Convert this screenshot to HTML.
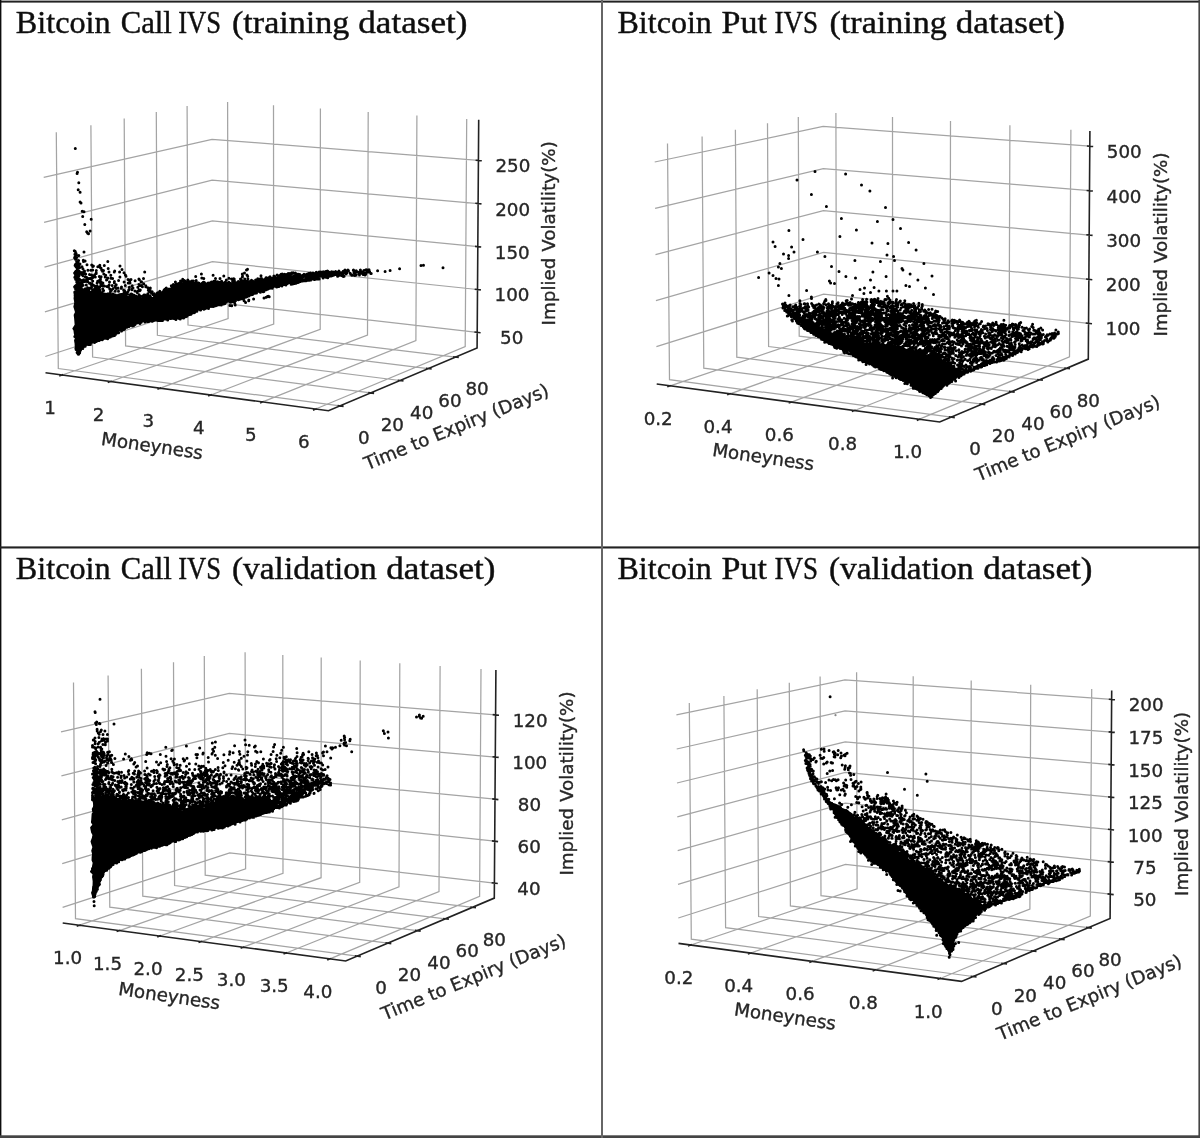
<!DOCTYPE html>
<html><head><meta charset="utf-8"><title>Bitcoin IVS</title>
<style>
html,body{margin:0;padding:0;background:#fff}
body{width:1200px;height:1138px;overflow:hidden}
svg{display:block}
.g{fill:none;stroke:#a4a4a4;stroke-width:1.25}
.a{fill:none;stroke:#222;stroke-width:1.6}
.t text{font-family:"DejaVu Sans","Liberation Sans",sans-serif;font-size:18.3px;fill:#262626;text-anchor:middle;stroke:#262626;stroke-width:.35px}
.d{fill:none;stroke:#000;stroke-width:3;stroke-linecap:round}
.e{fill:none;stroke:#000;stroke-width:2.2;stroke-linecap:round}
.k{fill:#000;stroke:#000;stroke-width:1.5;stroke-linejoin:round}
.h text{font-family:"Liberation Serif","DejaVu Serif",serif;font-size:32.6px;fill:#111;stroke:#111;stroke-width:.45px}
</style></head><body>
<svg width="1200" height="1138" viewBox="0 0 1200 1138">
<defs><filter id="soft" filterUnits="userSpaceOnUse" x="-20" y="-20" width="1240" height="1178"><feGaussianBlur stdDeviation="0.55"/></filter></defs>
<rect x="-20" y="-20" width="1240" height="1178" fill="#fff"/>
<g filter="url(#soft)">
<rect x="-20" y="-20" width="1240" height="1178" fill="#fff"/>
<path class="g" d="M62.1 375L228.1 318.6L227.6 102M110.6 381.5L273.7 324L273.5 105.3M160.2 388.2L320.2 329.4L320.4 108.6M210.9 395L367.5 335L368.2 112M262.7 401.9L415.9 340.7L416.9 115.4M315.7 409L465.2 346.5L466.7 119M340 405.9L58.3 368.5L56.3 132.3M370.6 392.9L92.6 357L90.9 125.3M400 380.5L125.6 345.9L124.2 118.6M428.2 368.6L157.4 335.3L156.3 112.1M455.4 357.1L188 325L187.1 105.9M45.3 356.5L212.5 302.1L477.2 332.3M44.9 311.9L212.4 261.6L477.5 289.5M44.5 267.2L212.3 220.9L477.8 246.6M44.1 222.3L212.1 180.2L478.1 203.6M43.7 177.3L212 139.3L478.4 160.4"/>
<path class="a" d="M45.5 372.8L328.5 410.8L477.1 347.9L478.7 119.8M63.2 374.6L59.2 376M111.7 381.1L107.7 382.5M161.3 387.8L157.4 389.2M211.9 394.6L208.1 396M263.7 401.5L260 403M316.7 408.6L313 410.2M337.6 405.6L343.6 406.4M368.2 392.6L374.1 393.4M397.7 380.2L403.5 380.9M425.9 368.3L431.7 369M453.1 356.8L458.8 357.5M474.4 332L480.6 332.7M474.7 289.2L480.9 289.9M475 246.4L481.2 247M475.3 203.3L481.5 203.9M475.6 160.2L481.8 160.7"/>
<g class="t"><text x="50.1" y="414">1</text><text x="98.6" y="420.5">2</text><text x="148.2" y="427.2">3</text><text x="198.9" y="434">4</text><text x="250.7" y="440.9">5</text><text x="303.7" y="448">6</text><text x="363.9" y="444.1">0</text><text x="392.3" y="431.1">20</text><text x="421.7" y="418.7">40</text><text x="450" y="406.8">60</text><text x="477.1" y="395.3">80</text><text x="511.7" y="344.2" text-anchor="start">50</text><text x="512" y="301.4" text-anchor="start">100</text><text x="512.3" y="258.5" text-anchor="start">150</text><text x="512.6" y="215.5" text-anchor="start">200</text><text x="512.9" y="172.3" text-anchor="start">250</text><text dy="5" transform="translate(152 447) rotate(8.2)">Moneyness</text><text dy="4.5" transform="translate(457 428.5) rotate(-22.3)">Time to Expiry (Days)</text><text transform="translate(555.4 233.3) rotate(-90)">Implied Volatility(%)</text></g>
<path class="g" d="M670.2 385.8L836.4 329.5L835.9 113M730 393.8L892.6 336.1L892.5 117M791.4 402.1L950.1 342.8L950.5 121.1M854.6 410.5L1009.1 349.8L1009.9 125.3M919.5 419.2L1069.5 356.9L1070.9 129.7M951.2 417.1L669.5 379.7L667.5 143.5M981.8 404.1L703.8 368.2L702.1 136.5M1011.2 391.7L736.8 357.1L735.4 129.8M1039.4 379.8L768.6 346.5L767.5 123.3M1066.6 368.3L799.2 336.2L798.3 117.1M656.4 346.7L823.6 294.1L1088.5 323.3M655.9 300.7L823.5 252.4L1088.8 279.3M655.5 254.6L823.4 210.6L1089.1 235.1M655.1 208.4L823.3 168.6L1089.5 190.7M654.7 162L823.1 126.5L1089.8 146.2"/>
<path class="a" d="M656.7 384L939.7 422L1088.3 359.1L1089.9 131M671.3 385.4L667.2 386.8M731.1 393.4L727.1 394.8M792.5 401.7L788.6 403.1M855.6 410.1L851.8 411.6M920.5 418.8L916.8 420.4M948.8 416.8L954.8 417.6M979.4 403.8L985.3 404.6M1008.9 391.4L1014.7 392.1M1037.1 379.5L1042.9 380.2M1064.3 368L1070 368.7M1085.7 323L1092 323.8M1086 279L1092.3 279.7M1086.3 234.8L1092.6 235.4M1086.6 190.5L1092.9 191M1086.9 146L1093.2 146.5"/>
<g class="t"><text x="658.2" y="424.8">0.2</text><text x="718" y="432.8">0.4</text><text x="779.4" y="441.1">0.6</text><text x="842.6" y="449.5">0.8</text><text x="907.5" y="458.2">1.0</text><text x="975.1" y="455.3">0</text><text x="1003.5" y="442.3">20</text><text x="1032.9" y="429.9">40</text><text x="1061.2" y="418">60</text><text x="1088.3" y="406.5">80</text><text x="1123" y="335.2" text-anchor="start">100</text><text x="1123.3" y="291.2" text-anchor="start">200</text><text x="1123.6" y="247" text-anchor="start">300</text><text x="1124" y="202.6" text-anchor="start">400</text><text x="1124.3" y="158.1" text-anchor="start">500</text><text dy="5" transform="translate(763.2 458.2) rotate(8.2)">Moneyness</text><text dy="4.5" transform="translate(1068.2 439.7) rotate(-22.3)">Time to Expiry (Days)</text><text transform="translate(1166.6 244.5) rotate(-90)">Implied Volatility(%)</text></g>
<path class="g" d="M79.6 925.2L245.6 868.9L245.1 652.2M119.5 930.6L283 873.3L282.8 654.9M160 936L321.1 877.7L321.2 657.6M201.3 941.6L359.7 882.3L360.2 660.4M243.4 947.2L399 886.9L399.8 663.2M286.2 953L439 891.6L440.1 666M329.9 958.8L479.6 896.3L481 669M357.2 956.1L75.5 918.7L73.5 682.5M387.8 943.1L109.8 907.2L108.1 675.5M417.2 930.7L142.8 896.1L141.4 668.8M445.4 918.8L174.6 885.5L173.5 662.3M472.6 907.3L205.2 875.2L204.3 656.1M62.6 907.3L229.7 852.8L494.4 883.1M62.2 863.7L229.6 813.1L494.7 841.2M61.8 819.9L229.5 773.4L495 799.2M61.4 775.9L229.3 733.5L495.3 757.1M61 731.9L229.2 693.5L495.6 714.8"/>
<path class="a" d="M62.7 923L345.7 961L494.3 898.1L495.9 670M80.7 924.8L76.7 926.2M120.5 930.2L116.6 931.6M161.1 935.6L157.2 937.1M202.4 941.2L198.5 942.6M244.4 946.8L240.6 948.3M287.3 952.6L283.5 954.1M330.9 958.4L327.2 960M354.8 955.8L360.8 956.6M385.4 942.8L391.3 943.6M414.9 930.4L420.7 931.1M443.1 918.5L448.9 919.2M470.3 907L476 907.7M491.6 882.7L497.8 883.5M491.9 840.9L498.1 841.6M492.2 798.9L498.4 799.6M492.5 756.8L498.7 757.4M492.7 714.6L499 715.2"/>
<g class="t"><text x="67.6" y="964.2">1.0</text><text x="107.5" y="969.6">1.5</text><text x="148" y="975">2.0</text><text x="189.3" y="980.6">2.5</text><text x="231.4" y="986.2">3.0</text><text x="274.2" y="992">3.5</text><text x="317.9" y="997.8">4.0</text><text x="381.1" y="994.3">0</text><text x="409.5" y="981.3">20</text><text x="438.9" y="968.9">40</text><text x="467.2" y="957">60</text><text x="494.3" y="945.5">80</text><text x="528.9" y="895" text-anchor="start">40</text><text x="529.2" y="853.1" text-anchor="start">60</text><text x="529.5" y="811.1" text-anchor="start">80</text><text x="529.8" y="769" text-anchor="start">100</text><text x="530.1" y="726.7" text-anchor="start">120</text><text dy="5" transform="translate(169.2 997.2) rotate(8.2)">Moneyness</text><text dy="4.5" transform="translate(474.2 978.7) rotate(-22.3)">Time to Expiry (Days)</text><text transform="translate(572.6 783.5) rotate(-90)">Implied Volatility(%)</text></g>
<path class="g" d="M690.8 945L857.1 888.8L856.6 672.3M750.7 953L913.3 895.4L913.2 676.3M812.1 961.3L970.9 902.1L971.2 680.4M875.3 969.8L1029.9 909L1030.7 684.7M940.2 978.5L1090.3 916.1L1091.7 689M973 976.5L691.3 939.1L689.3 702.9M1003.6 963.5L725.6 927.6L723.9 695.9M1033 951.1L758.6 916.5L757.2 689.2M1061.2 939.2L790.4 905.9L789.3 682.7M1088.4 927.7L821 895.6L820.1 676.5M678.3 918L845.5 864.4L1110.3 894.2M678 884.4L845.4 833.9L1110.5 861.9M677.7 850.7L845.3 803.2L1110.7 829.6M677.3 816.9L845.2 772.5L1110.9 797.2M677 783L845.1 741.8L1111.2 764.7M676.7 749L845 710.9L1111.4 732.1M676.4 714.9L844.9 680L1111.6 699.4"/>
<path class="a" d="M678.5 943.4L961.5 981.4L1110.1 918.5L1111.7 690.4M691.9 944.6L687.9 946M751.8 952.7L747.8 954.1M813.2 960.9L809.3 962.4M876.3 969.4L872.6 970.9M941.2 978.1L937.5 979.6M970.6 976.2L976.6 977M1001.2 963.2L1007.1 964M1030.7 950.8L1036.5 951.5M1058.9 938.9L1064.7 939.6M1086.1 927.4L1091.8 928.1M1107.5 893.9L1113.7 894.6M1107.7 861.6L1113.9 862.3M1107.9 829.3L1114.1 830M1108.1 796.9L1114.4 797.5M1108.3 764.4L1114.6 765M1108.6 731.9L1114.8 732.4M1108.8 699.2L1115 699.7"/>
<g class="t"><text x="678.8" y="984">0.2</text><text x="738.7" y="992">0.4</text><text x="800.1" y="1000.3">0.6</text><text x="863.3" y="1008.8">0.8</text><text x="928.2" y="1017.5">1.0</text><text x="996.9" y="1014.7">0</text><text x="1025.3" y="1001.7">20</text><text x="1054.7" y="989.3">40</text><text x="1083" y="977.4">60</text><text x="1110.1" y="965.9">80</text><text x="1144.8" y="906.1" text-anchor="start">50</text><text x="1145" y="873.8" text-anchor="start">75</text><text x="1145.2" y="841.5" text-anchor="start">100</text><text x="1145.4" y="809.1" text-anchor="start">125</text><text x="1145.7" y="776.6" text-anchor="start">150</text><text x="1145.9" y="744" text-anchor="start">175</text><text x="1146.1" y="711.3" text-anchor="start">200</text><text dy="5" transform="translate(785 1017.6) rotate(8.2)">Moneyness</text><text dy="4.5" transform="translate(1090 999.1) rotate(-22.3)">Time to Expiry (Days)</text><text transform="translate(1188.4 803.9) rotate(-90)">Implied Volatility(%)</text></g>
<path class="k" d="M74.6 293L77.5 292.6L80.5 292.7L84 294.9L86.7 293.6L90.6 294.6L93.3 294.6L96.6 295.5L98.9 294.9L101.8 294.6L105.2 295.8L110 296.3L113.5 296.5L114.7 296.5L120 297.4L122.1 297.3L126.7 298L130.9 297.4L133.3 298.7L136.2 297.9L140.1 298.1L143.3 298L147.6 296.7L150.5 298L153 297.8L157.1 295.2L160 294.6L163.8 293.2L168 290.8L172.1 288.8L174 287.4L176.7 286.3L179.5 284.5L183.3 283L187 281.8L192 283.3L195.6 283.9L200 284.6L203.1 284.1L206.5 285.5L209.7 283.9L213.6 283.9L216.7 283.8L220 283.5L224.3 284.5L226.6 284.6L229.7 285L233.3 284.3L235.6 284.3L238.6 282.1L243.1 282.7L246.8 284.9L250 282.8L253.5 282.6L256.5 281.4L260.6 281.3L262.5 280.2L266.7 279.6L270.2 278.3L274.1 278.4L276.7 277.1L279.9 275.4L283.3 276.3L284.9 276.6L288.6 276.2L292.6 275.9L296.8 273.7L300 274.6L299.9 278.1L300 282L297.5 282.1L293.3 282.4L289.5 282.5L287.6 283.9L283.3 284.5L279.4 285.2L276.2 286.5L273 287.3L268.9 287.9L266.7 289.5L262.5 290.9L260 291.7L256.5 292L251.9 294L250 294.2L246 296.3L243.3 297.7L239.1 297.6L237.7 299.1L233.3 300.4L229.6 300.8L226.7 302L223.2 303.1L221 304.7L216.7 305.2L212.2 306.9L210 307L207.1 308.4L204 309.2L200 309.2L195.7 311.3L193.3 312L191.5 314.9L185.7 314.1L183.3 317.2L180 318.6L176.7 318.7L173.6 318.9L169.8 319.1L166 318L163.2 318.6L160 319.5L156.6 320.2L152.5 319.7L149.2 319.8L146.8 320.2L143.3 321.2L141.6 321.2L137.4 323.4L133.3 323.5L129.7 326.4L126.7 327L123.7 329.6L121.1 328.6L117.8 330.4L113 333.2L113.9 335.4L110 337L107.6 338.1L103.4 339L100 340.6L97.1 341.2L93.3 342L88.6 344.6L85 345.4L83 347L81 350.7L77.5 354.5L76.8 349L75.5 347.7L75.3 343.3L74.8 340.6L75.8 337.5L74.6 333.7L74.2 330.3L73.1 328.7L75.4 325L75.1 321.3L74.8 317.8L74.4 315L75.8 312.2L74.6 308.2L74.1 306.8L75 302.4L74.3 298.4L74.5 296.8Z"/>
<path class="d" d="M281.8 274.6h0M161.6 294.9h0M105.2 295.2h0M245.9 281.2h0M298.4 274.3h0M107.5 294.5h0M235.1 283.3h0M260.5 280.8h0M282.1 277.7h0M101.9 296.2h0M94.8 292.9h0M297.3 274.3h0M100.4 294.8h0M114 298.2h0M204 282.3h0M174.9 286.8h0M243.6 284.5h0M117.1 296.1h0M280.7 275.4h0M123.1 297.4h0M247.8 281.8h0M89.3 295.5h0M181 282h0M81.4 291.9h0M144.9 295.8h0M144.6 298.3h0M236.7 282.7h0M176.9 287.3h0M86.9 295.1h0M299 276h0M274.8 276.5h0M281.1 274.2h0M129.8 297.1h0M163.1 294.5h0M125.4 298.4h0M102.3 293.3h0M81.5 293.9h0M187.8 283.2h0M101.9 296.8h0M113.9 297.1h0M268.5 280.2h0M183.5 283.8h0M115.5 295.8h0M225.4 282h0M134.1 298.4h0M193.1 281.5h0M138 297h0M190.7 284.4h0M216.1 283.6h0M195.2 283.4h0M163.4 294.3h0M252.7 280.9h0M271.4 280.2h0M114.6 297.9h0M104.8 294.7h0M99.6 294.1h0M295.4 273.1h0M286.8 277.1h0M126.2 296.2h0M293.2 272.8h0M121 298.5h0M188.5 282.1h0M186.4 282.2h0M280.8 277.2h0M83.2 291.4h0M145.3 295.8h0M209.6 283.6h0M89 291.9h0M127.5 297.5h0M179.1 285.5h0M273.1 278.5h0M246 283.1h0M261.4 278.3h0M246 281.6h0M234 285.3h0M266 277.7h0M228 283.8h0M240.3 281.4h0M142.2 299.3h0M111.9 294.7h0M245 282.4h0M111.5 296.1h0M281.8 277h0M208.9 285.4h0M148.5 298.3h0M285.7 274.9h0M109.1 294h0M190.3 283.1h0M94.7 296.1h0M292.2 273h0M204 285h0M255.6 279.9h0M137.7 297.3h0M255.2 281.4h0M232.9 284.2h0M219.5 285.3h0M288.8 276h0M172 287.8h0M167.8 291.2h0M230.4 283.6h0M262.7 279.5h0M149.8 296.8h0M225.4 283.5h0M121.3 296.1h0M198.7 282.9h0M247.8 281.1h0M88.8 293.5h0M238.5 282.5h0M77.5 294.1h0M290.6 276.4h0M179.9 283.6h0M166.5 291.5h0M236.8 285.1h0M192.3 282.3h0M239.2 283.5h0M93.2 293.9h0M201.2 284.6h0M200.1 285.9h0M284.7 274.2h0M83 295.1h0M176.4 286.6h0M216.6 284.5h0M198.5 284.4h0M90.8 295.4h0M208.1 283h0M124.2 298.1h0M118.2 295.7h0M272.6 278h0M118.7 297.4h0M176.7 284.6h0M243.6 281.1h0M233.9 284.9h0M199.1 285.2h0M256.4 281.7h0M179.3 283.8h0M214.2 284.1h0M259.1 278.9h0M227.3 284.3h0M219.1 283.7h0M165.8 291.8h0M200.2 283.9h0M163.5 291.3h0M242.2 283.9h0M160 294h0M179.5 285.4h0M244.7 282.2h0M187.8 279.9h0M150.4 297.5h0M260.9 280.7h0M160.1 295.7h0M264.9 281h0M251.5 280.2h0M175.1 287.7h0M235.1 282.7h0M81.8 293.9h0M162.1 292.6h0M268.4 278h0M205 283.8h0M200.1 284.2h0M224.2 284.3h0M227.2 284.2h0M205.9 284.5h0M169.1 289.3h0M115.5 297.1h0M140.2 296.9h0M140.2 297.9h0M171.4 288.4h0M299.8 274.4h0M153.7 295.1h0M175.1 286.6h0M158 293.9h0M205.4 283.4h0M288.2 273.6h0M274.9 278.1h0M159.3 296h0M134.3 296.9h0M273.9 276.1h0M185.6 282.2h0M228.9 282.2h0M90.6 295.4h0M269.8 277h0M144.8 296.9h0M185.8 281.7h0M118.8 295.2h0M169 289.1h0M261.1 279.3h0M261 281h0M181.1 285.6h0M247.6 282h0M177.5 286.5h0M158.4 293.4h0M197.4 284h0M119.5 296.5h0M145.6 296.6h0M233.7 285.1h0M248.1 283.5h0M86.8 292.1h0M239.6 282.4h0M258.7 281.9h0M174.6 288.8h0M88.1 294.1h0M228.3 285.1h0M129.7 299.4h0M219.4 284.3h0M159.1 295.1h0M218 282.2h0M132.4 297h0M181.7 283.8h0M192.6 284.6h0M216.6 282.5h0M119.9 296.4h0M291.4 273.1h0M139.4 298.3h0M143.2 297.3h0M132 298.7h0M89.3 292.7h0M169.6 290.1h0M248.4 283.1h0M234.4 283.6h0M118.2 295.4h0M105 294.9h0M146.7 298.4h0M247.6 281.3h0M184.3 280.5h0M282.6 275.8h0M222.4 282.4h0M214.3 284.6h0M247.5 283.8h0M243.6 284.7h0M151.7 298.7h0M132.1 298.1h0M172.9 286.5h0M184.6 283.4h0M106.1 296.3h0M173.8 288.3h0M218.6 284.1h0M104.7 296.6h0M105.2 294.5h0M113.3 296.8h0M138.1 297.6h0M291.3 274.3h0M79.9 292.3h0M115.6 295h0M111.3 295.9h0M181.2 283h0M77.4 292.4h0M177.6 286.8h0M110.8 296.6h0M135 298.2h0M253.1 283.6h0M115.6 295.2h0M213.5 283.5h0M165.8 289.7h0M168.4 289.7h0M258.6 282.5h0M110.4 294.2h0M282.8 276.9h0M275.9 278.7h0M225.1 283.6h0M85.2 294.6h0M223.9 283.3h0M209.7 283h0M248.5 282.5h0M122.4 295.8h0M289.5 274.4h0M274.3 276.8h0M99.9 296.7h0M145.3 296.8h0M81.4 292h0M261.8 281.8h0M280.8 274.8h0M297.7 276.2h0M212.3 284.9h0M224.5 284.1h0M227.3 283.3h0M202.9 282.8h0M289.2 273.6h0M211.4 282h0M149.9 296.8h0M189.9 281.8h0M78.3 294.5h0M237.7 283.6h0M230.8 285.7h0M169.2 290.6h0M266.4 277.7h0M244.8 283h0M150.1 296h0M91.5 292.1h0M103.9 297h0M115.7 295.7h0M142.7 296.3h0M175.2 285h0M283.7 276.4h0M136.9 297.3h0M277.1 275.1h0M227.8 284.5h0M266.9 278.1h0M165.2 292.8h0M74.8 292.5h0M251.9 282.1h0M129.5 297.3h0M106.2 296.1h0M254.7 283.4h0M229.1 284.9h0M122 295.3h0M134.5 297.5h0M286.3 274.4h0M134.7 295.9h0M232.8 282.6h0M103.3 294.1h0M258.2 282.6h0M100.6 295.8h0M190.6 283.8h0M82 293.9h0M198.3 283.1h0M265.3 278.9h0M93.1 293.8h0M136 296.7h0M246.8 282.3h0M211.4 284.6h0M144.7 295.8h0M216.1 282.4h0M176.8 285.7h0M268.9 279.4h0M140.2 298.1h0M245.3 283.6h0M217.7 281.8h0M241.3 281.8h0M159.5 293.6h0M237.8 282.5h0M231.9 284.8h0M161.6 295.3h0M80 293.7h0M291.6 273.1h0M235.3 282.8h0M120.3 298.1h0M239.2 285h0M137 297.9h0M180.1 283.5h0M268.3 278.2h0M175.3 287.1h0M139.1 299h0M143.1 296.9h0M91.4 292.7h0M123.6 295.2h0M135.3 296h0M113.1 297.5h0M88.3 294.2h0M179.3 286.5h0M122.5 295.3h0M241 282.6h0M282.5 277.1h0M135.7 298.1h0M203.3 282.2h0M188.5 281.4h0M91 294.5h0M102.3 295.8h0M274 277.5h0M181.2 282.3h0M255.8 283h0M89.1 293.6h0M208.4 284.6h0M269.6 278.7h0M270 276.8h0M75.3 291.5h0M191.9 281h0M157.4 294h0M245.8 281.5h0M90.6 293.5h0M133.9 296.8h0M257.7 280.3h0M180.1 285.3h0M176.4 284h0M292.9 273.2h0M146.3 298.7h0M83.5 293.4h0M162.7 292.6h0M108.7 294.7h0M92.5 294.2h0M202.4 282.9h0M289.5 276.6h0M205 285.2h0M220.3 282.7h0M147.2 295.5h0M203.1 285.5h0M244 282h0M207.2 284.4h0M255.4 282.7h0M198.4 285h0M118.8 298.1h0M205.7 283.8h0M185 283.3h0M111.5 295.8h0M213.9 282.5h0M258.6 280.6h0M104.6 294.6h0M197.2 284.7h0M239.8 284.5h0M165.1 290.2h0M135.1 296.2h0M158.2 294.5h0M196.4 283.4h0M229.2 285.5h0M200.4 285.8h0M98.2 296.5h0M258.8 281.5h0M282.8 276.6h0M96.9 293.6h0M130.4 297h0M113.3 294.1h0M265.9 280.6h0M279.7 275.6h0M84 291.6h0M149.2 296.6h0M117.5 295.9h0M180.1 285h0M282.3 274h0M89.9 292.7h0M112.7 297.7h0M184.1 283.7h0M121.5 330.8h0M121.2 330.6h0M164.9 319h0M252.5 294.4h0M82.8 348.6h0M263.2 291.8h0M297.8 282.6h0M200.4 310h0M155.4 320h0M126.9 327.3h0M115.4 334.6h0M147.1 319.6h0M266.5 289.4h0M74.8 336.5h0M251.6 292.4h0M224.9 303.2h0M78.3 354h0M89.8 344.5h0M240.1 298.1h0M226.1 301.9h0M144.9 322h0M268.7 288.5h0M121.5 330.9h0M170.5 318.6h0M100 339.4h0M219.9 303.4h0M93.7 341h0M114.6 333.9h0M247.2 294.6h0M187.1 316h0M223.6 304.1h0M239.9 297.4h0M211.1 305.4h0M118.7 330.3h0M231.9 301.8h0M100.2 338.6h0M135 324.4h0M175.3 318.1h0M99.9 339.1h0M98 339.8h0M221.4 304.1h0M241.7 296.7h0M157.8 320.6h0M162.1 319.4h0M120.9 329.6h0M191.9 311.8h0M205.2 308.3h0M285 284.4h0M83.2 347.1h0M279.4 285.1h0M297.9 282.1h0M152.3 321.2h0M238 299.1h0M260.4 292.3h0M221.2 304h0M139.3 322.6h0M214.8 305.5h0M272.2 288.2h0M98.2 340.4h0M182.5 317.8h0M79.2 351.7h0M265 289.4h0M249.9 295.1h0M84.4 345.7h0M242.6 298.7h0M230.3 302.2h0M102.6 339.3h0M192.7 311.1h0M229.8 301.8h0M149.8 320.8h0M187.9 314.1h0M294.6 283.6h0M217.7 304.7h0M187.5 313.7h0M88.9 342.5h0M101.4 338.7h0M266.3 289.8h0M241.8 298.8h0M262.7 289.6h0M204.7 306.7h0M204.2 308.5h0M193.9 311.3h0M240.1 298.2h0M148.7 321.4h0M186.3 316.6h0M180.2 319h0M223.5 303.6h0M122.9 327.8h0M79.7 351h0M94 341.9h0M114.5 335.4h0M267.7 287.9h0M236 299.6h0M243.5 297.2h0M174.4 318.4h0M97.3 340h0M179.2 317.4h0M269 287.9h0M189.1 313h0M216.8 305.2h0M158.6 319.3h0M107.9 338h0M215.6 305.7h0M183.6 318.1h0M152.1 319.7h0M132.5 325.9h0M231.3 300.4h0M145.9 321.2h0M204.2 309h0M132.7 324.5h0M244.3 296.9h0M158.8 319.8h0M182.2 316.3h0M283.6 284.4h0M236.4 298.3h0M240.4 297.6h0M150.7 320.6h0M263.9 291.5h0M161.2 320.6h0M297.4 281.6h0M276.5 285.5h0M223 303.1h0M261.9 290.8h0M197 310h0M239.7 299.3h0M102.2 339.7h0M297.4 282.4h0M254.9 293.2h0M106.2 338.2h0M128.9 326.6h0M204 309.3h0M246.4 297.1h0M107.7 338.8h0M291.1 284.2h0M152.2 319.1h0M298.9 281.9h0M244.1 297.9h0M183.7 316.3h0M156 320h0M95.8 339.9h0M93.9 340.9h0M216.3 304.9h0M248.8 293.5h0M279.1 285.4h0M156.5 319h0M285.9 284.9h0M141.1 321.3h0M286.4 283.6h0M281.7 285.7h0M109.1 337.3h0M268.5 287.6h0M233 299.5h0M232.8 300.7h0M263.9 289.4h0M195.3 310.3h0M188.5 314.7h0M157 319.6h0M269.6 287.9h0M277.7 286.2h0M110.3 337h0M248.5 293.6h0M136.3 322.9h0M115.6 333h0M118.6 332.7h0M203.6 307.1h0M137.3 322.7h0M128.8 325.3h0M96.3 341.5h0M147.4 321.5h0M249 293.4h0M78.9 353.8h0M183.1 317.6h0M210.2 306h0M85.2 346.3h0M140.5 321.5h0M278.9 286.5h0M298.7 280.9h0M266.2 289.4h0M112.4 335.4h0M246.7 296.8h0M175.9 319.5h0M112.6 335.4h0M182.7 316h0M282.6 284.4h0M272.3 287.3h0M162.5 320.6h0M88.4 344.4h0M277.5 285.8h0M296.9 281.9h0M189.6 314.5h0M124.9 326.8h0M196.9 311.2h0M231.4 301.2h0M183 316.9h0M153.7 320.6h0M130 325.4h0M141.1 320.8h0M85.3 344.9h0M131.7 323.9h0M289.4 282.3h0M75.9 348.6h0M238.4 299.7h0M252.3 292.7h0M165.5 319.1h0M208.5 308.5h0M123.9 329.4h0M225 303.5h0M234 300.5h0M240 298.7h0M185.1 316.3h0M293.3 283.1h0M269.8 288.3h0M203.4 307.9h0M228.2 300.8h0M136.1 322.4h0M287.3 283.4h0M219.8 304.8h0M276.3 286.6h0M139.3 321.6h0M296 283.3h0M97.9 339.2h0M193.9 312.8h0M99 340.6h0M116.9 332.9h0M246.7 295.5h0M89 344.5h0M160.5 318h0M117.3 331.1h0M266.2 289.6h0M92.6 341.6h0M150.1 320.1h0M267.5 289.2h0M229.3 300h0M233 301.6h0M298 282.6h0M79.3 351.3h0M224.3 303.3h0M242.4 297.9h0M243.1 298.1h0M235.4 300.3h0M90.4 344.4h0M93 340.9h0M248.7 296.1h0M212.3 306.2h0M133.4 323.7h0M76.1 349.4h0M194.6 310.9h0M94.5 342.6h0M243.1 297.7h0M151 319.1h0M256.5 293h0M95.6 341.1h0M185.7 316.7h0M96.6 339.6h0M250.4 294.9h0M200.6 310h0M127.1 325.4h0M291.6 283h0M228.1 300.5h0M150 320.4h0M267.3 288.1h0M159.9 320.4h0M287 282.9h0M141.2 322.2h0M296.5 282.8h0M88.2 343.5h0M240 297.7h0M139.9 323.4h0M169.8 317.6h0M217.8 304h0M84.4 345.6h0M124.5 328.4h0M97.5 340.2h0M241.2 297.1h0M124 328.6h0M186.6 315.9h0M148.3 321.1h0M127.4 326.6h0M285.4 283.5h0M188.7 312.9h0M221 303.8h0M233.2 300.6h0M259.6 291.5h0M133.5 325.7h0M91.8 341.7h0M179.6 318.7h0M112.5 336h0M78.7 354.2h0M281.9 285.9h0M215.6 304.6h0M167.7 320.1h0M104.9 338.1h0M246.1 296.6h0M194.5 312.6h0M113.4 335.1h0M296 282.7h0M288.9 282.4h0M283.5 284.6h0M260.8 290.6h0M194.2 311.2h0M141.9 321.2h0M221.3 304.9h0M108.2 337.8h0M213.4 306.5h0M89 342.7h0M77.1 352.5h0M235.7 300.6h0M151.5 319.2h0M231.6 301.9h0M250.3 293.8h0M262.8 290.3h0M213.2 306h0M265.4 289.6h0M222.9 303h0M283.6 284.1h0M276.7 286.9h0M83.8 346.2h0M134.5 323.2h0M161.9 319.1h0M131 324.2h0M114 334.3h0M271.4 287.9h0M79.7 352.7h0M115.1 332.7h0M245.8 296h0M124.5 328.9h0M132.4 324.4h0M292.6 283.9h0M246.4 296.5h0M175.4 317.4h0M74.6 272.9h0M98.4 291.4h0M129.3 279.9h0M81.4 288.8h0M171.7 286.4h0M179.2 284.3h0M178.5 283.4h0M97.5 293.5h0M77.7 284.2h0M196.2 280.5h0M109.3 296.2h0M131.8 289.3h0M139.8 285.5h0M106.9 279.8h0M131.8 296.2h0M96.2 273.5h0M182.8 280.5h0M85.3 288.7h0M137.8 287.2h0M86.4 279.7h0M82.7 282.1h0M128.1 291.5h0M98.5 291.7h0M91.2 288.3h0M141.1 282.1h0M233.5 278.7h0M82.2 274h0M147.7 295.5h0M242.3 274h0M232.8 282.8h0M104.4 286.1h0M92.4 275.7h0M256.7 280.1h0M125.3 285.4h0M87.5 280.1h0M152.2 292.9h0M137.2 292.4h0M76.1 290.9h0M112.2 295h0M99.2 290.8h0M122.9 296h0M114.3 272h0M97.1 289.6h0M114.3 282.7h0M120 295h0M140.4 295.9h0M221.3 283.5h0M252.7 282h0M155.5 295.1h0M239.3 282.2h0M139 289.8h0M87 290.1h0M90.9 278.3h0M79.1 282.9h0M101.4 295.3h0M215.5 278.6h0M110.9 278.2h0M101.7 285.6h0M219.8 282.3h0M249.9 281.6h0M141.4 285.5h0M257.7 278.8h0M132.2 285.8h0M150.9 292.5h0M110.5 291.6h0M133.7 294.9h0M134.9 291h0M188.3 281.2h0M221.6 281.3h0M203.8 278.4h0M248.5 281.7h0M83.3 290.5h0M261.6 279.4h0M107.8 277.9h0M80.6 286.3h0M85 281.5h0M101.3 295.2h0M228.9 278.2h0M142.4 286.7h0M118.6 280.6h0M138.3 297.7h0M113.3 296.3h0M158.9 292.9h0M105.7 275.2h0M195.6 283.1h0M111.6 289.8h0M147.2 295.3h0M83.5 261.5h0M80.7 287h0M83.5 289.8h0M204.4 282.6h0M79.7 284.3h0M116.8 296.3h0M84.5 271.5h0M90.9 288.2h0M118.5 291.2h0M115.5 285.8h0M78.6 267.4h0M104.6 294h0M108.2 268.5h0M159.8 291.3h0M121.2 294.6h0M90.2 288h0M213.8 281.2h0M134.6 297h0M182 280.7h0M261 275.8h0M123.3 295.9h0M138.9 284.6h0M160.3 293.8h0M244.8 278.9h0M139.7 290.7h0M200.1 284.2h0M149.3 288.4h0M78.8 255.5h0M90.9 292.9h0M114.7 271.1h0M135.1 280.7h0M112.2 285.4h0M175.4 282h0M123.3 293.9h0M92.7 270h0M89.2 293.2h0M83.1 285.3h0M130.9 296.8h0M104.3 265.4h0M89.6 293.6h0M86.7 281.2h0M115.3 286.6h0M150.3 288.1h0M120.2 294.4h0M124.6 290.9h0M93.3 292.2h0M133 288.1h0M202.2 284.2h0M86 289.6h0M108.5 286.9h0M130.1 294.8h0M248.5 281.7h0M145 294.9h0M131 279.4h0M107.7 294h0M97.1 282.9h0M80 290.7h0M89.5 274.6h0M87.9 270.2h0M116.3 288.6h0M201.8 278.1h0M123.7 293.7h0M129.4 287.3h0M76.6 272.6h0M139 294.8h0M148 297.4h0M157.3 293h0M97.2 286h0M97.3 291.4h0M150.5 297h0M196.5 282.4h0M125.8 295.9h0M102.7 288.8h0M126.3 294.6h0M78.4 288.3h0M76 289.1h0M74.9 287.4h0M132.5 287.7h0M217 283.5h0M96.6 291.1h0M107 286.4h0M105.9 294.3h0M74.6 286.8h0M115.2 291.3h0M87.7 291.5h0M105 295.2h0M82.2 284h0M75.3 287.2h0M124.1 292.3h0M103.3 290.6h0M91.8 283.8h0M143.8 295h0M242.3 281.3h0M128.2 282.9h0M243.3 281.8h0M164.7 291.1h0M232.6 281.2h0M99.7 287.1h0M86.9 289.2h0M96.2 272.7h0M125.4 274.9h0M226.3 280.1h0M108.1 294.5h0M94.7 274.8h0M238.3 281.6h0M154.5 296.9h0M122.4 294.5h0M94.6 288.7h0M214.5 283.8h0M82.9 268.7h0M179.6 284.2h0M97.9 289.7h0M173.3 284.4h0M101.3 294.1h0M131 294h0M85.4 277h0M180.5 280.9h0M131.9 289.7h0M137.6 297.4h0M234.4 280.8h0M135.8 297.7h0M75.1 265.4h0M203.9 284.3h0M74.6 257.8h0M229 282.7h0M118.4 295.7h0M103.6 290.5h0M75.7 275.4h0M239.8 283h0M134 296h0M94.8 286h0M175.5 285.1h0M151.5 293.2h0M90.4 292.9h0M127.2 294.1h0M217.9 283.1h0M247 274.9h0M112.3 295.4h0M215.8 283.1h0M137.3 291.5h0M242.4 277h0M241.8 280.5h0M131.6 293.9h0M124.1 281.9h0M103.2 285.6h0M91.5 287.4h0M75.1 288.1h0M121.3 288.2h0M183.2 280.2h0M136 296.1h0M219.4 283.4h0M214.8 283.8h0M158.1 292.8h0M122.3 297h0M164.1 290h0M80.8 287.8h0M103.9 295.4h0M81.9 286.1h0M91.7 265h0M86.3 285.1h0M171.9 287.1h0M148.3 290.2h0M138.9 279.1h0M119.9 276.9h0M77.9 291.4h0M89.9 283.1h0M140.3 290.1h0M88.5 289.4h0M250.2 282.4h0M99.5 289.6h0M166.3 288h0M102.9 282.9h0M255.5 281h0M183.1 280.8h0M118.4 294.9h0M103.5 270.4h0M87.2 292.4h0M247.7 276.2h0M83.6 279.8h0M94.2 293h0M112.8 294h0M113.2 288.6h0M129.7 281.5h0M93 285.3h0M80.8 289.7h0M109.2 296h0M145.8 286.8h0M171.3 285.7h0M96.1 293.7h0M102.2 292.4h0M109.1 285.1h0M124.4 292.5h0M211.3 282.8h0M128.8 289.7h0M109.8 289h0M121.5 286.9h0M100.2 282.6h0M234.2 279h0M241.4 283h0M75.4 288.7h0M83 275.7h0M78.7 290h0M147.8 293.8h0M109.5 282h0M247.1 282.8h0M112.3 294.7h0M95.3 291.5h0M212.1 284h0M195.7 276.6h0M123.7 290.3h0M149.4 291.6h0M79.7 287h0M247.9 278.9h0M203.4 283.6h0M117.7 295.8h0M193.3 280.9h0M221.2 281.7h0M100.5 279h0M213.1 275.2h0M251.7 281.6h0M202.6 283h0M89.5 283.2h0M153.2 294.8h0M215.4 281.2h0M99.4 289.7h0M235 284h0M231.7 283.7h0M126.8 292.5h0M239.4 283.5h0M76.3 275.6h0M231.6 279h0M128.6 296.9h0M77 285.3h0M164.8 289.2h0M91.6 292.9h0M182.7 279.2h0M100.6 281.8h0M172.9 288.2h0M225.2 283.5h0M127.4 294h0M94.8 294.3h0M148 294.3h0M102.3 284.7h0M78.9 289.2h0M75.2 295h0M79.2 278.9h0M79.4 279.2h0M76.5 278.5h0M76.7 264h0M76.8 265.5h0M76.1 289.7h0M79.7 279.6h0M77.4 293.4h0M78.4 263.2h0M77.8 278h0M75.5 278.5h0M77.3 269.3h0M80 264h0M79.4 279.3h0M78.6 282h0M76.5 288.2h0M78.3 294.2h0M76.5 294h0M75.4 274.7h0M79.6 290.2h0M76.1 253.4h0M78.9 274.8h0M76.6 261.8h0M75.3 271.9h0M79.1 265.5h0M76.2 292.3h0M78.7 279.4h0M76.3 254.7h0M78.1 289.1h0M76.7 257.2h0M80 286.5h0M75.9 271.3h0M76.5 284.9h0M75.1 256.5h0M78.7 283.6h0M75.5 259.3h0M76.1 264.1h0M78.3 293.9h0M75.3 285.9h0M79.7 291h0M79.2 286.9h0M77.4 293.3h0M75.9 255.1h0M76.9 289.1h0M77.8 286h0M77.4 269.9h0M77.7 265.8h0M78.4 280.9h0M76.9 282.2h0M78.6 285h0M77.3 279.9h0M76.6 290.5h0M76 275.7h0M78.9 267.9h0M75.9 275.9h0M77.3 274.7h0M79.6 292.9h0M74.8 277.3h0M77.1 286.9h0M79.2 271.3h0M78.3 293.4h0M76 285.6h0M75.4 252.1h0M77.6 265.4h0M77.2 267.6h0M74.9 254.2h0M78.2 285.3h0M77.5 275.4h0M78.6 260.4h0M76.8 286.8h0M76 289.4h0M78.9 273.5h0M75.1 251.2h0M79.7 293.8h0M75.9 279.5h0M75.4 264.6h0M78.1 278.2h0M76.2 291.4h0M77 286h0M78.9 293.1h0M93.2 285.1h0M81.7 274.4h0M96 292.5h0M83.4 292.8h0M76.4 272.4h0M101.3 293.2h0M78 287.5h0M99.3 276.6h0M91.9 294.3h0M79.9 282.7h0M85.1 261.1h0M78.9 275.9h0M97.8 266.8h0M101 284.6h0M85.3 289.7h0M93.7 292h0M87.3 278.3h0M86.9 294.5h0M85.3 291.8h0M87.6 281.8h0M79.2 291.2h0M93.5 276.6h0M83.3 274.2h0M75.6 279.2h0M81.5 280.5h0M91.4 279h0M93.3 292.1h0M97.7 291.3h0M75.2 273.7h0M89.1 278.5h0M92.7 281.1h0M83.4 293.8h0M83.1 293.2h0M91.6 275.1h0M83.1 294.1h0M97.4 288.4h0M83.8 272.6h0M85.7 274h0M100.9 281.5h0M74.8 292.1h0M100.6 294.6h0M79.5 290.2h0M97.6 281.2h0M91.1 284.5h0M92.6 290.1h0M84.5 271.1h0M78.6 285.3h0M78.2 272h0M90.9 287.7h0M83.3 260.3h0M78.9 283.9h0M79.5 267.7h0M99.2 280.4h0M89.7 291.9h0M94.2 294.1h0M77.3 280.2h0M92.8 266.5h0M97.8 294.3h0M101.8 293.9h0M93.4 265.9h0M100.8 285.2h0M77.9 282.5h0M95.7 286.5h0M83.6 271.8h0M76.7 281.9h0M77.7 275.5h0M96.3 270.4h0M86.8 277.4h0M82 266.7h0M81 287.5h0M80.3 282.6h0M101.1 276.8h0M82 284.3h0M75.8 289.1h0M81.2 272.4h0M76.2 258.8h0M75.3 294.9h0M100.4 292.7h0M88.8 291.1h0M100.3 267.6h0M79 273.1h0M95.3 276.9h0M87.6 287.7h0M80.3 287.3h0M99 292.9h0M77.1 282.9h0M96.1 291.2h0M92.8 277.4h0M94.8 291.3h0M76 271.9h0M87 264.8h0M77.8 266.5h0M78.7 290h0M100 290.8h0M89.1 293.1h0M81 286.9h0M87.1 292.4h0M76.1 267h0M90.9 270.2h0M90.6 292.7h0M101.4 284.2h0M80.9 285h0M101.7 269.9h0M334 272.4h0M367.7 270.2h0M311.3 275.7h0M314.7 279.4h0M315.6 278.4h0M314.9 273.9h0M310.7 277.5h0M345 269.9h0M311.4 279.6h0M317.8 278.9h0M320.7 273.3h0M399.6 268.8h0M313.5 274.8h0M335.6 271.6h0M313.4 277.7h0M345.8 272.3h0M316.3 272.2h0M300.5 276.1h0M323.7 276.1h0M313.9 277.7h0M310.5 273.1h0M311.8 276.9h0M300 279.3h0M339 274.4h0M325.2 275.8h0M331.2 275.9h0M326.6 273.4h0M316 278.5h0M320 275h0M321 272.1h0M361.7 273.3h0M314.4 275h0M305.7 278.4h0M302.9 276.9h0M313.9 276.2h0M326.8 274.9h0M327.4 275.9h0M338.8 272.1h0M333 274.9h0M302.9 275.9h0M316.4 278h0M315.5 274h0M304.1 274.5h0M327.8 271.3h0M343.2 273.9h0M301.3 276.8h0M324.1 275.4h0M304.3 276.2h0M343.3 272.8h0M325.9 277.2h0M302.2 281.1h0M323.2 271.8h0M309.5 280.2h0M308 277.1h0M333.6 275.3h0M317.1 278.9h0M363.9 270.5h0M361.5 271.7h0M351.9 275.3h0M317.4 275.9h0M359.4 274.9h0M302.5 280.4h0M343.3 276.5h0M314.9 277.3h0M353.5 270h0M300.8 281.2h0M327 272.4h0M302.4 275.4h0M311.9 275.6h0M326.3 272.6h0M305.1 274.9h0M335.9 274.5h0M323.1 277.9h0M308.7 275.2h0M324.6 273.9h0M319.3 276.5h0M301 276.7h0M337.2 273.5h0M337.6 276.2h0M360.4 270.1h0M366.8 272.3h0M315.5 273.9h0M331.8 275.7h0M329.2 272.3h0M301.7 280.3h0M338.4 272.9h0M310.9 279.9h0M318.2 274.6h0M330.1 274.1h0M322.6 272.3h0M311.2 275h0M354.5 272.2h0M303.3 280.7h0M328.8 274.9h0M307 279.5h0M363.2 274.4h0M365.6 269.9h0M337.5 272.3h0M356.1 274.7h0M342.4 275h0M332.6 274.3h0M340.6 272.8h0M360.5 272.4h0M308.4 273.5h0M338.9 271h0M306.8 276.2h0M320.1 272.8h0M314 274.2h0M331.1 276.1h0M331.4 275.7h0M359 273.9h0M350.2 273.3h0M302.2 281.1h0M306.6 275.3h0M301.4 279h0M337.2 273h0M314.3 279.4h0M377.6 270.7h0M308.3 275.1h0M370.8 273.4h0M341.4 275.4h0M342 274.7h0M329.2 276.2h0M356.2 270.7h0M309.2 277.7h0M353.9 273h0M355.6 275.2h0M329.1 273.6h0M333.2 272.1h0M308.9 275.5h0M321.8 275.3h0M327.7 277.7h0M312.9 277.8h0M301.3 279.7h0M368.9 271.9h0M346.4 272.4h0M315.2 279.2h0M324.2 274.5h0M328 271.9h0M371.2 273.4h0M325.9 272.6h0M338.4 272.8h0M346.1 273.8h0M303.6 280.2h0M327.4 271.1h0M364.2 273.1h0M348.4 270.6h0M362.6 273.1h0M306.1 278.2h0M343.5 273.3h0M311.2 276.1h0M354.9 272.9h0M344.1 276.2h0M315.7 274.9h0M327.2 274.3h0M320.6 272.8h0M366.8 271.5h0M325.6 271.6h0M302.7 280.9h0M324.4 273.8h0M300.4 281.5h0M305 274.8h0M321.8 276.3h0M320.1 276.1h0M302.3 279.1h0M314 278.4h0M311.5 273.4h0M311.5 278.3h0M319.1 272.1h0M301 276.7h0M300.9 280.7h0M309.2 277.4h0M337.7 276.3h0M365.7 274.2h0M341.3 272.8h0M302.6 276.3h0M348.5 271h0M347.9 270h0M350.7 274.3h0M338.7 275.5h0M310.3 273.4h0M322 275.1h0M319 277.9h0M301 279.2h0M324.7 274.2h0M310.5 280.1h0M369.6 271.6h0M333.6 272.5h0M346.8 273h0M300.9 277h0M337.4 272.8h0M346.1 273.1h0M320.1 272.3h0M310 277.6h0M321.6 275.8h0M325.3 276.2h0M318.7 273.7h0M313 273h0M333.8 275.1h0M357.3 271.8h0M310.7 277.4h0M355.9 271.2h0M301.8 276.9h0M335.3 272.1h0M314.2 276.1h0M323.8 276h0M314.7 274.1h0M302.8 276.5h0M306.3 277.1h0M385.1 271.5h0M317.7 274.7h0M369 269.7h0M323.5 275.1h0M358.4 272.2h0M319.2 279.1h0M390.1 270.6h0M321 272h0M310.2 277.8h0M306.7 274.2h0M302.5 277h0M304 274.3h0M334.8 274.3h0M315.1 273.6h0M354.6 275.5h0M307.6 274.9h0M365.1 274.9h0M307.3 280.3h0M310.8 276.8h0M314 275.9h0M310.4 275.9h0M317.7 277.5h0M346.1 271h0M302.4 276.9h0M309.6 273.6h0M301.7 277.5h0M343.2 271.2h0M304.4 280.8h0M322.9 274.7h0M353.9 271h0M312.9 274.7h0M304.2 275.3h0M310.6 273.7h0M366.4 269.7h0M303.4 279.4h0M353.3 270.2h0M304.4 280.2h0M306.1 280.8h0M342.9 276h0M331.5 271.8h0M313.1 278.5h0M269.2 296.8h0M264 298h0M244.1 300.8h0M248.8 300h0M245.6 302.4h0M231.7 305.7h0M268.5 296.2h0M235.2 304.9h0M234.8 303.3h0M229.9 305.4h0M267.4 296.5h0M266.2 297.2h0M253.6 299.1h0M248.7 300.7h0M99.8 265.3h0M101.1 268.2h0M102.5 271.2h0M103.8 274.1h0M105.2 277.1h0M106.5 280h0M139.4 279.8h0M141.5 281.8h0M143.7 283.8h0M145.8 285.8h0M147.9 287.8h0M150.1 289.7h0M152.2 291.7h0M154.4 293.7h0M156.5 295.7h0M109 272h0M110.8 275.2h0M112.6 278.4h0M114.4 281.6h0M116.2 284.8h0M118 288h0M120 266h0M122 269.4h0M124 272.8h0M126 276.2h0M128 279.6h0M130 283h0M240.5 279h0M242.5 276h0M244.5 273h0M246.5 270h0M75.3 148.5h0M77.5 172.3h0M77.1 173.5h0M78.8 182.8h0M78.2 189.7h0M80.1 192.3h0M80.1 202h0M81 203h0M82.2 211.3h0M84 211.8h0M82.7 216.5h0M91.2 219.2h0M84.8 224.5h0M86.7 231.8h0M88.5 233.7h0M90.1 231h0M87.5 233h0M74.3 250.8h0M84 252h0M107.8 261.4h0M119.6 272h0M144.7 272h0M143.5 278.5h0M201.4 274h0M223.8 275.9h0M220 278.5h0M247.5 269.3h0M443 267.8h0M421 265.6h0M423.5 265.2h0"/>
<path class="k" d="M787 311.5L791.8 313.9L794.3 314.1L798.2 315.8L801.6 318.4L803.3 319L807.7 321.2L808.8 321.9L811.9 322.5L814.3 323.9L816.9 326.1L819.3 327.7L822.9 329L826.4 330.7L828.9 331.6L831.1 332.9L833.3 333.5L836.7 335L840.2 335L843.9 336.2L846.2 337.4L849.6 337.9L851.1 337.4L854.7 338.8L858.4 341.6L859.2 340.2L864.3 343L867.3 343.1L870 343.5L874.4 344.4L875.1 343.9L879.2 344L881.9 344.6L884.5 345.9L887.8 344.8L890.5 346.1L895.8 346.6L898.3 347.1L900 347L902.7 346.8L905.9 350.1L908.8 349L914.4 350.8L916.7 351L919.7 351.9L924 352.6L926.5 355.2L928.6 354.8L933.3 356L935.6 356.3L939.1 358.2L942.4 360.9L944.5 361.1L947.5 362.8L950 364L953.1 366.3L954.6 368L960.2 369.4L960.1 370.5L964 372L960.9 374.7L957.7 376.7L955 378.7L953.2 380L950.3 381.4L946.8 383.6L945.4 384.8L941.7 387L939.1 390.3L936.7 392L932.7 395L930.5 396.5L927.5 395L927.2 394.8L923.4 390.9L920 390.4L917.2 389.9L913.1 387.4L911.8 384.9L910.3 382.8L906.2 382.2L903.3 380.4L899.8 379.7L898.6 378.1L895.3 374.5L892.5 374.4L890.5 374.6L886.7 372L884.6 369.8L881.3 368.3L879.1 366.9L875.5 365.9L872.5 365.5L870 363.7L866.5 363.5L864 361.8L863.4 357.6L858.1 358.1L857.1 356.5L853.3 355.4L851.1 353.1L848.5 350.2L843.5 352.7L842.4 349.1L841.3 349.3L836.7 347L834.5 345.8L829.8 344.2L828.3 343.1L826.7 339.9L822.3 338.9L820 337L817.2 335.9L814.8 334.7L811.9 331.3L807.5 331.1L805.9 328.4L803.3 327L800.7 322.8L798.3 322L797.7 321L793.7 318.6L792.1 315.7L788.9 313.9L786.7 312Z"/>
<path class="d" d="M917.9 345.3h0M876.9 312.8h0M902.7 339.1h0M1009.5 350.2h0M867.1 320.7h0M919.9 338.2h0M988.2 349.2h0M901.2 317.8h0M965.5 369.7h0M832.7 306.7h0M805 315.5h0M897.5 335.9h0M818.1 307.9h0M881.6 302.7h0M849.9 310.5h0M820.9 305.4h0M972 365.1h0M1030.2 346.3h0M985.4 325.9h0M835.4 324.9h0M951.1 332.9h0M955.7 355.5h0M1045.4 337h0M998 329.6h0M975.9 342.3h0M839.5 320.7h0M893.5 320.1h0M1008.6 356.2h0M820 304.7h0M873.3 342.6h0M1032.1 346h0M944.2 352.9h0M911.2 341.2h0M909.5 312.5h0M818.5 308.9h0M891.8 315.3h0M850 331.5h0M856.8 333.9h0M948.7 362.5h0M938.9 356.9h0M815.6 313.6h0M923 345.5h0M788.3 309h0M962 328.1h0M1017.7 334.5h0M816.1 314.8h0M881 303.6h0M854.9 316.5h0M907.1 344.5h0M888.8 319.4h0M949.5 332.5h0M1039.5 333.8h0M814.5 313.9h0M963.8 372.7h0M1036.3 332.2h0M917.8 326.8h0M886.1 338.7h0M1002.3 335.6h0M840.8 320.7h0M861.6 312.4h0M839.8 329.6h0M889.9 318.7h0M815.2 314.6h0M940.3 330.3h0M1009.8 348.7h0M974.3 358.7h0M877.1 316.2h0M985.1 345.4h0M929.8 348.9h0M835.2 308.9h0M810.7 316.9h0M863.9 340.7h0M865.5 325.1h0M869.4 329.6h0M971.1 326.4h0M905 322h0M1004.9 332.8h0M999.4 350.5h0M886 318.7h0M908.5 345h0M1040.4 339h0M905.8 308.6h0M952.4 334.6h0M890.5 332.5h0M853.3 309.3h0M838 325.1h0M1015.6 335.5h0M993.8 325.4h0M914.4 308.3h0M959.3 354.9h0M917.2 323.9h0M818.8 310.6h0M910.8 314.9h0M839.5 320.8h0M915.2 336.7h0M1022 335.7h0M909.1 305.6h0M925.7 330.2h0M801.1 308.4h0M1034.1 337.8h0M948.5 356.3h0M922.4 319.6h0M1002 341.1h0M981.9 340.7h0M960.1 327.6h0M980.7 341.2h0M970.3 335.6h0M903.7 332.8h0M872.5 318.2h0M803.7 315.9h0M972.1 334.1h0M805.2 307h0M969.5 366.5h0M889.4 324.1h0M838.3 324.7h0M897.6 340.5h0M933.8 342.7h0M822.2 326.9h0M1022.2 344.9h0M930.9 326.5h0M900.2 317.4h0M909.3 344.5h0M929.3 315.5h0M860.4 323h0M925 351.7h0M931 322.9h0M982.3 330.6h0M866.3 324.6h0M891.6 321.5h0M915.7 311.7h0M881.4 325.9h0M853 323h0M867.1 339.4h0M975 330.5h0M880.4 301.4h0M949.2 359.6h0M984.3 360.7h0M992.7 335.7h0M827.5 322.9h0M934.2 350.9h0M893.1 321.4h0M999.1 354.7h0M833.4 323.5h0M938.7 358.5h0M838.2 319.3h0M909.6 318.2h0M980.5 357.7h0M915.1 334.2h0M939.6 349h0M973.4 333.3h0M940.5 351.4h0M1022.1 340.5h0M850.6 315.4h0M867.9 319.5h0M806.8 306.6h0M909.8 330.4h0M892.2 318.1h0M902.9 346.3h0M985 353.7h0M904 311.9h0M941.7 332h0M949 354.7h0M935 332.1h0M983.8 350.5h0M961.3 334.6h0M926.2 339.3h0M960.6 340.2h0M970.6 356.3h0M892.9 306h0M997.9 336.3h0M854.3 307.5h0M933.5 334.1h0M882.7 343h0M1046.5 336.2h0M891.1 306.2h0M854 316.4h0M914.9 342.5h0M837.7 332h0M940.5 325.4h0M920.1 338h0M850.7 328.3h0M873.7 343.6h0M1004.9 336.2h0M879 323.9h0M835.2 316.3h0M820.8 323h0M975.3 335.8h0M841.7 330.3h0M860.3 320.7h0M820.1 320.1h0M876.6 342.1h0M864.9 312.1h0M1005.4 331.5h0M994.4 342.7h0M811.2 317h0M996.6 324.6h0M877.7 323.3h0M966.6 343.5h0M928.3 345.3h0M835.3 323.4h0M984.1 363h0M926.3 328.8h0M1029.9 335.1h0M980.2 331.4h0M912.2 316h0M880.6 313h0M982 332.7h0M845.1 304.6h0M929.4 346.5h0M918.2 351.4h0M996.8 350.9h0M853 318.6h0M1041.3 338h0M896.8 310.3h0M866 309.3h0M998.2 350.3h0M863.5 322.7h0M983.9 355.5h0M844.5 321.9h0M871.2 305.2h0M912.7 342.9h0M830.1 305.8h0M891.6 329.8h0M884.2 339.3h0M904.6 317.8h0M961.9 351.6h0M978.8 360h0M970.9 350.6h0M826 315.9h0M822 323.9h0M932.7 316.9h0M917.3 313.6h0M847.1 318.3h0M936.3 354.9h0M971 357.3h0M1007 346.2h0M824.6 320.3h0M1016.8 339.6h0M945.6 353.7h0M904.5 344h0M838.2 334.5h0M898.5 317.7h0M927.9 348.5h0M918.2 313.9h0M814.1 311h0M913.4 314.3h0M1021.3 349.3h0M962 331.4h0M943.7 334.3h0M804.8 303.7h0M968.8 334h0M863.8 323.1h0M933.8 340h0M844.7 331h0M915.4 332.2h0M877.9 334.1h0M981.1 339.2h0M989.4 332.9h0M1036 341.7h0M949.4 327.4h0M907.1 336.8h0M870 340.2h0M887.9 302.9h0M952.5 324.5h0M958 336.5h0M883.5 306.4h0M833.4 320.9h0M821.3 327.4h0M1035.6 338h0M863.4 336h0M822.1 308.6h0M884.7 336.5h0M896.4 335.7h0M890.2 322.1h0M861.8 307.8h0M1000.3 355.2h0M855.1 337.5h0M859.3 323.7h0M906 339.3h0M986.4 341.9h0M911.1 319.7h0M966.7 324.2h0M907.2 321.2h0M1033.1 338.8h0M970.8 347.2h0M840.5 328.9h0M854.4 311.9h0M975.1 350.8h0M863.8 326.7h0M896.3 323.4h0M1020 336.1h0M789.7 310.6h0M969.1 326h0M926.9 338.4h0M910.8 347.5h0M910 331.3h0M791.1 308.9h0M982.9 332.8h0M936.9 333.5h0M888.1 336.5h0M966.6 331.3h0M928 329.8h0M963.5 356.7h0M977.7 342.8h0M869 313h0M925.4 337.9h0M935.9 349.5h0M959.4 365.6h0M901.7 319h0M888.3 337.3h0M850.6 336.8h0M928.3 327.6h0M936.5 317.5h0M898 332.2h0M876.4 336.8h0M834.5 332.5h0M1031 342.9h0M910.8 311.4h0M985.2 338.1h0M929.3 334.9h0M896.4 329.5h0M969.4 355.3h0M898.8 318h0M953.8 332.7h0M873.5 315h0M905.6 321.4h0M864.6 325.8h0M926.4 312.1h0M821.7 318h0M1011.3 349.3h0M865.7 317.8h0M916.3 339.9h0M815.6 314.6h0M898.5 313h0M898.2 346.1h0M797.4 311.8h0M996.4 335.7h0M977.9 360.4h0M852 324h0M965.9 333.7h0M896.1 327.6h0M869.6 314.4h0M852 332.8h0M839.6 306.7h0M883.8 320.2h0M988 342.9h0M814.7 324.2h0M1031.1 344h0M843.2 330.8h0M910 327.4h0M950.9 349.3h0M944.3 335.8h0M863 336.2h0M938.8 335.5h0M820.9 306.2h0M899.1 339h0M832.5 315.9h0M907.2 345.8h0M1028.1 347.6h0M1037.2 330.8h0M796.1 313.1h0M887.7 345.2h0M999 325.9h0M945 319.7h0M875.5 321.9h0M794.2 306.5h0M822.9 327.5h0M841.8 330.1h0M989.5 324.5h0M905.2 334.4h0M929.4 351.1h0M903 327.9h0M867.6 320.5h0M854.9 304.6h0M843.3 306.5h0M900.1 325.5h0M896.3 306.1h0M865.7 315.5h0M1012.8 346.6h0M877.8 332.7h0M860.8 304.5h0M969.2 330.6h0M825.5 329.2h0M902.1 336.3h0M1021.6 350.2h0M868.1 317.4h0M864.8 319.2h0M989 356.1h0M966.8 332.8h0M923.6 325.4h0M806.8 320.1h0M962.9 342.1h0M1004.2 337.3h0M986.3 356.9h0M993.8 360.9h0M862.8 334.3h0M1019.1 337.7h0M864.2 337.1h0M1008.2 346.7h0M1008.7 340h0M854.3 305.8h0M913.8 332.1h0M880.5 329.1h0M934.4 355.6h0M857.7 305h0M794 312.7h0M927.8 342.1h0M957.7 332.5h0M942 335.1h0M908 312.1h0M875.8 319.1h0M858.4 312.6h0M937.9 316.6h0M800.9 304.4h0M823.5 316h0M819.1 304.3h0M921.6 333.8h0M879.8 327.5h0M825.9 328.1h0M851.2 334.3h0M887.3 322.8h0M841.6 329h0M1033.2 346.5h0M887.2 306.8h0M807.2 315.4h0M845.6 313.4h0M1025.1 338.6h0M982 352.5h0M887.9 318.4h0M929 343.7h0M938.3 349.8h0M970.1 349.6h0M881.9 330.3h0M1029.3 329.7h0M880.5 311h0M934.6 354.9h0M812.5 304.7h0M941.4 332.3h0M893.2 312h0M857.5 319.8h0M841.1 308.5h0M885 304.5h0M909 342.8h0M1000 333.8h0M898.5 325.9h0M892.7 329h0M827.1 313.5h0M966.1 346h0M1001.4 338h0M938.6 322h0M801.8 318.1h0M1006.4 341.9h0M990.7 342.1h0M877.7 340.5h0M1029.5 346.8h0M897.4 341.7h0M1042 334.9h0M930.4 339.7h0M939.3 345h0M970.6 344.5h0M831 312.3h0M874.5 304.7h0M833.9 318.7h0M932.3 342h0M884.1 320.5h0M838.3 333.7h0M834.6 310.2h0M985.6 334h0M827.8 324.4h0M929.4 341.5h0M1007.5 339.2h0M831.1 321.7h0M963.7 326.7h0M944.9 349.7h0M921 315.5h0M974 352.3h0M981.9 342.2h0M1046.8 338.7h0M888.1 333.3h0M933.5 333.5h0M958.4 321.8h0M903.4 332.3h0M895.1 325.2h0M971.5 340h0M934.6 339.4h0M951.7 320.7h0M972.5 356.1h0M914.9 339.9h0M1025.3 337.2h0M887.8 336h0M874.7 326.9h0M855.2 328h0M910.8 343.6h0M817.4 320.9h0M910.5 347.8h0M1033.8 330.2h0M822.1 322.6h0M1015.1 342h0M949.7 349.3h0M822.4 320.8h0M941.1 357.3h0M953.9 366.2h0M909.6 342.4h0M923.3 351.9h0M931.6 346.7h0M862.2 338.5h0M933.3 325.5h0M963.6 336.4h0M836.8 313.7h0M994 325.2h0M828.7 312.2h0M833.2 316.9h0M892.7 320h0M1030.6 333h0M989.3 352.4h0M857 332.5h0M877.6 302.7h0M952.7 321.5h0M964.4 342.1h0M895.2 326.5h0M955.1 328.4h0M823.9 312.6h0M916.9 343.1h0M940.4 348.3h0M829.3 317.5h0M895.7 343.3h0M833.3 313h0M908.5 316h0M986.8 361.1h0M911.7 310.3h0M973.9 361.2h0M988.7 336.2h0M923.7 341h0M889.9 342.6h0M796.7 314.9h0M972.1 352.8h0M1009.2 331.7h0M953.6 347.5h0M981.3 357.3h0M947.3 359.3h0M868.9 320.8h0M876.8 310.8h0M891.1 333.2h0M865.2 337.6h0M817.9 310.5h0M1053.3 336.3h0M830 318.4h0M944.9 360.1h0M910.6 331.3h0M930.2 345h0M976.5 349.9h0M922.7 331.8h0M883.2 303.4h0M968.1 326.3h0M877.4 334.5h0M983.2 365h0M822.7 306.4h0M965.2 359.3h0M865.9 306.4h0M969.5 330.9h0M826 318.4h0M926.1 317.1h0M921.6 326.7h0M912.4 349h0M895.3 322.3h0M829.2 316.8h0M935.9 317.8h0M984 342.6h0M908.7 345.5h0M1014 333.5h0M952.5 333.7h0M960.3 326.3h0M811.5 315.6h0M962.7 336.3h0M880.7 304.1h0M868.2 307.8h0M814.2 312.4h0M834.2 328.8h0M1011.7 349.7h0M866.9 338.2h0M1017.7 340h0M915.3 331.3h0M1040.4 339.6h0M920.4 324.7h0M887.7 309.6h0M855.9 321.2h0M791.1 310.4h0M1046.2 336.3h0M986.8 345.1h0M1021.2 348.1h0M785.9 307.1h0M819.2 323.3h0M987.7 346.4h0M948.1 320.7h0M1007.2 329.3h0M972.1 344.6h0M877.3 342.1h0M1038.8 336.2h0M885.2 313h0M962.6 331.9h0M995.2 344.1h0M839.3 317h0M876.2 312.7h0M925.5 330.8h0M916.9 321.4h0M998.3 357.3h0M981.2 359h0M860.3 312.4h0M818.6 317.2h0M893.9 334.3h0M856.7 318.3h0M890.4 319.6h0M888 320.8h0M982.8 352.4h0M852.2 336.9h0M922.1 340.6h0M803.4 307.9h0M976.2 360.3h0M957.5 365h0M886.7 317.7h0M924.8 316h0M1027.2 336.1h0M978.5 341.2h0M949.7 336.3h0M1034.8 343h0M888.8 318.3h0M940.7 351.7h0M828.8 307.5h0M885.1 304.9h0M840.6 330.3h0M895.6 333h0M932.8 342.3h0M990.9 338.6h0M1037.4 340.6h0M870.3 311.8h0M1001.5 347.5h0M861.6 310.8h0M999.1 340.1h0M896.4 310.1h0M893.6 341.5h0M939.7 326.3h0M892.9 346.1h0M888 310.8h0M994.6 334.8h0M990.4 329.5h0M1048.1 335.2h0M957.6 324h0M974.8 326.4h0M902.1 321.1h0M1010.3 353.4h0M824 313.2h0M961.1 374.6h0M819.4 322.9h0M829 312.3h0M1041 334.4h0M821 310.7h0M1022.9 337.9h0M1027.3 341.9h0M808.7 307h0M981.5 350.3h0M988.5 335.8h0M962.5 343h0M939.4 316.5h0M940.1 316.5h0M862.7 308.2h0M923.8 310.7h0M838.5 313.7h0M787.7 311.5h0M808.3 317.3h0M937.7 324.3h0M939.1 328.8h0M954.1 358.8h0M828.8 317.3h0M924.9 317.7h0M914.7 348h0M1006.2 355.8h0M857.2 305.9h0M1038.2 337.3h0M988.4 352.2h0M859.3 318h0M940.2 357.7h0M1009.2 356.9h0M856.1 331.1h0M979.6 346.3h0M1005.7 354.2h0M862.3 306.4h0M961.5 328.1h0M987.4 330.6h0M825.7 328.3h0M930.3 322.2h0M843 330.5h0M962.8 361.2h0M901 321.8h0M998.5 335.2h0M849.6 311.3h0M874.5 334.9h0M925.6 339.1h0M970.6 336.6h0M886.8 334.5h0M969.1 367.1h0M994.2 324.6h0M877 324.3h0M842.2 333.8h0M905.1 332.1h0M886.5 320.5h0M883.7 318.3h0M976.7 358.8h0M865.5 329.4h0M1015.6 326.6h0M916.8 341h0M981.2 342.5h0M917 330.9h0M925.6 344.6h0M1003.6 351.3h0M958.9 337.5h0M861.3 338.7h0M896.7 317h0M881.7 306.8h0M878 320.9h0M891.2 345h0M945.7 335.3h0M895 316.6h0M901.2 304.7h0M840.7 305.4h0M946.2 331.8h0M924.8 310.9h0M936.3 330.6h0M907.2 332.2h0M891.4 302.3h0M955.4 330.4h0M821.6 327.7h0M824.8 324.6h0M866.5 313.6h0M787.9 306.6h0M904.6 316.6h0M962.7 351.9h0M896.9 333h0M944.8 358.3h0M949.1 328.8h0M895 339.1h0M899 341.7h0M852.3 338.3h0M889.9 329.6h0M896.7 328.7h0M967.7 360.8h0M953.9 342h0M892.4 305.3h0M826.4 326.5h0M828.7 318.1h0M858.6 302.5h0M931.4 347.8h0M916.1 340.4h0M931.3 314.5h0M971 362.1h0M948.1 328.8h0M876.5 316.1h0M843 307.9h0M868.3 315.4h0M1017.9 337.3h0M915.6 328.4h0M911.4 314.5h0M908.2 310.1h0M911.4 320.5h0M898.7 314.9h0M937.6 325.3h0M924.1 317.3h0M822.1 323h0M891.7 345.4h0M1004.5 326.9h0M822.3 325.3h0M915.3 329.4h0M900.2 310.1h0M832.9 319.4h0M919.8 335.7h0M910.2 318.8h0M915.7 309.8h0M976.5 366.4h0M807.3 310.5h0M1031.1 341.8h0M1009.4 335.3h0M876.7 330.2h0M859.4 338.5h0M871.1 325.8h0M858.4 334.8h0M905.2 328.9h0M878.5 343.1h0M789.6 306.6h0M952.4 326.1h0M837.8 306.9h0M862.5 341.5h0M859.9 305.4h0M955.9 328.5h0M1007.3 351.6h0M878.5 338h0M838.4 314.4h0M972.6 351.4h0M903.2 306.8h0M850.2 329.8h0M822.3 306.8h0M807.8 305.5h0M987.6 357.2h0M856.6 338.9h0M873.6 306.7h0M948.5 326.5h0M874.7 337.2h0M988.7 337.3h0M879.1 303.8h0M936.9 340h0M976.1 342.9h0M880.3 317.5h0M917.9 321.6h0M1020.1 336.8h0M831.1 324.8h0M1038.1 342.8h0M894.6 328.9h0M852.2 321h0M931.5 342.2h0M878 325.2h0M934.3 329h0M907.3 334.3h0M893.3 325.1h0M819 307.2h0M853.2 313.7h0M854 332.3h0M965.1 349.2h0M841.8 312.2h0M798.3 311.5h0M994.9 339.5h0M956.3 350.7h0M979.5 348.3h0M819.7 316.6h0M960.6 354.7h0M963.2 340.7h0M1022.7 346.1h0M916.1 329.3h0M835.6 312.8h0M927.9 350.4h0M863.1 303.4h0M945.1 343.9h0M972 348.2h0M1021.2 339.9h0M973 361.7h0M923.5 329.4h0M921.8 324.1h0M896.1 332.8h0M905.7 332h0M877.4 325.9h0M804.4 314.6h0M849.3 336h0M964.9 351.9h0M927.4 347h0M901.2 338.1h0M954.1 349h0M850.2 327.8h0M839.5 312.4h0M973.8 339.7h0M928.9 332h0M907.5 345h0M960 325.2h0M854.1 334h0M845.6 322.7h0M805.8 310.4h0M870.5 328.4h0M1007.9 340.1h0M904 329.2h0M873 313.2h0M993.3 340.1h0M879.3 328.5h0M873.5 335h0M899.6 319.5h0M854.9 332.1h0M863.5 309.3h0M854.9 318.3h0M878.5 319.1h0M962.7 369.3h0M928.8 349.1h0M889.6 324.1h0M970.5 330.4h0M901.5 342.4h0M970.2 336.9h0M897.4 328.8h0M895.1 314.4h0M887.8 320.5h0M859.8 327.1h0M896.5 335.2h0M798.4 309.3h0M850.8 303.7h0M1011.6 344.9h0M783.7 306.4h0M924.9 335.2h0M858.7 308.2h0M1027.3 333.9h0M975 346.7h0M805.6 311.2h0M1015 346.9h0M981.4 329.4h0M803.3 315.8h0M861.4 321.2h0M1011.4 343h0M959.6 360h0M922.3 322.8h0M945.2 353.2h0M913.6 341.1h0M1027.9 346.8h0M881.9 336.1h0M804.2 303.8h0M928.2 348.7h0M995.6 352.1h0M857.6 316.5h0M980.2 343.6h0M789.8 312.8h0M867.4 308.4h0M1019.2 333.3h0M881.6 315.9h0M884.1 303.2h0M959.6 362.8h0M857.6 310.7h0M937 354.7h0M876.1 309.8h0M1013.7 329.9h0M836.2 311.1h0M1018.7 327.6h0M891.8 343.2h0M1026 333.1h0M883 331.3h0M834.2 320.4h0M840.4 332.3h0M812.1 319.1h0M902.2 314.7h0M928.7 341.3h0M848.1 316h0M930.5 314.9h0M807.4 307.7h0M894.9 337.1h0M930.5 354.1h0M870.8 314.9h0M855.1 325.7h0M879.6 305.9h0M831.6 307.7h0M1013.3 328.8h0M973.5 339.3h0M1027.3 335.5h0M935 316.7h0M897.8 316.8h0M934.9 356.3h0M943.8 322.2h0M877.9 328.6h0M987 328.6h0M892.4 323.1h0M1035.7 338.5h0M913.6 347.2h0M794.7 307.5h0M855.8 308.4h0M931.5 339.9h0M882.4 344.1h0M943.2 334.4h0M800.7 311.2h0M970.6 349.8h0M898.5 332.6h0M1013.6 332.7h0M983.1 342.9h0M878.6 336h0M949.1 360.3h0M944 326.6h0M1000.4 330h0M923.8 334.7h0M892.1 309.5h0M997.6 351.9h0M892.4 310.1h0M1003.4 349.8h0M973.4 342.1h0M907.4 339.5h0M827.3 322.8h0M822.6 318.3h0M965.9 365.1h0M848.3 323.6h0M1017.6 349.8h0M877.2 322.4h0M847.2 330.3h0M987.2 348.1h0M940.2 336h0M877.6 310.3h0M839.5 319.5h0M907.1 309h0M849.2 328.3h0M880.9 338.1h0M910.6 339.9h0M948.1 338.6h0M1012.7 331.8h0M999.5 331.3h0M1012.4 326.5h0M924.8 318.4h0M804.6 314.5h0M883.8 304.8h0M899.8 341.6h0M851.3 333.5h0M884.2 302.5h0M953.8 321.3h0M949.2 326.3h0M828.8 306.3h0M915 313h0M835.7 327.2h0M974.1 359h0M795.1 309.3h0M1038.9 338.5h0M903.9 332.2h0M842.2 330.2h0M913.3 328.7h0M863.4 305h0M853.8 314.4h0M986 355.6h0M862 316h0M891 311h0M867.6 341.1h0M833.5 311.8h0M1009.4 356.5h0M915.2 323.6h0M857 320.7h0M950.7 345.5h0M950.2 343h0M860.9 328.1h0M1034.4 342.9h0M853.4 320.5h0M860 337.8h0M892.8 339.9h0M965.9 330.9h0M950.6 363.9h0M963.9 327h0M968.8 323.7h0M890.4 321.3h0M885.5 340h0M975.9 332.9h0M828.3 326.4h0M897.1 321h0M919.6 343h0M812.6 312.4h0M933 328.7h0M936.7 345.5h0M846.3 321.8h0M895.8 317.9h0M951.6 353h0M881.1 315.6h0M925.6 322.2h0M988.1 356.8h0M893.4 306.9h0M983.4 352.2h0M868.2 334.7h0M1006.6 339.9h0M862.9 308.3h0M892.1 330.7h0M888.4 314.5h0M914.3 311.5h0M914.9 323.9h0M872.2 319.5h0M877.3 339.1h0M967.1 342.4h0M937.6 346.2h0M947 332.1h0M961.5 358.8h0M905.8 329.1h0M986 344.2h0M959.5 343.8h0M818.7 311.8h0M965 324.1h0M948.7 351.3h0M957.2 360.2h0M882.7 344.2h0M945.1 318.8h0M974.4 349h0M896.2 337.1h0M925.6 318.8h0M964.2 366.5h0M864.6 314.8h0M846.2 329.7h0M894 326.2h0M891.6 343.9h0M861.2 309.6h0M910.4 321.6h0M964.6 359.4h0M922.7 340.4h0M964.8 340.4h0M935.7 315.4h0M888.8 321.9h0M788.9 308.4h0M952.9 361.8h0M979.1 353.4h0M867 308.3h0M937.7 342.2h0M920.8 340.8h0M873.3 303.3h0M970.3 344.2h0M994 329.9h0M968.6 344.5h0M1001.8 333.5h0M841.6 307.7h0M897.6 314h0M903.3 332.8h0M1001.5 354.1h0M952.3 362.8h0M854.6 307.6h0M897.4 342.2h0M830.3 315.2h0M871.1 337.9h0M830.6 311.8h0M850.3 326.4h0M849 317.9h0M962.9 366.1h0M856.2 320h0M862 331.2h0M829.9 326.1h0M919.6 321.1h0M894.6 311.9h0M941.5 349h0M870.3 321.4h0M990.3 354.2h0M835 318.3h0M949.1 334.6h0M825.5 327h0M935.5 326.3h0M897.3 338.1h0M886.1 324.1h0M890.4 307.9h0M861.6 330.7h0M925.9 312.9h0M902.6 314.2h0M877.4 340.3h0M867.6 306.3h0M893.3 340.1h0M854.2 322.8h0M831.3 326.2h0M919.8 349.5h0M936.5 328.4h0M937.6 346.6h0M853.2 327.8h0M860 329.1h0M923.4 350.4h0M998.9 334.6h0M890.8 311.6h0M955.4 321.7h0M961.4 335h0M852.8 304h0M924.7 315.8h0M910.7 306.9h0M892.4 346.1h0M897.4 338h0M858.3 302.4h0M849.2 314h0M856.4 306.7h0M946.7 329h0M843 305.4h0M905.6 312.2h0M868.3 333.2h0M868.7 322.7h0M877.2 326.2h0M919 351.4h0M984 353.8h0M977 340.2h0M976.1 352.5h0M932.9 341.1h0M809.7 317.5h0M905.3 307.3h0M871.1 312.2h0M875.7 341.1h0M818.9 315.3h0M857.4 326.5h0M838.5 313.3h0M797.6 311.5h0M828.6 327.5h0M947.2 322.4h0M913.7 317.7h0M919.5 343.2h0M830 323.9h0M908.3 330.7h0M931.4 314.8h0M841.1 308h0M890.6 338.5h0M1000.4 347.8h0M822.9 309.4h0M964.1 323.8h0M879.5 325.9h0M837 313.5h0M955.3 320.8h0M928 337.8h0M958.3 330.8h0M909.4 342.7h0M914.9 338.7h0M880.1 311h0M961.8 360.8h0M907.7 320.2h0M876.2 340.2h0M923.2 330.1h0M882.2 333.1h0M962.3 323.9h0M903.5 328.7h0M963.9 332.4h0M892.5 309.4h0M958.9 349.8h0M876.1 318.8h0M941.1 337h0M881.2 334.3h0M927.9 317.1h0M814.7 305.7h0M969 323.2h0M968.5 370.1h0M859.2 316.4h0M873.4 335.3h0M986.7 354.8h0M901.8 335.1h0M890.5 302.3h0M1009.4 343.7h0M848 316h0M1021.9 349.8h0M880.4 321h0M1011.8 345.3h0M857 336.5h0M884.3 320.4h0M962.4 325.4h0M1003 338.4h0M822.8 312.5h0M878.4 313.2h0M826.9 321.1h0M942.6 336.1h0M940.6 348.3h0M900.5 336.6h0M866.9 305.8h0M880.4 305.8h0M835.5 325.6h0M875.9 342.7h0M834.1 322.8h0M893.6 330.1h0M992.3 359.4h0M904.5 310.9h0M928.1 346.5h0M872.5 309h0M892.3 321.9h0M891.1 323.3h0M864.8 320h0M804.1 313h0M1009.2 347.6h0M894.6 342.1h0M925.3 348.5h0M1000.8 333.2h0M862.3 339.9h0M868.9 308.8h0M967.4 353.7h0M991 330h0M915.4 323.5h0M799.4 311.6h0M789.2 309.5h0M962 357.6h0M853.1 325.2h0M927.3 333h0M857.9 330.4h0M926.2 315.6h0M895.6 339.5h0M926.7 322.4h0M816.9 319.8h0M996.4 345.4h0M983.2 326.8h0M813.4 306.2h0M806.3 314.6h0M881.4 319.8h0M866.9 341.1h0M937.2 350.6h0M828 314.8h0M837.5 334.1h0M864.8 306.6h0M960.7 364.5h0M1057.4 334h0M894.2 332.2h0M1026.4 328h0M849.6 308.4h0M1017.2 337.5h0M825.4 322.1h0M877 334.8h0M1017.1 331.4h0M934 349.3h0M1034.2 334.1h0M884.6 318.3h0M859.3 308.9h0M1035 334h0M838.5 309.8h0M867.2 330.3h0M875.1 308.8h0M992.9 357.6h0M915.9 316.3h0M892.6 319.2h0M1000.3 351.7h0M875 325h0M852.4 309.8h0M794.8 313.4h0M822.4 321.3h0M955.9 335.3h0M891.3 342.4h0M812.5 316.5h0M1012.1 336.4h0M920.2 342.9h0M814.6 307.1h0M892.4 313.9h0M970 326.3h0M866.4 340.9h0M853.8 313.3h0M857.7 319.8h0M867.2 312.9h0M961.3 354.6h0M921.8 327.8h0M903.2 336h0M1006 334.4h0M1021.7 339.1h0M919.9 325.6h0M914.2 319.2h0M859.5 323.6h0M1051 339h0M1030.6 343.8h0M837.6 314.6h0M974.1 354.6h0M967.2 324.3h0M895.3 345.4h0M841.9 322.8h0M869.3 340.3h0M823.1 313.4h0M906.5 323.3h0M795 308.9h0M799.5 306.4h0M883.8 329.3h0M838.2 310.4h0M1002.6 346.3h0M995 352h0M951.9 348.8h0M901.7 331.3h0M1025.1 345.4h0M895.8 340.7h0M909.3 335h0M1013.2 353.3h0M966.3 355.2h0M806.6 307.9h0M899.7 337.2h0M897.1 332.2h0M953.1 351.3h0M957.2 339.7h0M866.8 340h0M917.2 338.1h0M794.5 307.1h0M804.7 315h0M841.8 320h0M860.7 338.4h0M982.4 358.4h0M920.7 350.8h0M798.5 314.9h0M996.5 338.1h0M980.8 333.6h0M851.1 304.5h0M840.7 331.7h0M846.4 310.3h0M969.3 344.6h0M969.7 359.6h0M866.1 333.1h0M846.7 311.6h0M906.6 304.9h0M887 329.9h0M830.8 315.4h0M918.9 318.9h0M952.7 323.6h0M935.5 355.6h0M974.8 341.6h0M897.9 310.9h0M910.7 329.7h0M896.1 330.1h0M831.2 313.6h0M812.7 317.3h0M872.8 339.8h0M923.8 351.2h0M860.3 306.2h0M965 351.5h0M888 305.1h0M850.7 316.9h0M877 316.8h0M874.7 309.5h0M867.2 313.7h0M815 307.4h0M857.2 319.1h0M867.5 317.3h0M1037.9 334.1h0M918.4 350.5h0M812.8 305.8h0M901.9 321h0M925.1 337.1h0M911.9 313.3h0M1022.9 330.4h0M961.5 337.4h0M897.7 306.9h0M989.9 347.7h0M912.5 306.6h0M865.3 305.7h0M946 338.3h0M997.4 360.1h0M847.5 320.2h0M834.4 328.8h0M933.2 316.5h0M836.2 313.5h0M960.9 353.8h0M839.4 328h0M970.5 353.7h0M916.9 308h0M846.7 337.2h0M875.8 314.2h0M832.3 327.8h0M937.9 347.7h0M788.7 307.4h0M892.7 302.9h0M859.8 303.4h0M812.7 316.4h0M915.7 332.1h0M908 317.1h0M997.4 352.6h0M905.9 326.2h0M942.2 330.1h0M889.5 301.5h0M875.1 332.4h0M848.1 312.1h0M886.4 334.6h0M985.9 344h0M963.6 338.5h0M1009.3 356.2h0M984 348h0M905.6 336.1h0M1019.6 347.5h0M962.5 373.9h0M871.1 311.1h0M801.2 317.7h0M844.2 318.3h0M971.3 327.4h0M904.7 332.5h0M980.1 335.8h0M879.4 304.6h0M961.6 354.5h0M933.5 394.4h0M899.8 339.7h0M948.5 339.3h0M984.4 336.2h0M864.6 332.4h0M908.8 319.2h0M932.4 339.7h0M815.8 313.5h0M934.8 324.4h0M851.7 315.4h0M893.7 316.4h0M917.7 339.5h0M991.5 341.8h0M982.7 362.7h0M952.5 359.5h0M817.8 309h0M931 347.1h0M939.1 351.8h0M859.6 319.5h0M1018.9 348.1h0M969.1 355h0M854 336.1h0M948.2 347.7h0M856.8 312.3h0M823.6 319.9h0M925.4 321.4h0M916.1 340.2h0M993.5 336.9h0M952.7 352.5h0M887.7 331.5h0M938.8 339.2h0M801.3 310.3h0M871.1 301.7h0M921.3 338.3h0M945.2 322.2h0M954.3 342.2h0M819.3 324.7h0M911.4 317.3h0M990.5 335.2h0M1021.6 340.2h0M829.8 313.3h0M843.5 336.7h0M808.1 310.1h0M993.1 342.7h0M914.4 334.3h0M1010.4 347.9h0M894 343.3h0M984.2 326.7h0M933.6 316.7h0M878.9 302.3h0M886.9 333h0M873.9 339.5h0M878 330.4h0M862.1 325.3h0M983.9 354.5h0M887.5 336.9h0M910 344.6h0M1020.5 333.8h0M963 343.2h0M834.8 317.4h0M935.3 352.5h0M1008.5 327.4h0M879 314.4h0M940.9 337h0M960.6 355.8h0M890.4 338.6h0M950.9 362.8h0M954.7 363.3h0M888.2 306.3h0M813.3 322.7h0M850.9 315.4h0M868.3 335.6h0M1002.8 341.9h0M950.7 342.1h0M937.9 339h0M842.2 314.4h0M875.3 341.1h0M827.2 323.6h0M1006.7 342.7h0M890.5 314.7h0M933.9 348.8h0M916 325.1h0M887.5 336.1h0M866.8 338.2h0M991.3 348.5h0M885.8 313.2h0M1038.5 341.4h0M916.7 326.9h0M939.2 342.6h0M832.2 328h0M875.9 325.6h0M973.1 359.7h0M947.7 326h0M929.3 345.2h0M958.9 366.7h0M956.3 334.6h0M965.8 327.5h0M933.4 350.9h0M929.8 312.9h0M924.1 327.5h0M922.6 336.1h0M970.6 367.7h0M853.6 326h0M932.2 322.3h0M904.3 331.9h0M801.8 310.4h0M983.3 348.9h0M946.3 355.5h0M974.9 337.2h0M961.7 339.5h0M887.2 326.1h0M1029.5 337h0M867.7 306.9h0M916.2 332.3h0M842.5 308.9h0M855.4 304.2h0M905.9 330.1h0M914.9 316.3h0M854.5 314.1h0M975.7 346.2h0M900.9 337.7h0M912.4 324.8h0M888.3 334.7h0M859.2 320.1h0M826.9 311.3h0M1015.2 344.6h0M886.3 319.3h0M885 339h0M934.9 321.3h0M943.2 360.5h0M852.4 338.8h0M914.6 311.3h0M897.4 337.3h0M877.2 325h0M1003.4 331.8h0M839.3 326.6h0M914.7 309.4h0M926.1 334.1h0M971.9 353.4h0M840.2 311.7h0M886.9 308h0M983 363.5h0M893.7 325.1h0M882.9 343.1h0M1014.5 342.3h0M830.8 311.6h0M823.2 309.4h0M998.5 332.3h0M995.4 341.5h0M921.5 330h0M897.4 321.5h0M1015.4 352.7h0M961.5 345.9h0M827.3 318.3h0M1012.2 334.4h0M974.6 346.9h0M990.2 335h0M899 343.7h0M978.9 352.5h0M840.9 335.5h0M824 307.5h0M847.9 331h0M872.3 303.4h0M920.2 319.4h0M910.9 347.4h0M869.2 338.9h0M997.8 340.3h0M999.2 343.5h0M1029.3 332.3h0M904.8 336.7h0M814.7 310.4h0M994.3 351.3h0M975.6 335.1h0M966.5 352h0M989.5 353.8h0M919.2 309.7h0M906.1 310.1h0M884.5 341h0M1022.4 337.3h0M895.5 320.5h0M920.3 341.6h0M829.4 326.3h0M935.6 340.1h0M867.8 310.5h0M811.6 317.9h0M914.6 331.4h0M911.5 336.8h0M977 354h0M851.7 333.6h0M895.7 305.5h0M975.6 357.6h0M820.4 313.7h0M914.2 326.2h0M973.8 334.4h0M933.6 325.3h0M805.3 316.8h0M1008.6 356.5h0M994 358.8h0M863.3 316.2h0M868.9 320.1h0M855.5 307.3h0M860.2 332.8h0M845.9 323.5h0M885.4 337.5h0M965.7 335.7h0M853.1 335.2h0M927.6 324.2h0M895.9 320.4h0M923.8 342.5h0M962.5 334.8h0M867.2 312.1h0M912.5 333.1h0M859.7 333.7h0M1001.3 327.5h0M944.6 360.8h0M922.7 344.4h0M838.5 321.2h0M805.5 306.5h0M985.5 351.9h0M933.2 333.3h0M891.8 340h0M929.1 331.5h0M982 359.7h0M915.2 342.8h0M829.4 314.1h0M925.7 342.1h0M912.5 335.3h0M899.3 315.5h0M874.7 337.2h0M855.2 330.8h0M872.5 332.2h0M856.4 317.3h0M873.3 313.8h0M1001.3 326.6h0M818.5 307.4h0M906.1 305.5h0M861.3 338.2h0M927 343.1h0M972.7 333.5h0M859.8 337.4h0M861.9 312.2h0M889.9 344.4h0M992.3 331.5h0M832.7 314.6h0M1015.9 338.8h0M874.1 342.6h0M846.9 319.5h0M993.2 343.1h0M866.4 307.9h0M898 319.2h0M894.6 309.2h0M851.9 317.9h0M885.7 306.2h0M837.2 332.6h0M910.1 315.8h0M938.9 338.5h0M853.4 323.1h0M897.8 336.5h0M891.9 338.9h0M938.7 354.1h0M961.3 323.7h0M878.3 315.7h0M967.2 366.5h0M961.8 363.7h0M859 334.4h0M875.2 316.7h0M862.8 303.3h0M949.3 348.9h0M855.8 331.6h0M914.3 332.2h0M829.5 308.2h0M806.9 308.5h0M975.3 360h0M973.6 347.4h0M874.9 326.5h0M898.9 322.5h0M865.7 303.3h0M796.9 311h0M863.2 340.9h0M894.8 318.2h0M847.9 317.5h0M797.8 314.6h0M892.4 331.1h0M936.5 320.4h0M970.8 346.1h0M819.9 314.1h0M844.7 328.9h0M829.1 330.6h0M896.3 308.5h0M928.8 320.8h0M840.7 330.9h0M892.5 317.5h0M878 334.6h0M887.6 329.5h0M905.2 345.5h0M1018.1 334.1h0M952.7 325.4h0M886.7 332.9h0M1015.4 341.3h0M990.1 360.3h0M841.2 335.5h0M1020.7 335.2h0M914.6 315h0M936.2 353.5h0M919.7 319.3h0M826.5 321.5h0M961.1 366h0M1003.3 349.8h0M887.5 324.1h0M975.8 356.6h0M819.7 315.1h0M959.7 335h0M954.3 321.2h0M864.2 325.8h0M918.1 317.7h0M948.2 360.7h0M857.7 329.5h0M884.7 331.3h0M832.7 326.7h0M858.3 336h0M863.3 315.8h0M946.2 358.3h0M813.7 307.5h0M841.6 334.5h0M888.4 342.9h0M827.4 308.5h0M1026.1 340.8h0M833.5 328.4h0M849.4 328.9h0M855.3 323h0M921.7 338.4h0M1012.2 347.7h0M914.8 318.8h0M954.3 322.8h0M919.3 343.9h0M958.1 341.3h0M856.3 311.3h0M798.4 309.1h0M909.3 339.7h0M995.2 346.8h0M875 325h0M816.5 323.3h0M799 313.5h0M897 341.3h0M931.3 329.8h0M923.8 341.4h0M920.1 335.5h0M907.8 319.3h0M1010.9 340h0M843.8 335.6h0M885.2 340h0M880.3 319.8h0M919.2 338.5h0M831.4 314.4h0M905.5 317.7h0M901.8 304.6h0M881.9 303.6h0M869.8 317.4h0M918.3 330.1h0M890.6 320.8h0M894.5 323.7h0M866.2 332.6h0M1029.9 342.6h0M855.4 307.7h0M947.1 360.3h0M812.1 315.5h0M857 321.2h0M1016.4 331.9h0M904.7 334.9h0M852 320h0M950.5 348.1h0M813.3 323.4h0M914.2 333.6h0M892.1 326.1h0M844.3 325.7h0M853.6 310.3h0M875.8 330.4h0M840 335h0M950.8 364.4h0M903 318h0M846.7 311.5h0M826.6 329.1h0M821.8 309h0M964.8 341.5h0M835.6 309.2h0M1009.7 343.8h0M851.3 313.2h0M1005.4 329.7h0M847.9 333.5h0M948.1 358.2h0M1011.4 334.2h0M842.9 324.5h0M976.6 362.5h0M928.1 313.1h0M827 327.5h0M927.5 341.7h0M986.8 337.1h0M1011.8 349.3h0M818.2 323h0M859.5 303.2h0M888.8 336.6h0M875.4 326.2h0M923 317.6h0M848.6 305.3h0M942.7 340.4h0M800.9 310.9h0M908.7 342.3h0M893.4 323.3h0M809.8 318.6h0M817.2 323.9h0M958.2 334.3h0M916.5 332.7h0M948.8 356.5h0M898.9 332.3h0M873.7 343.9h0M885 304.9h0M796.5 307.7h0M818.6 319.6h0M857 332h0M862.4 333.9h0M1024.1 330.9h0M830.3 326.5h0M897.4 311.2h0M906.2 312.8h0M819.2 315.9h0M842.5 329.6h0M1009.6 325.4h0M945 331.9h0M931.2 341h0M1002.1 325.9h0M846.5 319.6h0M937.4 339.5h0M952.3 341.6h0M938.1 317.7h0M841.4 334.3h0M878.4 310.5h0M856.7 311.4h0M809.7 317.7h0M868.4 307.3h0M833.8 307.1h0M970.4 325.2h0M1041.5 336.4h0M938.5 355.3h0M984.6 354.2h0M850.8 316.6h0M877.2 317.2h0M948.2 359.9h0M890.5 334.9h0M972 337.8h0M992.4 353.1h0M963 344h0M968.3 350.9h0M955.9 336.1h0M983.4 346.9h0M966 341.4h0M945.1 349.9h0M988.6 332.9h0M831.8 315.8h0M969.7 325.3h0M999.3 327.4h0M912.8 336h0M837.2 326.4h0M975.8 347.8h0M973.3 333.4h0M813.9 313h0M838.4 306.2h0M897.3 333.3h0M870.4 322.4h0M963.8 332.4h0M956.4 321.8h0M873.3 334h0M911.6 319.6h0M885.7 330.1h0M827.5 327.4h0M900 331.7h0M967.7 351.8h0M946.8 337.1h0M899.6 322.2h0M983.5 326h0M852.8 333.4h0M926.3 350.8h0M1014.2 352.1h0M870.8 305.7h0M809.8 319.2h0M795.7 305h0M892.4 338.9h0M950.4 347h0M922.5 319.4h0M935.8 342.5h0M852.3 307.2h0M896 316h0M931.3 355h0M934.7 347.5h0M895.2 327.5h0M925.5 347.7h0M1001.7 325.4h0M935.7 316.4h0M971.8 346.3h0M832.7 324.4h0M1039.9 333.1h0M902.9 320.2h0M959.5 368.7h0M913 347.1h0M871.4 320.8h0M950.2 356.7h0M880.4 304.2h0M895.8 325.2h0M848.6 324.7h0M960.6 368.5h0M836.1 321.8h0M953.9 327.9h0M883.7 303.6h0M948.9 340.8h0M1027.4 347.9h0M893.1 335.8h0M875.2 332.7h0M892.7 325.3h0M999.2 349.2h0M934.2 325.1h0M980.7 365.1h0M936.9 315.5h0M847.7 328.2h0M860.2 335.8h0M1040.3 337.4h0M977.7 325.7h0M834.6 333.2h0M1023.7 338.5h0M852.6 311.4h0M898.3 317.3h0M892.1 308.7h0M972.6 337.9h0M855.9 307.9h0M862.4 304.7h0M998.1 332.9h0M829.2 323.9h0M919.3 314.3h0M916.3 313.7h0M979.5 351.3h0M870.5 316h0M894.7 310.5h0M953.4 353.3h0M814.6 312.1h0M820.2 321.2h0M932.3 352.8h0M1000.6 335h0M887 311.2h0M824.5 315.9h0M856.9 330.9h0M928.8 331.2h0M915.7 349.3h0M952.4 334.7h0M859.7 340.2h0M917.9 334.6h0M964.3 371.2h0M907.7 307.2h0M979.2 333.7h0M990.5 326.9h0M921.6 350.7h0M877 328.2h0M941.1 327h0M839.4 307h0M910 331.2h0M857.4 333.7h0M857.4 340.2h0M894 322.2h0M890.4 328h0M1055.5 335.1h0M872.3 306.5h0M846.7 325.9h0M990.3 338.5h0M1008 346.6h0M957.5 344.3h0M929 325.7h0M854.6 312.3h0M992.7 328.4h0M972.8 324.5h0M861.4 304.1h0M1017.2 333.7h0M871.6 327.4h0M970.8 347.2h0M946.4 325.5h0M943 339.4h0M852 333.3h0M866.6 303.9h0M957.9 341.2h0M997.4 336.2h0M992.2 361.5h0M977.7 338.8h0M915.2 340.5h0M915 317.9h0M887.8 323.7h0M1008.8 352.2h0M873 320.3h0M909.4 325.5h0M863.7 327.3h0M915.8 308h0M893.1 325.5h0M803.3 311.8h0M979.7 346.2h0M1001.3 334.3h0M844.4 311.3h0M841.8 321.2h0M973.7 344.2h0M999.4 355.5h0M966 334.4h0M984.6 352.8h0M976.8 354.8h0M930 344.4h0M916.5 316.1h0M879.9 303.9h0M809 312.9h0M925.8 317.3h0M824 315.6h0M918.2 335.1h0M901.8 339.3h0M950.5 354.1h0M798.2 314.4h0M891.6 312.7h0M974.7 323.8h0M971.7 341.2h0M887.9 339.9h0M919.3 343.6h0M852.2 308.5h0M825.8 326.9h0M980.4 331.9h0M967.8 349.5h0M899.5 321.4h0M1001.9 354.7h0M1004.2 328.9h0M962.6 323.6h0M992.7 342.1h0M960.6 355.5h0M837.9 310.5h0M892 323.4h0M986.5 360.4h0M844.2 310h0M861.8 313.5h0M993.7 351.6h0M989.2 344.8h0M923.7 345.6h0M943.7 353h0M942.8 357h0M830.5 321.7h0M1035.9 339.3h0M853.9 335.9h0M947.7 331.7h0M869.3 320.7h0M870.1 323.5h0M844.5 334.2h0M893.5 328.7h0M943.2 353.8h0M1004.1 342h0M976.1 334.3h0M975.2 329.7h0M962.5 343.1h0M959.5 326.1h0M978.9 343.4h0M964 329.4h0M887.5 344.4h0M919.1 311.8h0M962.5 339.1h0M848.7 311h0M969.4 330.5h0M897.3 325.3h0M866.4 324.2h0M1014.6 348.4h0M984.2 361.4h0M1027.8 332.9h0M1044.6 340.4h0M920.1 343.9h0M961 357.2h0M907.8 307.2h0M1019.6 346h0M846.8 315.5h0M900.8 313.5h0M852.9 309.8h0M925.1 319.6h0M959.3 352.3h0M839.4 321.2h0M1001.6 330.6h0M811 320.4h0M793.5 310h0M959.1 328.4h0M934.1 321h0M813.7 314.5h0M978.7 338h0M836.2 322.1h0M824.8 324.3h0M986.4 357.3h0M827.9 309.2h0M901.6 327.6h0M920 337.2h0M822.1 328h0M856.4 322.6h0M968.4 346.8h0M858.7 310.1h0M903.7 316.3h0M902.1 315.7h0M796.6 307.1h0M984.1 344.1h0M990.6 353.3h0M819.3 316.1h0M932.3 339.8h0M891.9 335.1h0M978.4 327.2h0M828 323.7h0M925.1 337.9h0M970.4 349.1h0M929.5 322.7h0M831.8 327.9h0M898 318.2h0M898.6 346.4h0M1024.7 328.5h0M877 314.9h0M950.5 334.7h0M1005.1 352.1h0M881.9 309.5h0M821.3 316.3h0M974.4 335.1h0M997.6 360.3h0M853.5 335.3h0M797.4 314.2h0M863.3 302.1h0M858.2 335.7h0M832.5 310.7h0M857.9 328.4h0M972 330.6h0M866.1 302.6h0M1010.5 338.7h0M936.2 333.8h0M916.2 347.5h0M945.1 337.4h0M970.4 362.6h0M912.5 347.6h0M841.2 330.1h0M862.8 341.5h0M932.6 353.8h0M1003.9 346.2h0M1029 336.5h0M930.3 312.8h0M913.8 306h0M1027.5 343.8h0M821.2 327.6h0M846.8 331.2h0M930.2 327.1h0M962.2 325.5h0M874 334.6h0M864.1 313.9h0M947.4 338.8h0M874.7 314.3h0M931.4 350.8h0M812.7 305.8h0M960.5 321.5h0M828.7 320.8h0M1047.1 334.8h0M970 325.8h0M1040.1 344.3h0M873.3 304.5h0M893.6 321.7h0M1009.6 339.4h0M952.6 349.2h0M916 347.3h0M991.6 328.4h0M979.7 337.9h0M846.3 319.7h0M878.6 316.5h0M883.6 345h0M855.1 307.8h0M859.1 319.3h0M859.5 317.6h0M834.7 323.7h0M850.7 315.2h0M893.7 331.8h0M944.2 328.7h0M910.2 331.1h0M1005.7 325.2h0M923.7 311.2h0M822.7 311h0M958.2 335.9h0M897.7 318.6h0M922.7 321.8h0M939.6 357.3h0M815.3 318.7h0M992.7 346.4h0M806.5 320h0M835.6 313.7h0M998.3 327.3h0M934.1 353.2h0M972.3 362.8h0M816.4 314.8h0M873.4 342.8h0M1013.3 335.9h0M896.3 340.5h0M1015.9 334.2h0M825.8 318.5h0M954.1 334.8h0M878.5 316.5h0M880.6 309.8h0M917.6 319.8h0M905.3 334.3h0M989.6 333.1h0M908.7 320.9h0M914.7 320.3h0M878.5 305.6h0M932.4 395.1h0M865.6 326.4h0M862.5 334h0M826.9 324.3h0M917.5 307.4h0M886.3 315.4h0M972.1 329.2h0M998.1 353.6h0M862.4 321h0M940.9 355.1h0M800.7 308.6h0M972.3 354.4h0M927.5 336.9h0M848.9 325.2h0M940.1 328.5h0M912.4 341.8h0M833.4 312.6h0M818.9 326.4h0M917.2 326.8h0M848.5 325.1h0M1016.6 334.9h0M902.9 313.6h0M1033.1 339.5h0M837.3 330.9h0M922.6 333.6h0M838.7 306.3h0M997.8 359.1h0M956.2 343.7h0M833.8 310.6h0M1032.1 341.9h0M896.9 334.3h0M818.3 310.9h0M920.4 337.3h0M816.6 319.4h0M1034.9 346.3h0M993.4 345.5h0M975.1 324.7h0M879.4 303.9h0M852.7 328.7h0M865.3 310.7h0M855.7 308.3h0M998.6 326.2h0M962.3 335.1h0M870.2 342.4h0M959.1 355.6h0M977.6 332.1h0M924.4 333.9h0M914.8 316.7h0M1000.5 349.7h0M880.5 332.9h0M942.5 343.9h0M896.3 343.2h0M950.7 352.2h0M829.8 315.3h0M1031 343.9h0M849.9 304.8h0M837.8 326.4h0M810.2 313.6h0M897.3 320.8h0M882 339.2h0M937.5 355.7h0M995.5 346.2h0M848.4 305.1h0M814.9 316.2h0M849.2 315.5h0M958.7 327.8h0M910.8 332.9h0M910.4 306.1h0M952 323.2h0M838.6 309.3h0M993.2 346.3h0M888.3 329h0M869.9 307.9h0M854.6 320.4h0M886.1 329.1h0M838.7 331.9h0M891.5 342.9h0M955.2 347.5h0M892.4 305.7h0M1025 334.2h0M808.7 313.7h0M920.5 351h0M796.1 306.8h0M890.2 316.7h0M939.2 320.2h0M896.1 343.4h0M1017.1 329h0M963.3 352.8h0M986.9 341.3h0M897.7 325.6h0M926.7 352.1h0M961 340.6h0M958.3 327.4h0M832.8 306.5h0M972.3 329.5h0M962.1 330.1h0M900.2 335.8h0M967.6 334.1h0M1006.7 328.6h0M814.4 315.5h0M983.1 342.4h0M874.1 328.6h0M889.3 321.6h0M899.1 340.2h0M937.7 349.5h0M833.5 320.7h0M916.4 319.6h0M860.1 325.1h0M867.1 339.7h0M960.6 328.6h0M831.2 329.7h0M1036 341.3h0M1018.9 327.3h0M818.4 311.9h0M1020.9 340.9h0M1028.5 329.8h0M989.7 355h0M907.8 320.1h0M900.9 331h0M938.7 324.5h0M844.8 308.3h0M860.5 309.1h0M970.5 363h0M946.6 359.7h0M931.7 328.8h0M1027.5 339.9h0M890.2 307.9h0M909.8 312.7h0M920 335.7h0M852.7 326h0M886 307.7h0M867.7 319h0M874.6 319.2h0M1001.3 344.7h0M912.7 341.4h0M855.9 307.5h0M814.9 317h0M999.6 333.2h0M891 334.3h0M891.1 324.8h0M980.1 348.7h0M942.7 343.7h0M873 341.4h0M790.5 311.2h0M992.7 343.2h0M897.2 334.4h0M940.8 358.8h0M1000.4 355.2h0M824 321.9h0M947.4 342.5h0M1027.2 346.2h0M902.2 341.3h0M886.3 323.4h0M843.9 329.3h0M887.2 337.4h0M1003.3 329h0M878.8 339.2h0M923.8 322.9h0M979.5 324.1h0M995.7 331h0M948.9 322.1h0M947.4 360.8h0M838.4 309.7h0M945.4 356.9h0M1032.7 333.9h0M941.5 340.4h0M1003.7 345.4h0M880.4 323.9h0M902.7 337.9h0M871.3 333.8h0M1005.4 350.3h0M942.1 355.9h0M921.3 328.4h0M876.6 326h0M916.7 334.6h0M941.9 345.5h0M949.1 343.8h0M862.9 339.3h0M841.1 312.8h0M938.8 318.6h0M1003 343.7h0M932 332.5h0M889.5 303.4h0M977.5 349.3h0M872.1 338.1h0M932.3 318.4h0M829.4 327.2h0M900.6 337h0M952.1 350.1h0M894.5 339.8h0M895.4 324.2h0M967.8 326.4h0M891.6 342.8h0M1030.4 345.2h0M876.6 321.1h0M893.9 319.7h0M858.5 327.8h0M888.1 344.9h0M940.3 359h0M958.1 356.9h0M814.4 307.8h0M983.3 363.3h0M958.2 326.7h0M873.7 334.7h0M858.1 334.5h0M849.6 317.9h0M847.2 304h0M992.6 337.2h0M1043.3 334.5h0M874 313.9h0M865.2 302.7h0M874.6 319.3h0M841.5 323.4h0M1019.3 343.8h0M1014.1 350.3h0M847.2 330.6h0M848.3 335.6h0M941.3 346.8h0M983.2 360.1h0M936.4 321.2h0M914.3 337.3h0M886.8 308.5h0M903.9 324.4h0M942.2 332.6h0M873.9 327.5h0M901.6 315.4h0M799.4 312.3h0M862.3 302.1h0M1009 335.4h0M1027.8 341.6h0M1017.5 334.7h0M863.9 331.2h0M947.6 322.9h0M977.3 352.5h0M927.9 319.7h0M871.9 331h0M841.8 325h0M927.8 319.8h0M831.5 308.8h0M868.1 316.6h0M873.6 301.7h0M920.5 311.6h0M972.4 339.8h0M859.6 308.2h0M885.5 330.5h0M978 339.4h0M861.2 332.3h0M820.5 317.1h0M872.7 329.4h0M1002.3 332.3h0M944.3 340.7h0M876.1 311.1h0M888.9 321.1h0M864.3 313.8h0M913.7 322.1h0M816.3 309.1h0M946.2 323.2h0M921 318h0M992.3 358.6h0M1053.4 336.4h0M900.1 337.1h0M965.7 368.7h0M868.4 325.5h0M920.1 317.2h0M890.5 320.8h0M898 333.6h0M977.5 326.1h0M940.8 331.7h0M906.5 312.2h0M979.2 345.7h0M882 313.5h0M892.3 340.6h0M1017.6 335.5h0M881.8 328.6h0M900.6 338.6h0M804.6 319h0M809.7 321.9h0M905.2 304.6h0M888.7 321.7h0M895.9 309.3h0M989.3 324.3h0M900.2 320.7h0M998.3 344.5h0M864.9 322h0M818.7 309.4h0M981.3 353.6h0M925.3 353h0M907.6 304.8h0M810.1 321.7h0M938.6 336h0M858.2 339h0M850.4 317.4h0M856.5 311.1h0M823.3 321.8h0M982.4 359.3h0M843.8 309.2h0M891.7 341.3h0M855.3 311.3h0M862.1 306.6h0M936.6 348.2h0M883.2 326.6h0M917.9 327.1h0M861.4 301.9h0M917.9 337.7h0M870.1 328.1h0M850.8 314.8h0M886.6 308.1h0M823 307.3h0M986.8 346.5h0M909.1 328.6h0M840.2 312.5h0M947.4 332.8h0M1006.7 338.4h0M799.7 315.1h0M991.7 339.2h0M974.5 327h0M912.8 338.1h0M884.7 331.3h0M878.7 322.2h0M947.3 328.2h0M962.5 330.6h0M895 313.9h0M849.5 316.4h0M943.4 319.4h0M926.5 340.6h0M854.9 339h0M940 335.4h0M848.3 310.6h0M1005 340.7h0M930.4 330.2h0M843.6 313h0M1007.1 350.6h0M870.8 318.6h0M853.6 304.3h0M1008 342h0M895.5 303.3h0M930.2 313.2h0M969 348.5h0M822.6 312.5h0M835 327h0M884.9 321.8h0M974.5 333.8h0M864.9 337.4h0M879.9 320.9h0M1021.7 348.5h0M858.2 307.6h0M967.4 349.2h0M959 344.5h0M939.6 355.7h0M941.9 318h0M1018.4 329.1h0M954.6 328.3h0M910.4 315.7h0M937.9 319.5h0M976.1 359.1h0M906.4 317.2h0M899.1 325.8h0M849.2 325.5h0M906.1 342.3h0M810.3 314.9h0M945.3 347.6h0M830.9 312.3h0M881.7 318.7h0M909.4 307.6h0M814.9 312.5h0M944.2 347.2h0M876.1 321.6h0M920.7 316.7h0M834.1 315.2h0M892.4 339.6h0M858.5 337h0M983.2 342.5h0M853.4 330.7h0M825 313.4h0M908 320.3h0M1002.1 332h0M968.3 367.2h0M817.5 309.3h0M977.4 337.4h0M943.9 322.7h0M914.2 344.6h0M840.1 330.6h0M832.9 306h0M878.9 324.7h0M859.8 310.9h0M898.3 332.7h0M958.4 329.7h0M905.1 331.3h0M820.7 307.7h0M998.3 335.2h0M869.9 336.6h0M990.1 333.6h0M829.9 331h0M976.3 353.3h0M933.3 335.7h0M935.9 332.3h0M894.1 310.9h0M902.3 346.7h0M912.1 348.8h0M971.8 339.6h0M855 315.5h0M909.8 318.9h0M860.2 311.7h0M977.7 345.9h0M912 329.2h0M1014.9 327.7h0M831 313.2h0M1018.7 336.3h0M833.8 324.9h0M959.5 336.4h0M817.3 311.2h0M952.9 344.6h0M952.4 358.3h0M880.9 315h0M953 327.6h0M908 340.4h0M891.5 314.7h0M796.9 308.9h0M829.2 321h0M947.5 350.3h0M920.2 349.4h0M924.4 315.7h0M906.8 336.8h0M881.5 302.7h0M932.6 333.2h0M919.6 344.1h0M896.3 322.2h0M830.3 320.1h0M881.8 340.8h0M912.7 313.8h0M868.6 336.8h0M996.2 355.5h0M827.5 307.2h0M913.6 328.4h0M901 307.9h0M867.4 335.8h0M954.8 337.3h0M808 314.8h0M960.9 341.7h0M973.3 351.6h0M969.9 337.7h0M970.5 339.9h0M1009.8 327.9h0M883.8 313.1h0M798.9 313.7h0M850.6 307.8h0M888.9 320h0M941.2 356.9h0M871.7 306.8h0M875.6 315.7h0M980.6 352.2h0M1029 336.9h0M886 336.8h0M928.4 319h0M1024.5 331.5h0M887 317.5h0M911.4 347.9h0M839.7 320.2h0M885.7 326.5h0M1015.5 338.6h0M865.8 302.9h0M855.3 337h0M881.5 325.3h0M909.2 336.8h0M995.6 330.4h0M920.3 322h0M970 369.4h0M841.9 312h0M800.5 306.4h0M967.9 334.6h0M873.9 309.6h0M875 332.8h0M912.5 313.7h0M912 327.8h0M828.6 319.1h0M876.6 302.6h0M897.9 305h0M919 329.1h0M805 308.1h0M985.2 361.9h0M806.6 310.7h0M792.8 306.7h0M1002.4 327.9h0M1003.1 357h0M816.4 304.9h0M880.8 330.9h0M920.3 343.6h0M822.6 317.1h0M873.2 312.1h0M843.3 327.8h0M984 347.9h0M970.3 368.7h0M884.1 305.5h0M948.7 352.5h0M798.1 310.6h0M839.1 317.6h0M904 336.4h0M866.2 335.4h0M1049.8 334h0M887.1 345.3h0M938.5 350.7h0M873 336.1h0M1037.7 337h0M886.8 309.8h0M913.2 342.1h0M997.1 336.4h0M934.9 317.2h0M900.2 343.4h0M815.1 307.9h0M1037.7 331.4h0M882.1 336.5h0M829.5 311.6h0M923.6 352.6h0M905.7 334.2h0M793.2 311.9h0M839.8 318.5h0M864.8 337.6h0M892.3 328.1h0M1012.7 334.7h0M840.7 325.1h0M931.4 351.6h0M947 355h0M985.3 361.3h0M857.1 335.4h0M914.8 331.5h0M908.1 321.5h0M925.7 319.2h0M882.6 343.7h0M908 346h0M896.7 343h0M851.7 317.7h0M880.2 323.7h0M828.4 315.8h0M828.8 308.1h0M921.8 342.8h0M924.3 331.8h0M992 360.2h0M925.3 338.5h0M891.9 341.3h0M919.6 316.6h0M892.8 302.3h0M984.6 328.8h0M842.8 329.9h0M865.4 317.3h0M925.6 348.7h0M895.7 336.4h0M962.6 322.3h0M971.3 338.2h0M987.7 349.1h0M911.1 330.7h0M883.1 309.8h0M834.2 319h0M942.5 323.1h0M911.4 329.9h0M875.5 337.2h0M1010 346h0M896.8 332h0M876.2 309.7h0M885.8 324.4h0M976.8 329.9h0M797.1 322.3h0M946.3 383.9h0M1003.2 359.7h0M850.9 354.1h0M1043.2 342.1h0M893.8 375h0M961 373.8h0M784.4 307.6h0M1016.8 351h0M834.5 346h0M1025.7 348.2h0M992.1 362.4h0M1004.8 357.1h0M988.6 361.3h0M1043.3 343.8h0M826.5 341.4h0M811.5 331.9h0M807.4 330.3h0M932.1 395.2h0M976.3 368.1h0M1021.7 350.2h0M1052.3 337.8h0M929 395.8h0M1024.4 348.2h0M1025.5 348.7h0M882.4 369.6h0M883.8 370.7h0M875.4 367.1h0M961.1 375.8h0M864.5 360.3h0M983 365.4h0M911.7 383.7h0M962.4 372.8h0M1007.9 356.8h0M918.8 387.6h0M821.2 337.6h0M1057.8 333h0M963.5 371.9h0M1006.4 358.5h0M1031.9 346.5h0M982.6 365h0M881.9 369.1h0M1028 349.6h0M1032.7 346.9h0M1051.1 338.4h0M813.9 333.5h0M874.1 364.5h0M934.1 393h0M1055.4 336.2h0M958.2 375.2h0M1047.3 340.7h0M958.9 377.4h0M867.6 361.1h0M984.6 365.4h0M994.2 362h0M834.7 345.4h0M897.6 375.3h0M799.3 322.2h0M1012.6 355.4h0M1037.9 344.3h0M857.7 356.5h0M1043.4 342.3h0M954.4 379.1h0M1029.2 348.8h0M950.5 381.4h0M809.3 328.9h0M877.1 365.9h0M926.8 394.7h0M932.2 395.6h0M922.9 392.7h0M844.2 351.7h0M879.6 368.9h0M840.1 348.3h0M1021.3 351h0M891.7 373.9h0M822.7 338.5h0M989.9 363.5h0M1033.8 344.7h0M959.4 374.6h0M874 366.2h0M891.5 374.8h0M945.8 382.6h0M788.8 313.6h0M980.5 367.1h0M820.9 338h0M914.9 385.4h0M794 318.2h0M805 325.8h0M1005 357.7h0M932 396.5h0M801.3 325.5h0M820.6 335.3h0M999.1 359h0M1047.8 342.1h0M891.6 373.3h0M970.6 371.2h0M897.1 375.9h0M1001.3 358.5h0M827.1 342h0M822 337.6h0M1014.1 352.5h0M1038.6 345h0M807.2 327.7h0M1040.1 344.2h0M1020.1 349.3h0M879.4 367.1h0M1037.6 344.7h0M816.2 335.4h0M965.5 370.6h0M826.8 341.5h0M880.5 367.2h0M961.6 374.7h0M942.2 386.7h0M1033.7 345.6h0M1015.2 354h0M881.2 369.5h0M949.4 382.8h0M874.8 364.8h0M908.7 381.7h0M986.2 364.1h0M981.1 365.7h0M979.9 365.3h0M820.4 336.6h0M836.4 346.5h0M831 342.3h0M789.4 314.8h0M805.2 329h0M986.8 364.7h0M934.8 393.1h0M1029.3 346.4h0M861.9 358.6h0M899 377.3h0M1043.3 343.1h0M916.7 386.4h0M993.7 361.7h0M911.2 383.1h0M896.8 375.6h0M810.7 330.5h0M994.5 361.8h0M972.6 370.3h0M862.5 360.9h0M786.8 310.5h0M958.4 375.3h0M973.9 369.8h0M861.6 359.6h0M1003.6 360.2h0M813.6 332.8h0M798.5 321.3h0M798.5 323.6h0M875.2 365.7h0M802.6 324.6h0M911.6 384.1h0M784.7 310.4h0M1004.2 360.1h0M902.3 379.5h0M958 375.5h0M1032.2 345.5h0M916.2 386.3h0M939.8 387.1h0M1017.9 352.1h0M877.9 367.1h0M961.8 372.6h0M829.2 343h0M1054.4 335h0M855.7 356.8h0M1058.3 332.1h0M952.5 379.3h0M1053.8 338.2h0M1041 343h0M892.5 375.2h0M924.5 391.5h0M887 372.3h0M821.8 337.5h0M834.1 345.5h0M826.5 339.5h0M809.7 331h0M915 388.1h0M939.5 387.2h0M976.6 368.3h0M976.4 367.6h0M974.2 367.3h0M964.5 371.9h0M965.3 372.4h0M832.6 343.8h0M915.2 388.2h0M804.2 325.7h0M943.8 383.7h0M966.1 372.2h0M800.8 324.5h0M965.6 371.1h0M807.5 329.4h0M911.3 383.5h0M977.9 368.2h0M869.5 363.1h0M973.5 368.9h0M907.4 381.8h0M783.6 307.8h0M1018.2 351.6h0M858.8 358.9h0M862.7 358.8h0M854.7 354.9h0M986 364.8h0M810.4 330.6h0M798.1 321.1h0M1001.7 359.4h0M857.5 357.2h0M1028 348.7h0M963 374.2h0M973.6 368.8h0M890.2 371.7h0M1042.8 343.9h0M981.9 365.2h0M819.6 335.2h0M949.9 379.9h0M907.5 381.3h0M931.2 395.4h0M862.6 361h0M911.2 383.2h0M931.8 395.8h0M782.9 308h0M1028.9 347.8h0M883.8 369.3h0M1042.5 341.8h0M961.8 374.1h0M940.4 388.5h0M919.5 391h0M917 388.1h0M998.2 358.4h0M930.6 397.4h0M937.1 390.4h0M978.2 365.5h0M954.6 378.1h0M807.1 329.4h0M972.2 370.1h0M911.7 383.5h0M998.2 361h0M916.8 388.7h0M788.9 313.5h0M1001.1 360.4h0M955.4 377.6h0M1042.5 342.2h0M968.3 370.7h0M896.7 376.8h0M943 385.9h0M873.4 363.7h0M1038.2 345.2h0M1043.3 343.5h0M861.7 358.3h0M869.2 363.3h0M1038.3 343.9h0M915 385.9h0M842.6 348.9h0M1021.2 351.8h0M1052 336.2h0M805.2 326.1h0M825.1 340.6h0M1009 355.4h0M1020.7 351h0M942.3 386.9h0M975.1 368.5h0M991.7 360.8h0M839.8 347.6h0M813.3 333.5h0M785.1 308.5h0M1047.2 340.9h0M912.5 385.6h0M960.2 374h0M803.8 325.8h0M836.4 344.6h0M921.5 390.8h0M990 363.5h0M804.8 326.1h0M987.6 361.6h0M936.5 391.9h0M843.9 349.4h0M977.8 365.6h0M1031.1 346.6h0M847.3 352.9h0M967.6 372.2h0M1039.2 342.8h0M989.2 362.5h0M981.3 364.1h0M931 395.5h0M984.2 364.3h0M992.5 361.2h0M969.5 370.8h0M868.6 361.7h0M784.5 308.6h0M973.7 369.8h0M952.1 379.6h0M894.3 375.2h0M897.1 376.7h0M951.8 381.6h0M882.9 368.1h0M999.3 360h0M1017.2 352.4h0M851.8 353.6h0M938.8 390h0M858.1 355.9h0M823.6 339.8h0M851 353.1h0M1009.8 355.6h0M926.6 393.9h0M994.3 361.6h0M1050.5 340.1h0M920.8 391.3h0M813.7 334.2h0M1053.3 337.5h0M952.1 379.6h0M1053.1 337.5h0M884.2 368.9h0M802.6 324.2h0M973.9 367.2h0M851.8 353.1h0M1006.1 358h0M899.3 377.4h0M934.9 393.3h0M1058.4 333.6h0M1038.3 345.3h0M1051.2 337.9h0M854.8 354.3h0M844.5 348.8h0M855.2 354.3h0M919.9 389.6h0M1025.5 347.7h0M945.5 382.7h0M1049 340.8h0M784.6 307.4h0M872.5 363.3h0M917.5 387.5h0M860.3 359h0M1050.4 338.7h0M1054.9 337.2h0M845.7 349.9h0M799.7 321.8h0M913.3 386.3h0M831.7 342h0M930.7 397.3h0M970.5 368.3h0M791.4 316.7h0M804.5 325.9h0M811.1 331h0M986.8 363.3h0M873 364.9h0M785 309.1h0M962.6 372.5h0M856.3 354.9h0M913.7 385.2h0M1003.2 358.6h0M1043.5 341.9h0M981.5 367h0M791.3 315.6h0M838.4 345.8h0M794.6 318.3h0M815.6 332.9h0M899 377.7h0M997.4 359.3h0M999.6 360.9h0M1027 348h0M888.5 371.8h0M838.4 346.3h0M996.6 361.9h0M835 344.2h0M887.7 372.6h0M914.2 385.3h0M816.2 333.9h0M1011.3 355h0M815.2 334.2h0M948.3 383.6h0M1000.7 358.2h0M943.4 385.2h0M858.4 357.2h0M990.9 361.3h0M937.8 391.5h0M955.1 378.3h0M822.8 339.4h0M972.3 370.3h0M986.9 362.3h0M951.6 379.4h0M889.8 373.9h0M815.7 332.5h0M1004 359.1h0M823.5 337.1h0M890.1 371.9h0M895.2 375.7h0M1002.3 359.3h0M830 341.5h0M1012.7 353h0M861 359.7h0M981.7 366.8h0M964.1 374.1h0M863.2 360.3h0M847.3 351h0M1011.8 355h0M1036.8 346.4h0M1041.8 343.4h0M986.5 362.9h0M916.9 387.2h0M1031.4 346.3h0M899.1 378.5h0M1024.6 328.2h0M953.3 320.5h0M1015.6 324.6h0M790.1 305.1h0M1012.3 324.1h0M818.8 304.1h0M823.6 303.7h0M873.7 299.7h0M1013.6 324.5h0M952.3 320h0M1034.9 330.6h0M836.9 304.1h0M903.7 303.3h0M992.7 325.2h0M848.8 304h0M832.4 303.1h0M825.8 299.4h0M904.8 300.8h0M918.7 305.7h0M888.7 298.2h0M992.7 323.6h0M954.2 320.3h0M842.5 303h0M922.3 304.5h0M1039 330.9h0M1042.6 330h0M825 300.7h0M884.9 299.6h0M838.1 302.8h0M811.6 303.6h0M1032.6 324.2h0M1016 326.9h0M1029.6 329.1h0M930.5 313.3h0M1020.7 322.6h0M1054.5 333.1h0M1018.6 325h0M1012.7 324.8h0M1012.1 325.5h0M925.6 311.1h0M918.9 303.2h0M1017.6 326.4h0M1054.8 333.6h0M799.9 300.7h0M933.3 314.1h0M832.4 301.7h0M877.6 299.7h0M887.4 296.2h0M783.2 305.2h0M913.6 303.5h0M847.2 300.6h0M992.7 323h0M973.7 322.4h0M866.9 302.1h0M875.5 301.8h0M785 303.1h0M896.1 301.1h0M1015.6 326.5h0M956.2 321.6h0M1022.1 327.3h0M935.3 312.5h0M1003.9 320.3h0M914.8 306.1h0M845.4 303.8h0M881.2 301.7h0M1040.8 327.9h0M981.6 321.5h0M783.4 306.3h0M831.6 306.2h0M921.7 309.1h0M959.6 320.1h0M789.5 305.5h0M848.1 303.4h0M932 309.2h0M1003.4 324.2h0M980.3 323.7h0M876.2 301.7h0M975.9 323.8h0M841 305.1h0M991 325h0M971.4 323.6h0M800.1 303.5h0M900.3 301h0M866.6 299.2h0M976.7 322.8h0M974.8 320.9h0M928.6 309.6h0M957.4 321.4h0M921.7 307.5h0M898.1 303.4h0M883.7 301.9h0M1019.3 323.6h0M899.5 302.1h0M910.9 305h0M846.2 300.8h0M990.9 325h0M807.5 303.8h0M1055.9 329.9h0M844.2 304.3h0M782.5 304h0M896.5 299.4h0M865.4 301.8h0M896.3 302h0M996.1 322.3h0M874.7 299.2h0M924.8 310h0M871.4 299.6h0M786.2 305.4h0M862.6 299.4h0M825.9 300.4h0M1010.8 325.6h0M1054.5 333.4h0M785.4 305.2h0M824.3 302.2h0M871.1 300.4h0M935.8 315.3h0M900 301.5h0M851.5 298.9h0M935.7 311.1h0M967.2 322.5h0M1038.4 330.7h0M1001.2 324.4h0M1038.6 329.2h0M788.7 306.3h0M969.4 321.8h0M976.4 320.2h0M988 324.8h0M1019.5 325.1h0M826 304.8h0M995.9 324.2h0M820.6 305.2h0M1031.7 326.4h0M835.6 306.5h0M831.4 304.9h0M835.6 306.7h0M1052.1 333.6h0M811.5 298.6h0M881.7 301.9h0M838.5 305.4h0M785.7 305.1h0M988 323.7h0M937.7 311.4h0M968.9 321.3h0M828.5 303.8h0M852.1 303.7h0M922.3 306h0M872.7 301.2h0M904.6 303.5h0M1033.2 327.5h0M909 304.5h0M787 311.5h0M790.1 311.4h0M787.3 316.1h0M792.2 313.8h0M796.3 320.7h0M796.3 316.9h0M798.5 316.2h0M800.5 319.3h0M803.3 319h0M808.2 320.5h0M804.1 322.2h0M811.8 321h0M808.8 325.4h0M818.6 321.9h0M817 326.2h0M815.9 326.1h0M817.6 328.3h0M822.3 328.6h0M826.2 327.3h0M826.4 330.2h0M831.1 327.7h0M829.1 329.8h0M831 334.1h0M835.6 332.6h0M836.7 335h0M838.8 332.7h0M840.7 337.6h0M844.9 336.5h0M846.8 336.3h0M847.7 339.5h0M850.8 335.7h0M852.1 340.4h0M856 341.2h0M855.5 339.3h0M858.3 337.8h0M858.4 342.3h0M862.3 339.8h0M867.1 341.8h0M866.9 340.9h0M870 343.5h0M873.5 343.8h0M874.2 343.1h0M874 345.8h0M879.2 343.4h0M879.4 342.7h0M883.5 346h0M884.6 345.2h0M886.5 349.8h0M890.3 344.1h0M890.2 348.7h0M896.4 348.3h0M898.3 345.5h0M900 347h0M901.4 348h0M905.5 350.7h0M908.5 349.8h0M912.9 348.4h0M909.4 349.5h0M911.9 349.7h0M916.7 351h0M919.7 352.3h0M919.9 353.8h0M923.8 354.8h0M926 356.2h0M926.8 352.6h0M929.8 357.3h0M933.3 356h0M934.1 355.2h0M936.8 362.5h0M940.3 358.8h0M941.1 362.4h0M943.5 361.4h0M945.5 366.1h0M947.6 362h0M950 364h0M951.7 368.2h0M953.6 366.9h0M958.6 368.1h0M959.9 366.7h0M961 367.6h0M962.2 372.5h0M964 372h0M964.3 372.3h0M957.7 372.9h0M959.5 376.6h0M955.6 380.9h0M955 378.7h0M952.3 378h0M949.8 382.2h0M947.1 380.8h0M946.9 385.2h0M943.5 383h0M943.5 385.4h0M941.7 387h0M941.2 388.6h0M935 391.8h0M936.7 392h0M934.4 393h0M935.3 393.5h0M930.5 396.5h0M929.4 392.5h0M927.2 394.6h0M924.9 393.6h0M919.7 391.6h0M920 390.4h0M919.1 388.7h0M915.4 386.6h0M913.2 388.3h0M911 385.3h0M907.3 383.8h0M905.5 383.2h0M904.8 383.4h0M903.3 380.4h0M900.8 379.2h0M896.2 377.7h0M897.4 374.3h0M895.3 376.6h0M892.6 378h0M891.6 373h0M889.3 372.6h0M886.7 372h0M883.1 368.6h0M885 370.3h0M882.9 369.1h0M875.2 365.7h0M877.7 366.6h0M872.7 364.9h0M869.6 364.1h0M870 363.7h0M866.1 364.6h0M865.8 361.7h0M862.8 361.8h0M862.7 356.7h0M859.7 358.6h0M858.7 359.9h0M854.8 354.9h0M853.3 355.4h0M852.1 352.8h0M853.2 351.9h0M844.6 353.1h0M848.9 353.7h0M845.7 347.9h0M840.1 347.5h0M836.7 348.2h0M836.7 347h0M834.9 347.4h0M834.3 346.5h0M830.4 341h0M828.2 341h0M829.1 343.6h0M824.7 342.3h0M821.5 339.3h0M820 337h0M819.5 334.7h0M818.4 336.8h0M816 330.8h0M811 332.4h0M810.3 330.3h0M811.2 330.5h0M804.4 328.4h0M803.3 327h0M804.8 325.4h0M797.4 323.1h0M799.1 322.3h0M798 318.1h0M791.8 319.9h0M792.4 320.9h0M790.7 314.6h0M789.6 313.1h0M788.1 315.8h0M786.7 312h0M815 171.6h0M797 180h0M845.6 174h0M861.5 185.1h0M869.9 191.1h0M811.4 194.4h0M826.4 206.4h0M885.5 207.6h0M841.4 218.4h0M877.4 221.4h0M893 219.6h0M900.5 228.6h0M788.9 230.4h0M856.4 230.1h0M839.9 236.4h0M803 239.4h0M773 242.1h0M775.1 246.6h0M791.6 246.9h0M872 243h0M887.9 243.6h0M908.6 242.4h0M916.1 249.9h0M794 252h0M783.5 254.1h0M788.6 255.6h0M788.6 258.6h0M817.4 252h0M824.9 256.5h0M887 255h0M893.6 256.5h0M894.5 260.4h0M854.9 260.4h0M880.4 261.6h0M923.9 263.4h0M779.9 263.4h0M778.4 267h0M781.4 268.5h0M831.5 266.4h0M902 268.5h0M902.9 270h0M839 271.5h0M872.9 272.1h0M769.1 273h0M773 275.4h0M910.1 273.9h0M932 276h0M758.6 277.5h0M776 278.4h0M779 279h0M845.9 276.6h0M855.5 278.1h0M886.1 276.6h0M870.5 279.9h0M917.9 279.9h0M829.4 281.1h0M830.6 282.9h0M834.5 283.5h0M778.4 285.6h0M905.9 285.6h0M909.5 286.5h0M874.1 287.4h0M864.5 288h0M860 289.5h0M925.4 288h0M806.6 290.4h0M878.9 291h0M886.4 291h0M893 291h0M896.9 291h0M870.5 292.5h0M863.9 293.4h0M933.5 294.6h0M788.9 295.5h0M852.5 295.5h0M811.4 297h0M878 298.5h0M874.1 299.4h0M886.1 299.4h0M890 300h0M846.5 301.5h0M850.1 302.4h0"/>
<path class="k" d="M92.5 798L95.1 798.9L99.1 798.5L102 800.3L104.8 800.4L107.1 800.5L111.2 801.7L113.3 801.3L115.9 802.7L119.9 802.3L124.5 803.6L126.1 803.4L130 804.6L133.3 804.6L137 805.4L140.2 806.2L144.3 804.1L146.7 804.6L149.2 805.3L154.4 805.3L158.1 806.9L161.1 807.3L163.3 808L167.6 809.5L171 809L173.7 810.9L175.9 810.2L180 811.3L183.5 811L185 811.5L189.4 810.3L193.2 810.1L196.7 809.6L199 809.1L204.5 808.8L207.2 807L210 807.5L213.3 806.3L218.3 805.2L218.4 802.2L223.4 802.9L226.5 802.4L230 801.3L233 801.6L238 799.5L239.8 800.6L242.6 799.7L246.7 799.6L251.6 799.9L253 800.2L258.2 800.4L259.6 798.8L263.3 799.3L266.5 799.1L270.2 801.8L273.3 804.3L273 807.2L273.3 810.4L272.4 810.8L267.1 812.7L261.8 814.3L260.7 813.8L256.7 815.4L254.5 815.9L250 816.8L246.7 818.7L241.4 819.2L238.5 821.9L236.7 822.5L233.3 824.1L230 825.4L227.5 825.5L222.4 827.8L220.2 828.6L217.2 827.7L213.3 828.7L208.3 829.6L207.1 830L204.1 830.1L199.7 831.2L196.7 831.2L194.2 831.2L191.8 833L188.2 834.2L184.8 838L182.9 837.7L180 838.7L175.8 839.4L172 840.7L169.7 843.7L166.8 844.6L163.3 845.4L161.3 845.7L156.9 847.3L152.7 847.5L151.4 847.9L146.7 848.7L143.6 850.5L139.8 851.3L137 852.7L133.7 853.9L130 855.4L126.6 857.6L125.4 858.1L122 860.1L119.4 860.3L116.2 862.6L113.3 863.7L111.2 867.1L108.4 868.7L105 870.4L103.7 871.5L103.2 876.3L100.8 878.7L99.4 883L98.3 887L96 891.7L95.1 895.7L94.2 897.7L93 896.7L91.8 892.7L92.6 890.9L92.9 886.7L93.3 885.5L93.4 881.1L92.8 876.9L93.2 874L90.7 871.6L92.5 868.7L92.8 866.1L93.4 862.8L92.3 860.1L92.4 857.1L92.8 853.9L92 850.8L93.1 847.1L91.7 842.9L91.3 841.5L92.6 838.1L93.2 834.8L91.9 832.5L90.9 827.5L93.3 824.8L91.7 822.4L92 819.6L92.4 813.8L93.4 813.7L92.5 809.2L93.6 807.1L93.9 806L93.7 802.7Z"/>
<path class="d" d="M103 874.5h0M114.3 861.8h0M164.4 843.4h0M174.5 840.9h0M104.8 870.7h0M151.7 847.3h0M151.8 846.8h0M140.3 849.1h0M202.9 828.3h0M125.2 856.7h0M257.1 815.5h0M204.6 830.4h0M212.2 827.5h0M218.3 826.7h0M178.1 839.1h0M157.7 845h0M178.8 839.9h0M127.5 854.8h0M115.7 862.8h0M135.4 852h0M252.1 817.2h0M132.5 852.4h0M173.8 840.2h0M269.4 812h0M229.7 824.9h0M252.6 816h0M246.8 819h0M98.5 884.8h0M124.5 859h0M256.4 815.3h0M165.6 843.8h0M192.8 833.8h0M143.5 849.3h0M227.9 826h0M181.8 837.2h0M156.5 847.8h0M175.3 840.8h0M207.9 830.6h0M189.5 833.5h0M148.2 847.1h0M165.4 844.1h0M103.6 871.9h0M198.4 830.8h0M129 856.4h0M193.9 832h0M135.8 851.8h0M249.9 816.6h0M180.9 836.1h0M206.9 830.8h0M122.9 859h0M122.7 857.5h0M143.3 849.4h0M96.3 891.3h0M258 814.8h0M232.7 822.4h0M204.5 828.1h0M188.8 835.5h0M99.7 881.1h0M134.1 854.4h0M226.8 825.5h0M246.3 817.1h0M206.7 827.7h0M256.2 814.1h0M202.7 830h0M95 894.1h0M262.9 812h0M197.5 831.9h0M268 811.9h0M165.8 842.5h0M196.7 830.6h0M219 826.7h0M94.7 896.4h0M202.9 828.3h0M217.5 827.1h0M100.4 879.7h0M221.4 827.3h0M234.7 822.1h0M157.5 845.3h0M179.5 839.8h0M138.9 851.9h0M244.5 819.3h0M109.2 867h0M161.7 845.2h0M116.6 862.9h0M265 810.9h0M219.9 827.2h0M165.9 844.2h0M185.4 836h0M255.8 815h0M200.3 830.5h0M222.7 824.9h0M261.6 812.6h0M185.4 834.1h0M258.5 815.2h0M222.7 825.1h0M235.3 822.3h0M117.6 861.3h0M258.2 814h0M124.1 858.7h0M139 851.3h0M130 855.1h0M119.5 858.9h0M128.6 857.1h0M135.5 853.8h0M195.1 832.2h0M131.2 855.4h0M214.1 829.6h0M249.5 818.1h0M187 835.6h0M224.3 826.9h0M272.5 811.2h0M104.9 869.6h0M227.9 825.1h0M183.6 835.8h0M160.1 845h0M213.2 826.8h0M222.4 828h0M122.9 859h0M125.3 855.9h0M182.7 838.7h0M269.5 810.3h0M151.4 848.3h0M243.4 820.1h0M189.7 835.3h0M174.9 841.5h0M205.6 829h0M231.5 823.7h0M181.4 838.4h0M228.5 824.8h0M222 826.7h0M256.1 816h0M140.5 851.7h0M210.3 829h0M148.8 848.8h0M189.5 833.6h0M144.7 850.4h0M179 837.9h0M138.1 851.2h0M106.7 869.3h0M101.7 876.5h0M203.2 829.6h0M191.9 834h0M179.8 836.7h0M203.6 829h0M146.6 849.1h0M157.9 845.2h0M101.5 876h0M142 851.4h0M92.5 868.5h0M143 848.7h0M229.8 824.6h0M105.5 870.5h0M101.4 876.1h0M243.5 819.7h0M238.3 820.8h0M106.7 870.2h0M243.5 819.5h0M228.4 824.4h0M125.8 855.9h0M203.3 830.3h0M234.6 821.9h0M205.5 829.5h0M235.1 824.3h0M267.4 811.5h0M212.5 827.9h0M140.4 852.2h0M147.9 847.3h0M131.9 854.9h0M203.4 831.2h0M143.5 850.6h0M259.9 813h0M207.9 828h0M190.9 834.4h0M123.8 858.9h0M135.8 852.3h0M93.5 897.1h0M190.5 834.4h0M140.2 852.3h0M175.8 841.4h0M154.5 847h0M208 829.6h0M206.2 829.1h0M160.3 845.2h0M200.8 831.2h0M253.8 817.2h0M165.5 843.4h0M262.3 813.3h0M232.7 822.7h0M271.1 810h0M170.3 842.4h0M129.2 854h0M186.7 836.7h0M97.4 889.3h0M177.1 839.4h0M169.9 840.8h0M140.9 849h0M242.1 820.4h0M102.1 874.6h0M220.9 827h0M210.5 827.3h0M268.9 809.6h0M245.4 819.9h0M170 840.8h0M94 895.7h0M194.2 830.6h0M262.2 813.3h0M186 834.7h0M215 827.6h0M254.7 815h0M211.9 828.5h0M195.7 831.7h0M126.3 857.6h0M109.6 866.4h0M145.6 848.8h0M223.7 827.2h0M211.4 827.7h0M177.4 838.1h0M122 859.7h0M237.4 820.8h0M105.5 868.6h0M222.4 825h0M272 808.8h0M203.1 830.8h0M192.2 833.3h0M143.2 849.1h0M151.7 847.2h0M240.1 822.1h0M146.4 849.7h0M104.7 869.5h0M137.6 851.8h0M123.7 857.9h0M134.2 852.6h0M254.7 815h0M137.2 851h0M113.1 864.6h0M133.2 853.4h0M129.6 856.6h0M96.2 890.8h0M109 865.8h0M172.1 841.2h0M227.2 824.4h0M169.1 843h0M244.5 819.9h0M124.8 858.9h0M224.4 825.7h0M127.8 856.8h0M106.1 869.1h0M110 867h0M220.5 826.2h0M177.5 839.1h0M246.4 817.4h0M202.7 830.9h0M161.8 844.1h0M238.7 821.3h0M136.5 853.3h0M107.8 866.4h0M268.2 810.3h0M141.4 848.8h0M201.4 829.5h0M193.5 833.4h0M151.4 847.8h0M224.3 826.5h0M142.3 850.7h0M166.2 842.5h0M108.7 868.2h0M127.3 855.8h0M230.9 823.5h0M99.5 884.2h0M259.1 814.5h0M231.5 823.1h0M181.6 836.6h0M130 853.5h0M190 835.2h0M152.9 847.3h0M244.2 820h0M257 814.2h0M146.9 847.3h0M201.5 829.6h0M133 854.4h0M98.7 885h0M108.6 866.6h0M185.1 837.3h0M266.2 812.5h0M191.8 834.4h0M166 844.7h0M221.3 827.6h0M260.6 814.6h0M171.6 840.9h0M205.5 830.4h0M223.3 825.8h0M148 848.8h0M125.2 857.4h0M159.6 846.3h0M136.7 851.8h0M246.1 817.1h0M118.7 861.7h0M113.9 861.8h0M202 830.3h0M256.9 815.2h0M180.3 839.2h0M258.3 813.6h0M210.1 828.4h0M211.8 827.7h0M174.9 838.9h0M194.2 830.9h0M244.9 819.2h0M95.4 892.6h0M136.4 850.8h0M160.1 844.8h0M105.9 869.8h0M153.3 846.9h0M254.1 816.4h0M129.6 854h0M152 847.5h0M132.9 855.1h0M218.3 828.3h0M183.5 835.3h0M220.7 826.3h0M167 844.8h0M238.6 820h0M257.5 813.4h0M154.8 847.3h0M186.2 834.3h0M168.1 842h0M194.5 831.4h0M272.6 810.1h0M212.6 827.4h0M156.7 847.4h0M235.8 820.9h0M211.9 830h0M219.9 804.8h0M242.4 799.8h0M160.2 808.4h0M127.2 802.1h0M201.7 808.5h0M266.2 800.1h0M254.3 800.9h0M170.8 809h0M182.4 808.6h0M169.6 809.9h0M269 803.1h0M197.5 808.2h0M256.4 801.4h0M110.9 802.9h0M96.7 797h0M230.1 799.5h0M272.1 803.5h0M228.7 802.6h0M271.8 802.4h0M122.9 800.4h0M126.5 804.5h0M142.9 805.9h0M157.5 804h0M142.2 802.1h0M236.2 798h0M228.9 800.6h0M178.6 810.9h0M128.7 802.7h0M136.2 806.1h0M120.1 803.1h0M137.4 806.4h0M192.5 810.9h0M193.1 807h0M161.7 806.7h0M226.8 803.4h0M190.3 811.2h0M122.7 801.4h0M113.6 798.5h0M261.7 798.9h0M253.8 800h0M141.8 803.6h0M205.7 805.2h0M207.8 805h0M216.2 807h0M117.6 803.2h0M178.4 809.6h0M234.7 802.1h0M161.7 807.8h0M220.5 804.7h0M112.4 802.8h0M147.9 803.3h0M151.9 807.4h0M211.3 806.4h0M163.8 807.7h0M268.7 803.7h0M220.2 805h0M182.9 811.8h0M144.9 801.7h0M175.6 812.4h0M158.9 806.9h0M222.3 802.4h0M152.3 806.1h0M106.9 799.2h0M165.1 810.2h0M255.2 797.9h0M219.2 802.1h0M245.2 797.1h0M245.8 797.6h0M183.2 808.6h0M106.9 797.6h0M158.5 806.4h0M188.9 812.3h0M246.3 801.1h0M170.9 811.1h0M126.2 801.1h0M213.1 805.3h0M121.7 802.2h0M100.1 797.8h0M102.6 800h0M240.9 797.9h0M116.6 803.2h0M100.7 797.5h0M129.2 802.3h0M251.3 800.8h0M190.1 809.2h0M244.6 800.6h0M117.9 803.2h0M128.3 804.6h0M196.5 811h0M199.9 807.9h0M209.8 808.4h0M217.1 804.4h0M130.8 804.8h0M272.8 804.1h0M261.6 801.3h0M173.9 808.1h0M158 808.4h0M143.9 802.1h0M126.2 801.7h0M202.4 809.1h0M97.1 797.2h0M145.9 804.3h0M119.7 800.2h0M251.1 797.7h0M262.5 799.4h0M179.9 812.5h0M142.5 803.5h0M148.3 802.1h0M215.8 807.3h0M123.3 801h0M184.8 811.8h0M154.6 804.6h0M220.6 802.5h0M188.7 810.8h0M235.3 800.2h0M127 805.4h0M218.6 805.6h0M171.5 807.5h0M93.9 797.8h0M192.7 810.6h0M171.3 806.7h0M186.3 811.5h0M167.9 810.3h0M171.5 809.9h0M273.3 801.4h0M130.9 804.2h0M250.9 799.5h0M188.8 809h0M221 805.7h0M258 800.5h0M104.1 797.4h0M166.6 806h0M247.5 796.8h0M218.9 805.4h0M251 797.1h0M138.3 803h0M242.5 798.5h0M250.8 800.7h0M179.8 810.4h0M216.9 806.6h0M110.5 801.6h0M154.9 807.3h0M111.3 798.6h0M235.1 802.7h0M120.2 802.5h0M201 807.5h0M140 802h0M191.8 811.9h0M219.2 804h0M200 809.6h0M242.9 799.7h0M247.5 797.6h0M130.7 804.8h0M128.8 804.1h0M206.5 808.8h0M228.1 801h0M233.4 802.3h0M228.7 799.5h0M267.4 802.7h0M191.5 809h0M225.9 803.1h0M190.2 810.4h0M201.2 810.4h0M103 798.8h0M161.7 806.5h0M239.5 800.9h0M106.9 799.4h0M120.3 803.4h0M166.1 806.7h0M120.4 804.6h0M129.1 806.3h0M100.8 797.4h0M98.6 796.1h0M236 799.7h0M128.1 801.9h0M134.1 804.6h0M230.4 798.3h0M212.5 806.4h0M96.3 799.3h0M181.2 812h0M269.2 799.9h0M224.5 803.7h0M228.6 799.8h0M184.6 810.1h0M181 811.6h0M128.1 801.5h0M188.4 810.3h0M108.6 798h0M254.3 800.6h0M151.6 804.2h0M200.2 807h0M102.6 798.2h0M176.3 809.6h0M180.8 811.8h0M263.2 800.5h0M266.1 800.3h0M254.4 799.9h0M153.7 807.8h0M139.8 803.6h0M238.8 800.9h0M101.7 798.9h0M225.5 802.4h0M235.9 798.4h0M202.1 809.6h0M221.4 805.6h0M224.4 803.1h0M156.9 806.2h0M133.1 802.1h0M240.7 799.6h0M122.6 802.6h0M134.3 803.7h0M162.9 805.5h0M117.9 803h0M232.4 800.6h0M259.7 801.1h0M166.4 807.6h0M151.1 805.4h0M217.6 802.8h0M145.2 803.5h0M121.6 803.1h0M100.8 798.1h0M194.9 809.3h0M193.4 811.1h0M237.4 801.4h0M137.9 804.6h0M251.9 797.3h0M220.7 805h0M100 800.1h0M103.8 799.3h0M156.8 804.3h0M261.7 800.8h0M141.9 804.4h0M205.2 805.3h0M150.9 803h0M225 801.9h0M171.2 810.9h0M260.4 799.5h0M111.4 798.2h0M96.4 799.8h0M159.3 807.9h0M174.5 809.4h0M266.3 798h0M98.8 797.1h0M213.1 803.4h0M96.7 798.5h0M120.6 802.8h0M128.1 805.9h0M155.7 803.8h0M99.6 796.8h0M125 801.7h0M144.7 805.1h0M238.2 799h0M142.2 804.3h0M189.4 807.6h0M126.6 802.2h0M97.6 796.2h0M197 808.8h0M207 805.8h0M259.1 798.8h0M143.2 805.3h0M235.6 800.7h0M258.8 799.2h0M112.6 802.1h0M92.5 799.1h0M120.8 800.9h0M103 798.9h0M182 812.5h0M174.5 807.6h0M105.4 797.9h0M97.3 799.7h0M92.8 799.1h0M103 800.7h0M100.9 798.3h0M206.3 809.5h0M135.2 803.8h0M221.9 804.6h0M163.4 806.4h0M224 801.6h0M142.2 806.5h0M219.8 803.9h0M230.7 799.4h0M129.8 805.1h0M147.7 806.4h0M167 810.5h0M173.2 811.8h0M237.1 800.1h0M109.4 801h0M94.1 800.1h0M219.7 802.8h0M208.6 807.6h0M189.1 808.4h0M149.9 803h0M152.9 804.4h0M114.8 800h0M134.4 804.3h0M240.6 801.4h0M139.1 803.3h0M185 811.9h0M256.4 797.6h0M186.8 809.5h0M168.2 810.6h0M154.5 805.4h0M212.6 803.6h0M135.8 802.5h0M92.5 799.8h0M116.4 801.2h0M168.2 806.2h0M188.1 809.3h0M258.1 798.9h0M128.8 801.8h0M139.3 801.8h0M267.6 803h0M211.5 805.5h0M182.8 808.6h0M151.5 802.8h0M164.5 809.7h0M130 805.6h0M98 800.7h0M117.7 800.4h0M148.4 803.7h0M176.2 807.9h0M123.8 801.9h0M241.1 797.3h0M177.1 809h0M113.5 802.8h0M245.9 796.9h0M240.6 800.6h0M120.4 803.1h0M135.1 806.2h0M160.3 809.2h0M246.5 800.4h0M114.5 798.9h0M165.4 808h0M214.1 805.5h0M152.9 807.1h0M240.3 801.7h0M255.1 797.4h0M171.5 808h0M230.5 802.6h0M172.9 810.4h0M194.5 807.5h0M251.9 797.1h0M207.6 809.2h0M214.2 807h0M128.7 804.7h0M161.2 808.8h0M113.3 801.2h0M212.4 806.1h0M256.9 799.6h0M146.2 802.5h0M155.5 807.2h0M251.1 798.5h0M237.7 800.3h0M127.4 805.1h0M247.3 801h0M271.6 801.6h0M217.1 805.1h0M230.9 800.6h0M224.4 803.6h0M94.2 799.4h0M148 805.9h0M142.1 805.1h0M233.7 799.2h0M230.5 799.7h0M122.8 804h0M144.3 806h0M231.6 799.2h0M218.1 805.2h0M117.5 799.5h0M186.5 809.7h0M221.5 805.2h0M224.4 800.5h0M111.7 800.2h0M200.2 809h0M196.3 808.4h0M263.1 798.2h0M193.6 811.2h0M96.5 799.5h0M177.8 810.1h0M192.6 808.8h0M278.1 799h0M281.3 795.5h0M297.8 796.1h0M300.9 792.9h0M320.3 782.2h0M283.6 794.6h0M296.3 801h0M274.4 804.9h0M309.3 793.6h0M274 803.1h0M293.6 797.3h0M310.2 792.2h0M279.4 807.9h0M274.3 803.9h0M298.8 792.9h0M284.4 799.6h0M304.6 787.5h0M292.4 790.5h0M277.6 798.6h0M311.4 783.3h0M288 792.1h0M285.8 798.6h0M274.8 806h0M295 788.9h0M285.6 804.9h0M310.4 790h0M311.4 786.5h0M282.4 798.8h0M289.7 792.2h0M277.5 801.1h0M283.1 803.7h0M290.3 799.9h0M290 797.2h0M306.6 784.4h0M279.2 799.3h0M274.3 799.9h0M311.3 788.7h0M292.8 798.2h0M309.4 787.8h0M303.7 790.9h0M286.3 795.1h0M297.2 789.6h0M315.9 785.3h0M286.3 804.9h0M302.2 791.3h0M277.1 806.9h0M311.8 787.2h0M300 792.4h0M311.6 790.2h0M289.3 798h0M301.7 795.8h0M292.5 800.1h0M316.5 783.8h0M283.7 793.6h0M293.7 799h0M284.8 795.1h0M294 790.6h0M273.7 808.8h0M279.4 806.1h0M299.1 795h0M297 792.8h0M305.6 796.3h0M311.1 786.3h0M287.1 792.9h0M294.4 792.6h0M282.2 794.9h0M295.8 798.4h0M290.6 792.8h0M320.5 782.9h0M280.3 804.3h0M285.4 797.6h0M288.4 799.5h0M304.6 786.2h0M322.7 781.8h0M279.4 798.1h0M305.3 789.6h0M291.1 790.5h0M300.7 796.9h0M275.3 800.3h0M279.3 797.6h0M292.9 792.8h0M282 800.2h0M291.8 797.5h0M277.2 802.6h0M310.1 789.2h0M307.8 785.1h0M303.2 796.9h0M285.4 795.8h0M297.9 800.2h0M283.9 799.9h0M282.6 796.1h0M312.8 789.4h0M318.4 786.7h0M289.8 791.5h0M289.5 801.1h0M297.9 795.9h0M305.9 788.5h0M300.4 796.7h0M291.3 801.2h0M276.1 807.6h0M303.6 789.6h0M322.2 785.5h0M284.4 798h0M279.4 807.2h0M302.1 786.2h0M279.8 802.3h0M278.7 799.8h0M306.2 786.2h0M286.5 798.6h0M307.9 789.5h0M293.8 801.6h0M313.5 783.6h0M321.3 786.7h0M304.8 791h0M294.4 797.4h0M321.3 785.8h0M309.7 784.2h0M298.8 798.5h0M279.5 802.7h0M309.9 786.6h0M290.6 792.6h0M298 789.6h0M274.7 803.4h0M310.3 791.6h0M278.1 807.4h0M276.2 806.4h0M309.1 794.8h0M282.6 796.9h0M314.1 793.2h0M294 789.5h0M294.9 801.2h0M300.6 788.7h0M276.9 797.5h0M307.8 786.6h0M293 792.6h0M285.1 794.1h0M277.3 803.6h0M295.5 793.5h0M278.1 796.4h0M312 784.9h0M322.6 784.1h0M282.7 797.9h0M296.6 798.9h0M276 802.8h0M281.9 804.7h0M285.6 794.1h0M289.9 793h0M277.9 803.1h0M296.9 797.4h0M300 796.9h0M292.6 798.4h0M316.9 789.1h0M275.2 803.9h0M290.4 803.2h0M309.4 790.2h0M305.7 793.1h0M293.4 789.9h0M292 795.3h0M314 793.5h0M281.6 806.7h0M308 786.5h0M288.5 798.2h0M286.7 803.9h0M277.9 797.4h0M301.6 787.2h0M312.5 787.3h0M294.7 792.2h0M283.1 805.7h0M318.6 783.6h0M314 782h0M299.4 790.5h0M289.4 797.1h0M291.2 800.9h0M310.1 786.8h0M286.9 800.7h0M282.3 802.6h0M296.9 789.9h0M281.8 797h0M275.1 802h0M302.5 790.6h0M303.7 789.8h0M300.3 793.3h0M298.3 794.7h0M305.8 785h0M276.5 805h0M283.7 804.6h0M312.3 786.5h0M314.4 785.2h0M320.2 789.6h0M273.8 799.1h0M285.7 798.4h0M306.3 795.3h0M282.8 799.1h0M316.4 784.7h0M285.1 793.7h0M292.6 794.2h0M290.9 796.3h0M289.4 793.1h0M316.6 782.2h0M284.8 801.7h0M287.8 802.6h0M294.3 800.2h0M284.7 804.5h0M277.2 805.8h0M315.7 783.8h0M308.4 787.5h0M294.8 793.8h0M288.1 800.6h0M285.6 797.5h0M277.4 807h0M296.4 795.4h0M318.3 790.8h0M299.4 788.6h0M288.1 801.6h0M277 800.6h0M285.8 796h0M281 796.2h0M275 798.4h0M282.5 800.6h0M299.2 797.4h0M310.1 793h0M305.3 786.3h0M302.5 793.9h0M300.8 789.9h0M293.8 790.7h0M284.3 794h0M286.2 792.2h0M318.5 784h0M295.4 799.8h0M273.6 802.9h0M284.5 801.6h0M316 788.7h0M294.5 795.1h0M285.2 793.8h0M274.7 806.7h0M277.1 799.4h0M305.8 792.9h0M316.1 783.8h0M290.1 800.2h0M297.4 793.1h0M277.2 807.5h0M301.4 789.7h0M319.8 787.8h0M297 798.8h0M303.9 792.6h0M298.1 789h0M307.6 795.6h0M310.4 790.2h0M297.1 790.5h0M273.4 806.7h0M302.6 797.1h0M319 787.2h0M300.8 795h0M285.9 799.6h0M274.4 804h0M300.5 794.2h0M284.7 800.1h0M273.6 802.4h0M298.8 786.9h0M287.4 795.6h0M301.7 780.2h0M257.8 780h0M276.6 787.6h0M292.2 767.2h0M274.4 784.1h0M295.8 783.7h0M282.2 786.9h0M193.3 801.3h0M187.1 783.3h0M180.5 796.2h0M313 779.5h0M211.6 794.1h0M254.2 782.8h0M294.2 780h0M311.1 768.8h0M162.3 805h0M235.4 799.2h0M119.5 791.9h0M192.8 790.1h0M133.7 790.8h0M272.9 783.9h0M321.6 773.5h0M291.4 784.2h0M146.9 803.9h0M271.8 789.3h0M139.7 792.2h0M208 784.3h0M130 804.4h0M212.5 796.4h0M115.6 800.4h0M100.8 798.6h0M316.2 780.2h0M279.3 788.4h0M156.9 787.3h0M218.3 793h0M145.8 787.1h0M176.3 799.1h0M211 799.7h0M136.4 800.5h0M92.5 797h0M232.6 789h0M283.3 766.7h0M175.4 781.5h0M139.1 798.8h0M189.9 802.9h0M162.8 807.8h0M207.7 787.8h0M152.7 801.9h0M144.4 785.9h0M137.8 792.4h0M296.7 783.1h0M281.5 793.7h0M170.1 783.7h0M309.7 777.6h0M203.7 798.8h0M295.3 786.5h0M297.1 787.9h0M200.6 808h0M161.8 804.7h0M218.7 791.7h0M202.9 803.4h0M304.3 783h0M194.3 788.4h0M265.4 788.1h0M202.6 802.1h0M173.4 809.9h0M286.8 793h0M200.8 804.3h0M105 795.9h0M252.1 795.5h0M257.9 785.9h0M134.6 802h0M147.3 800.9h0M290 787.1h0M246.6 793.5h0M318.1 766.9h0M163.2 790.1h0M208.9 791.6h0M111.2 799.6h0M146.7 791.2h0M188 794.5h0M225.6 801.9h0M305.4 773.2h0M219.2 791.9h0M280.6 781.9h0M149.1 802.1h0M299.3 776.3h0M170.2 805.5h0M202.5 806h0M330 784.9h0M281.8 775h0M128.4 793h0M239.3 794.8h0M205.9 801.6h0M134.3 786.9h0M110.7 794.7h0M141.3 798h0M251.7 788.7h0M219.3 794.8h0M205.9 804.4h0M229 790.9h0M208.7 806.6h0M102.1 799.3h0M274.9 785.3h0M238.9 797.8h0M103 795.4h0M298.8 774.4h0M255.5 799.3h0M209.6 804.5h0M152.2 785.3h0M168.1 797.3h0M181.2 808.3h0M186.6 785.1h0M227.8 792.9h0M324.1 779.4h0M159.1 797.9h0M323.7 779h0M251.9 791.8h0M172.6 806.7h0M270.7 776.8h0M297.3 763.6h0M194 791.8h0M279.6 768.1h0M211.6 797h0M172.3 807.5h0M135 797.2h0M126.7 794.9h0M194.3 805.9h0M317.8 779.9h0M259.1 784.6h0M241.7 785.6h0M158.1 792.7h0M287.5 772.2h0M165.5 789.4h0M208 803h0M182.8 782.1h0M200.8 786.7h0M261.4 788.4h0M294.2 785.1h0M139.2 786.1h0M128 803.3h0M199.2 805.6h0M291.4 779.7h0M283.9 788.8h0M140 793.5h0M258 779.7h0M192.5 792.1h0M266.1 776.6h0M269.6 780.4h0M251.4 799.2h0M106.4 791.8h0M226.8 800.4h0M290.1 783.5h0M184.1 784.6h0M176 792.7h0M236.5 791.3h0M193.7 786.6h0M194.9 802h0M218.7 793.3h0M204.9 795.3h0M277.5 795.1h0M283.5 793.4h0M320.4 774h0M260.3 794.6h0M294.5 777.9h0M207.5 794.6h0M224 802.1h0M221.6 801.5h0M269.3 793.9h0M188.7 784.4h0M293.1 779.7h0M272 787.9h0M181.6 804.3h0M257.5 788.1h0M214.2 798.8h0M180.9 798.8h0M199.9 785h0M132.5 788.5h0M161.9 796.8h0M173.4 804.3h0M260 793.9h0M185.8 797.7h0M193.2 806.1h0M233.6 796.5h0M230.1 791.3h0M184.4 782.1h0M205.9 803.9h0M273.6 785.5h0M325.1 779.2h0M95.5 795.3h0M300.6 776.7h0M146.3 804.6h0M293.7 782.9h0M316 776.4h0M222.2 800.8h0M289.7 788.7h0M259 796.4h0M310.1 766.8h0M225.8 796.2h0M176.1 804.5h0M122.6 790h0M321.9 782h0M144.3 785.2h0M188.2 782.4h0M321 780.8h0M237.6 791.7h0M218.4 791.4h0M302.1 768.2h0M241.4 795.3h0M184.4 800.5h0M189.4 806.9h0M311.2 774.4h0M187.5 809.2h0M215.6 790.4h0M293.2 779h0M263.4 792.5h0M286.5 791h0M276.3 783.8h0M190.2 800.8h0M199.4 798.1h0M208.4 803.4h0M166.2 787.6h0M234.5 789.3h0M215.2 803.8h0M151 786.8h0M169.5 793h0M279.6 797.3h0M277 800.1h0M261.9 779.5h0M291.1 778.1h0M177.9 809.4h0M316.2 770.3h0M276.2 785.6h0M263.1 781.6h0M165.7 796.5h0M112.9 794.7h0M182.4 806.2h0M146.8 789.4h0M134.7 794.2h0M275.5 773.5h0M283.2 787.1h0M309.6 763.1h0M177.1 788.3h0M192.4 790.7h0M153.9 783.8h0M192.4 786.6h0M152.7 803.6h0M307.5 783.3h0M258.5 790.9h0M272.6 803.4h0M234.4 792.8h0M163.4 787.8h0M122.7 800.4h0M165.8 801.2h0M162.7 792.2h0M133.5 801.4h0M200.4 803.6h0M245.4 793.1h0M202.6 784.8h0M157.6 799.3h0M179 790.2h0M281.9 767h0M131.4 801.8h0M154.3 803.9h0M149 800.2h0M271.7 780h0M135.5 798.2h0M93.7 788.6h0M195.5 809.5h0M211.8 786.8h0M286.6 784h0M228.4 797.8h0M264 796.7h0M262.2 792.5h0M126.6 797.2h0M154.3 798.3h0M123 800.8h0M137.7 787.2h0M188.5 783.6h0M262.5 797.6h0M296.7 772.6h0M326 783h0M233.3 795.9h0M244 793.1h0M270.7 787.8h0M269.6 799.4h0M132.5 802.3h0M121 796.2h0M159.3 796.5h0M203.9 799.1h0M203.5 800.4h0M183.4 787h0M161.5 793.7h0M193.2 794.2h0M235.7 793.9h0M293.3 772.6h0M258.6 780.2h0M276.5 774.9h0M203.9 793h0M142.2 791.5h0M216 799.6h0M153.1 802.1h0M153.7 803.2h0M103 788.8h0M189.5 794.8h0M207.6 799.5h0M303.3 782.3h0M289.8 786.4h0M132.4 799.5h0M264.8 796.6h0M197.1 809.4h0M263.7 792.9h0M261 778.9h0M302.5 775.5h0M240.3 797.8h0M158.6 792.2h0M225.2 798.6h0M211.1 798.9h0M313.8 775.6h0M326.4 782.1h0M148.4 785.1h0M271.9 791.2h0M179.7 780.1h0M98.1 795h0M191.6 781.7h0M286.8 779.8h0M264 795.6h0M237.3 789.9h0M290.8 786.7h0M246 794.6h0M187.5 787.9h0M190.6 781.1h0M166.8 803.8h0M284.1 792h0M179.7 790.2h0M182.2 803.9h0M218.6 803.6h0M295.7 771.7h0M245.7 797.8h0M145.7 798.9h0M192.5 797.3h0M147.1 795.4h0M179.2 792h0M287.6 780.1h0M287.8 771.5h0M135.5 794.6h0M235.8 790.6h0M235.5 798.9h0M203.2 800.5h0M196.4 807.6h0M168.2 791h0M141.1 801.5h0M301.1 784.5h0M296.9 765.4h0M257.7 778.8h0M162.8 802.9h0M169.2 788.9h0M259.9 796.7h0M180.7 800.4h0M326.4 783.4h0M285.4 780.8h0M288.5 787.3h0M170.6 780.9h0M155.9 804.3h0M275.6 775.5h0M107.7 794.7h0M123.5 794.9h0M313.6 772.8h0M203.1 805.8h0M178.9 782.8h0M289.7 768.7h0M291.1 781.9h0M164.3 788.3h0M224.2 801.9h0M142.6 798h0M132.6 796.9h0M168.5 807.4h0M256.6 796.4h0M154.6 797.2h0M286.2 768.5h0M194.3 807.4h0M176.1 805.9h0M241.9 799.2h0M148.6 803.3h0M92.5 795.2h0M282.4 768.9h0M192.6 809h0M202.1 808.1h0M257.8 792.4h0M266.1 789.8h0M138.6 786.2h0M153.9 804.6h0M92.5 792.6h0M201 790.4h0M275.3 788.5h0M182.3 782.3h0M155.4 795.6h0M139.5 796.1h0M158.8 790.4h0M113.5 796h0M218.6 799.8h0M302.2 761.2h0M271.8 790h0M269.1 779.7h0M184.6 804.6h0M263.7 787.1h0M185.2 810.1h0M278.9 786.7h0M299.9 773.1h0M301.2 786.3h0M180.6 794.2h0M189 784.9h0M211.5 790.6h0M308.3 771.6h0M278.2 782.2h0M249.4 787.4h0M266.1 787.2h0M133.5 803.1h0M138.8 792.5h0M173.1 800.2h0M263.8 775.2h0M183.9 796h0M300.9 782.7h0M157.1 805.6h0M153.9 781.2h0M156.5 804.8h0M148.2 793.3h0M306.1 784.4h0M284.9 782.8h0M321.5 779.5h0M172.5 794.3h0M257.3 777.8h0M276.2 788.6h0M253 793.3h0M195.6 802.5h0M106.5 797.5h0M248.9 799.4h0M272.5 801.4h0M259.8 785.6h0M229.5 789.5h0M119.4 792.6h0M130.9 788h0M143.6 796.1h0M301.3 767.6h0M236.3 798h0M268.4 785.5h0M318.4 774.5h0M101.3 796.6h0M272 790.5h0M165.9 793.8h0M252.4 787.9h0M212.8 786.9h0M190.7 793h0M178.9 800.1h0M188.7 800.5h0M116.9 799.4h0M179.7 808.1h0M273.1 785.9h0M207.2 789.3h0M98.7 790.5h0M229.8 791.1h0M168.5 781.6h0M166.3 781.5h0M284.6 767h0M168.3 801.7h0M270.9 772.2h0M196.1 804.2h0M150.9 803.8h0M268 781.8h0M292.1 785.8h0M126.5 802.7h0M253.2 797.4h0M308.1 760.6h0M155.1 798.7h0M113.3 794.6h0M303.5 777.7h0M145 801.9h0M264.9 788.6h0M174.7 798.6h0M265.7 777.7h0M147.3 784.6h0M188.5 780.5h0M216.1 800.6h0M287.2 787.2h0M159.7 805h0M154.1 783.7h0M184.5 809.9h0M106.8 799.2h0M278.8 791.4h0M124.5 796.4h0M188.2 791.4h0M204.5 806.3h0M205.7 801.9h0M217.9 789.7h0M233.4 798.1h0M187.2 792.5h0M199.3 796.6h0M139.7 800.1h0M166 807.6h0M200.2 803h0M308.1 783.2h0M133.4 793.6h0M330.6 785.1h0M292 768.7h0M106.5 800h0M99.5 794.2h0M271.4 775.8h0M239.3 785.9h0M184.3 783.9h0M191.8 798.8h0M282 789.5h0M294.6 778h0M247.8 797.9h0M254.5 783.4h0M283.9 784.7h0M251.8 797.5h0M209.1 790.4h0M231.5 787.6h0M154 802.4h0M141.3 802.3h0M219.1 800h0M200 789.9h0M127.9 801h0M184.4 808.1h0M289.6 784.5h0M214.4 786.7h0M118.5 799.3h0M277.8 798.6h0M300.2 770.7h0M188.2 782.4h0M208.6 801.5h0M273.6 797.3h0M239.1 796.7h0M110.4 797.9h0M308.3 772.3h0M170.8 807.3h0M305.3 784.2h0M286.6 788.9h0M132.9 801.5h0M166 798.4h0M256.2 791h0M285.3 774.6h0M242.2 787.4h0M319.3 782.3h0M166.9 787h0M278.2 793.7h0M231.4 796.6h0M220.9 799.8h0M167.1 801.4h0M112.2 792.9h0M296.3 783h0M183.4 803h0M173.2 795.8h0M100.4 791.4h0M287.1 776h0M132.3 798.9h0M311.8 779.4h0M177.8 810.6h0M133 803.7h0M305.8 764.4h0M194 787.5h0M186.9 782.1h0M238.8 796.7h0M120 798.7h0M231.3 789.8h0M302.1 762.5h0M178.5 808.5h0M305.6 784h0M208 805.5h0M194 792.7h0M251.3 799.5h0M93.4 791.5h0M207.4 789.2h0M208.4 798.4h0M176.8 806.4h0M296.6 776.5h0M172.6 793.4h0M220 795.1h0M248.8 797.3h0M270.1 782.7h0M164.1 808h0M192.8 798.9h0M179 790.8h0M292.1 771.9h0M267.7 801.3h0M165 804.7h0M176.1 789.7h0M102.6 789.1h0M317 773.8h0M224.3 800.1h0M189.6 790.3h0M157 803.9h0M199.5 794.2h0M267.7 774.4h0M307.2 765.1h0M285.7 786.4h0M170.4 793.3h0M287.1 791.5h0M271.1 783.4h0M225.8 801.3h0M180.2 790.3h0M218.1 800.5h0M109.4 797.3h0M206.6 795.1h0M273.1 791.8h0M288.8 781.2h0M159.7 804.1h0M164.4 782.7h0M221.6 797.3h0M199.8 796.9h0M161.1 793.4h0M112.4 798.1h0M235.8 799.1h0M154.3 793.7h0M201 807.4h0M283.5 779.2h0M274.5 802.6h0M123.2 795h0M306.3 763.5h0M130.1 804.1h0M207.2 805.9h0M165.5 787.7h0M278.4 794.5h0M278.5 772.7h0M310.3 774.9h0M203.2 798.7h0M262.5 797.5h0M266.7 792.5h0M158.5 804.6h0M109.7 800.5h0M118.7 800.8h0M184.5 799.1h0M153.7 799.1h0M282.8 781.2h0M198.7 786.6h0M223.3 801.1h0M183.9 792.2h0M209.1 804.2h0M165 807h0M103.2 790.2h0M292.9 773.8h0M306.2 781.7h0M140.4 791.1h0M207.2 796h0M239 788.9h0M159.3 782.8h0M168.6 792h0M165.7 802.5h0M212.4 791.1h0M286 770.9h0M304.3 765.1h0M142.6 790h0M301.2 777.1h0M277.3 793.4h0M192.1 799h0M190.6 807.8h0M292.6 785.3h0M167.6 808.6h0M167.6 778.6h0M134.8 802.3h0M150.6 800.3h0M138.3 795.7h0M312.9 782.8h0M125.9 789.9h0M189.1 805.5h0M248.7 788.6h0M301.3 776.1h0M233.8 800.2h0M317.5 779.2h0M171.7 781.8h0M305.6 766.2h0M268.5 790.4h0M271.3 779.7h0M109.3 792.9h0M133.7 793.8h0M169.3 797h0M175.3 793.7h0M220.8 802.7h0M170.9 778.7h0M169.9 790.9h0M141.4 802.6h0M148.8 793.4h0M169.1 795.6h0M151.8 798.5h0M99.2 797h0M158 780.5h0M109.9 799.1h0M200 784.8h0M278.8 791.8h0M205.8 786.2h0M228.4 799.7h0M211.1 784.7h0M202.4 788.5h0M174 806.3h0M245.9 787h0M295.4 776h0M279.4 769.9h0M174.3 800.2h0M92.7 788.6h0M273.1 803.6h0M120.2 798.4h0M277.6 791.2h0M292.2 777.2h0M196.8 799.3h0M176.3 791.9h0M254.3 786.8h0M183.3 802.5h0M196.9 792.5h0M109 799h0M304.1 773.4h0M262 790h0M275.9 793.6h0M177.1 803.4h0M178.6 790h0M187.6 800.2h0M173.3 805.9h0M249 797.5h0M180.4 810.5h0M226.5 787h0M204.3 787.8h0M262.9 791h0M283 794.2h0M256 787.3h0M201.4 806.3h0M201.7 796h0M260.6 799.1h0M244 786.5h0M234.1 787.4h0M146.6 800.6h0M176.1 802.7h0M252.9 782.1h0M211.6 806.3h0M159.5 798.8h0M291.5 768.7h0M144.9 796.8h0M153.9 798.1h0M322.9 775.3h0M148.5 789.6h0M284.7 781.5h0M153.7 805.1h0M240.7 793.2h0M281.2 775.9h0M189 806.5h0M202.6 797.4h0M138.2 788.7h0M203.8 794.6h0M99.3 789.3h0M218.9 795.8h0M97.6 792.3h0M192.3 798.6h0M193.5 808.1h0M100.4 795.9h0M206.5 804.8h0M281 773.9h0M201.9 795.8h0M281.6 796.5h0M135 796.5h0M141.5 793.7h0M214.1 793.3h0M138.6 798.9h0M302.9 770.8h0M121.4 797.7h0M150.6 796.8h0M216.1 804.5h0M278.7 772.2h0M265.1 800h0M286.6 791.7h0M255.2 794.1h0M110.2 799.6h0M127.1 797.7h0M185.7 801.4h0M327.9 781.4h0M141 789.1h0M228.9 792h0M177.3 805.4h0M121.2 801h0M261.7 777.7h0M272.4 780.5h0M198 786.5h0M292.7 785h0M149.1 804.4h0M212.9 800.7h0M92.6 792.9h0M99.5 791.1h0M281.3 783.5h0M289.8 786.5h0M169.3 798.2h0M145.9 798.4h0M207.8 783.4h0M293.1 786.2h0M212.1 802.2h0M182.4 806.6h0M137.3 803.2h0M139.4 804.5h0M296.1 763.4h0M130.3 801.9h0M259.6 797.5h0M124.4 789.3h0M316.5 773.1h0M222.9 802.1h0M113.8 799.7h0M172.4 809.8h0M314.1 770.1h0M223.3 796.5h0M246.5 794.5h0M314.5 765.3h0M185.9 799.8h0M310.1 774.7h0M230 801h0M304.5 769.5h0M288.5 790.3h0M282.1 777.2h0M208 787.4h0M116.9 794.3h0M206.4 798.3h0M324 783.7h0M212.3 792.3h0M211.4 802.5h0M178.5 789.8h0M321 776.9h0M211 790.8h0M217.3 788.6h0M134.9 792.2h0M320.5 778.2h0M242.5 787.9h0M245.5 787.1h0M279.6 792h0M226.2 797.4h0M284.3 790.2h0M133.9 801h0M283 789.6h0M152.1 795.8h0M291.6 785.5h0M105.8 793.7h0M162 784.6h0M218.2 798.6h0M296 770.8h0M192.6 804.8h0M113.3 791h0M308.2 782.4h0M298.2 784h0M266.3 779.4h0M282.2 797.1h0M164.2 790.4h0M140.2 788.4h0M184.7 806.3h0M247.6 795.2h0M284.6 770.4h0M93.7 797.9h0M192.4 795.9h0M123.4 799.2h0M173 783.8h0M256.3 796.5h0M224.4 799.8h0M227.1 794.9h0M273 788.2h0M179.8 808.8h0M279.5 792.4h0M254.4 787.5h0M273 787.9h0M269.1 786.1h0M269.9 795.9h0M172.2 796.4h0M300.4 784h0M307.6 769.7h0M167.8 779.8h0M197.7 808.9h0M219.8 793.7h0M175.2 781.1h0M179.4 805.8h0M285.3 769.3h0M140.1 793.5h0M219.9 797.4h0M183.8 797h0M267.9 793.2h0M190.8 783.2h0M255 798.9h0M183 801h0M300.4 762.5h0M226.3 792.8h0M192.5 780.7h0M304.4 763.5h0M304.8 778.4h0M169.6 809.1h0M248.1 797.5h0M312 767h0M113.7 791.8h0M195.6 806h0M223.9 798.5h0M208 804.2h0M317.1 780.3h0M161.6 805.6h0M133.3 791h0M272.5 795.9h0M129.3 803.1h0M197.4 799.2h0M141.5 804.4h0M320 776.4h0M248.7 784.8h0M181.1 797.5h0M243.6 786.2h0M174.2 804.6h0M211.3 797.9h0M283.1 771.3h0M93.5 789.1h0M207.9 801h0M275.6 797.6h0M135.5 795.7h0M301.8 771.9h0M165.4 787.9h0M217.4 796.9h0M221.6 791.9h0M179.8 781.2h0M131.8 792.1h0M123.7 794.6h0M264.7 795.9h0M146.3 794.7h0M167.2 798.1h0M307.3 775.5h0M282.7 788.8h0M278.8 795.8h0M199.9 801.3h0M156.5 783.6h0M130.1 803.1h0M200.9 804h0M104.2 789.6h0M285.5 792.8h0M238.1 789.1h0M186.2 804.6h0M275.2 788.1h0M268.2 791.8h0M93.7 792.1h0M145.3 788.6h0M118.1 789.5h0M201.4 792.7h0M294.3 766.1h0M294.1 778.8h0M185.3 787.5h0M304.7 772.6h0M263.2 788.7h0M264.1 792.4h0M168.8 790.3h0M275.3 791.9h0M303.5 780h0M94.1 791.3h0M114.4 790.8h0M294.3 784h0M321.6 782.8h0M190.7 806.9h0M192.3 789.3h0M230.4 792.2h0M259.7 796.4h0M257.1 798.3h0M208.6 803.7h0M280.9 775.6h0M125.2 798h0M171.3 796.2h0M145.2 798.9h0M213 802.3h0M152.3 793.7h0M161 798.4h0M216 791.5h0M131.1 800.2h0M166.2 796.6h0M269.3 787.8h0M240.7 792.2h0M278.6 793.1h0M253.9 783.7h0M185.6 787h0M280.4 793.1h0M232.1 796.1h0M178.8 779.9h0M247.1 797.6h0M248.4 791.6h0M181.4 807.5h0M276.3 784.3h0M283.4 784.9h0M136.5 801.3h0M139.5 785.6h0M116.6 795.5h0M300.9 782.6h0M261.5 778h0M123.4 794.4h0M317.2 776.8h0M223.2 801.7h0M301.6 777.3h0M176.4 782h0M181.2 795.8h0M158.6 779.8h0M152.4 785.6h0M295.5 781.7h0M221.5 792.7h0M315.9 772.6h0M164.4 783.9h0M174.1 793.4h0M229.3 799h0M311.2 766.6h0M265.4 793.8h0M222.2 799.8h0M185 787.6h0M293.6 775.8h0M265.3 783.9h0M208.6 806.3h0M128.8 800h0M303 786.2h0M266.4 787.7h0M148.2 804.8h0M260.5 783.7h0M298.2 769.8h0M291.5 779.6h0M191.8 796.8h0M229.2 795.2h0M191.9 801.7h0M270.2 800.7h0M293.3 763.5h0M249.2 796.8h0M281.3 795.6h0M314.3 772.3h0M165 790.2h0M179.6 783.5h0M304.5 782.6h0M255.3 790.3h0M219.1 800.5h0M328.9 784.7h0M277 789.7h0M152.3 802.5h0M282.1 770.5h0M100.2 787.2h0M248.8 786.6h0M125.8 799.9h0M108.4 796.4h0M226 794.6h0M188.7 791.9h0M317.5 771.7h0M170.2 809.3h0M244.1 785.7h0M277.9 783.1h0M296.9 768.4h0M298.8 775.7h0M167.5 798.8h0M167.3 790.4h0M275 783.8h0M286.1 783h0M216.3 786.3h0M155.6 799.6h0M206.9 790.4h0M225 801.9h0M279.5 774.4h0M275.6 776h0M204.8 793.8h0M275.4 789.5h0M323.4 780.3h0M166.7 803.6h0M223.2 800.2h0M292 779.6h0M278.9 775.3h0M137.8 803.1h0M128.5 797.6h0M231.1 797.5h0M116.9 801.8h0M126.2 788.1h0M157.1 791.1h0M278.9 790.4h0M166.3 806.6h0M158.9 797h0M275.4 790.7h0M191.5 786.1h0M180.8 787.7h0M274.4 784.8h0M279.5 793.5h0M307.2 777h0M190.1 801.8h0M168.8 794h0M273.2 789.7h0M259.7 776.6h0M287 769.2h0M193.9 809.7h0M197.7 806.3h0M105.7 792.5h0M268.4 783.4h0M319.3 781.8h0M259.1 790.1h0M284.3 775.6h0M269.4 786.6h0M290.9 787.6h0M215.2 795.7h0M110.6 800.8h0M233.5 797.1h0M295.8 766.8h0M100.2 794.4h0M247.3 793.6h0M116 797.3h0M307.3 780.5h0M213 795.2h0M167.6 786.6h0M213.5 805.8h0M197.8 802.6h0M168.8 804.8h0M212.7 803.8h0M201.9 785.3h0M273.2 777.7h0M269.1 789.3h0M232 792.6h0M293.7 768.7h0M113.4 797.2h0M280.1 793h0M268.3 795.7h0M153.1 790.7h0M251.3 790.7h0M181.3 804.4h0M264 799h0M94.9 790.5h0M99.9 793.3h0M219.9 795.2h0M229.8 793.8h0M123.2 791.1h0M135.3 791.5h0M246.9 790.1h0M255.1 794.6h0M235.2 798.4h0M151.2 793.7h0M243.5 785.5h0M226.9 797.8h0M203.4 782.2h0M273.9 777.4h0M291.8 769.1h0M238.6 793.8h0M159.7 783.6h0M163.6 793.5h0M283.1 768.4h0M149.3 783.6h0M287.5 765.1h0M151.4 799.2h0M161.5 798.6h0M138.2 801.5h0M305.4 782h0M240.4 787.1h0M271 787.3h0M316.3 781h0M175.2 804.1h0M122.8 802.7h0M305.9 777.7h0M274.2 786.2h0M289.2 780.9h0M140.9 801.5h0M305.9 781.1h0M278.2 788.5h0M276 787.7h0M176.7 807.3h0M173.1 786.5h0M312.4 779h0M166.9 799.9h0M170.1 793.2h0M194.7 795.7h0M239.3 798.3h0M181.3 802.6h0M256.9 798.4h0M176 781.5h0M211.1 800.1h0M220.7 791.6h0M171 797h0M195.7 790.2h0M299.1 778.6h0M306.2 776.5h0M161.7 794.8h0M319.8 775.9h0M208.2 797.9h0M315.4 774.3h0M193.2 801.2h0M152.7 804.7h0M198.9 783h0M305.6 779.8h0M304.7 783.2h0M123.2 795.8h0M266.9 797h0M239.7 785.9h0M122.8 798.6h0M168.2 781h0M299.7 779.9h0M160 788.6h0M275.6 774.5h0M272.7 803.8h0M195.1 809.7h0M154.5 797.2h0M301.5 762.9h0M146.4 790.6h0M134.1 802.2h0M206.8 795.8h0M187 791.3h0M262.9 791.2h0M306.2 780.5h0M272.5 790.1h0M256.7 789.6h0M206.4 807.6h0M141.8 796.4h0M160.8 795h0M307.4 780.8h0M257.4 785.6h0M202.8 785.4h0M168.6 793.3h0M247.3 794.2h0M215.8 802.3h0M150.8 786.1h0M273.8 782.2h0M161.2 800.9h0M207.2 783.5h0M209.8 803.9h0M269.6 796.6h0M172 783h0M268.2 798.5h0M142.4 796.1h0M119.9 796.8h0M192.5 780.2h0M195 804.5h0M156.6 804.6h0M108 797.8h0M236.6 796h0M109.5 798.4h0M169.3 790.5h0M247.4 787.3h0M144.7 799.3h0M277.3 792.8h0M276.2 776.5h0M224 796.5h0M214.8 787.4h0M313.5 763.3h0M120.1 796.1h0M174.1 802.3h0M236.5 796.3h0M124.2 800.3h0M240.1 791.3h0M157.7 802.9h0M303.7 782.5h0M212.5 801h0M186.2 801.5h0M197.7 795.2h0M164.8 781.6h0M276 775.8h0M139.6 800.3h0M249.3 787.3h0M323.5 782.8h0M270.4 786.7h0M287 775.3h0M289.7 787.8h0M318.6 774.1h0M157.5 788.6h0M316.8 780.9h0M264.5 793.7h0M238.2 794.2h0M118.6 795.6h0M241 781.5h0M235.4 768.8h0M200.5 771.5h0M278.5 766.4h0M239 784.3h0M112.1 784.4h0M285.7 762h0M267.3 765.8h0M182.2 776.3h0M173.5 772.9h0M133.8 764.1h0M138.4 772.9h0M246.8 779.5h0M94.8 767.2h0M177.5 774.2h0M215.3 769.5h0M180.2 777.2h0M158.2 776.2h0M172.8 761.2h0M189.3 763.7h0M259.2 774.9h0M238.7 770.2h0M239.3 762.3h0M97.6 766.4h0M322.7 770h0M99.2 772.3h0M270.1 759.4h0M261.2 768.4h0M200.9 767.4h0M113.1 776.8h0M239.8 764.6h0M180.2 765.3h0M118.3 786.5h0M244.5 775.8h0M212.9 783.1h0M101.5 779.4h0M232 768.4h0M268.7 769.8h0M293.4 761h0M125.7 786.4h0M284.2 758.4h0M308.8 751.7h0M147.4 781.7h0M238.5 763.3h0M262.8 764.3h0M166.9 773.6h0M95.7 773.3h0M233.9 779.4h0M207.5 777.2h0M147.1 767.9h0M223.5 776.7h0M166.9 775.2h0M229.5 786.3h0M164 770.1h0M160 775.3h0M156.5 762.1h0M121.5 772.3h0M92.5 757.6h0M96.1 775.7h0M294.5 760.7h0M317.3 762.2h0M275 769h0M203.5 773.8h0M203.8 772.7h0M102.9 781.6h0M106.3 778.2h0M257.7 773.6h0M178.9 769.8h0M329.3 779.5h0M281.3 764.1h0M203.2 779.9h0M260.1 775h0M108.6 760.5h0M297.1 752.8h0M165.1 773.6h0M225 765.8h0M232.6 783h0M319.6 762.8h0M206.8 780.1h0M253.1 772.1h0M327.1 775.8h0M244.7 773.4h0M237 765.2h0M134.7 762.6h0M276.9 755.2h0M109 772.4h0M292.3 763.2h0M188.5 777.5h0M314.2 760.3h0M95 779.7h0M139.2 777.2h0M166.4 773.2h0M170.9 774.1h0M114.7 780.4h0M154.7 776.5h0M113.4 764.6h0M128.8 774.3h0M211.4 775.1h0M138.5 781.5h0M239.1 760.6h0M330 779.5h0M208.1 770.6h0M113 780.1h0M253.2 778.8h0M107.8 775.8h0M160.7 762.8h0M252.1 770.1h0M159 777.8h0M284.1 757.3h0M271.1 754.4h0M219.1 780.7h0M168.1 772.7h0M94.5 768.2h0M205.1 775.5h0M168.2 772.1h0M295.5 758.6h0M211.5 771.9h0M103.3 784.3h0M140.9 784.1h0M95.8 768.8h0M199.2 776.8h0M105.1 774.5h0M176.2 775.2h0M234.8 783.3h0M260.3 774.2h0M194.8 769.6h0M139.2 784h0M100.4 784.2h0M100.5 764.2h0M314.5 761.4h0M226.5 774.9h0M208.6 780.3h0M274.4 764.9h0M246.1 767.3h0M251.5 771.4h0M317.9 757.8h0M302.5 759.9h0M247.5 754.9h0M209.9 777.3h0M146.4 779.9h0M93.8 782.5h0M105.9 787.3h0M313.9 759.9h0M101.5 772.5h0M184.1 761.1h0M146.3 778h0M110.9 785.2h0M131.9 777.2h0M136.1 767h0M289.7 760.7h0M183.3 778.5h0M262 770h0M262.1 766h0M177.1 771.4h0M176.7 767.6h0M115.4 785.5h0M236 776.6h0M220.5 774.5h0M133.6 778.2h0M170.7 773.6h0M308.1 758.2h0M266.6 763.2h0M211.5 770.9h0M271.1 767.3h0M259.7 774.8h0M95.9 781.5h0M94.6 772.5h0M126.3 786.2h0M169 769.1h0M104.3 774.9h0M238.8 777.9h0M222.1 783h0M327.9 779.1h0M222.8 767.8h0M103.9 771.4h0M318.5 761.1h0M97.8 783.9h0M215.4 775.8h0M131.3 784.6h0M105.4 761h0M167.3 764.5h0M251.6 765.2h0M164.8 769.5h0M261 767.5h0M257.2 772.1h0M169.9 767.7h0M249.6 780.2h0M217.1 784.2h0M213.8 779.9h0M303.6 754.5h0M246.9 760.9h0M312.5 757.8h0M234.6 784.6h0M125.1 782.3h0M187.8 773h0M316.4 753.1h0M121.1 776h0M103.7 774.3h0M223.5 778.2h0M328.2 778.2h0M92.5 774.1h0M323.6 774.4h0M153.8 770.2h0M192.4 773.6h0M117.3 785.6h0M255.7 771.2h0M325.1 769.6h0M94.9 755h0M237.3 779.4h0M238.4 769.8h0M290.4 762.6h0M179.2 767.9h0M101.8 770.1h0M241.3 782.4h0M107.5 777.9h0M185.6 774.4h0M116.7 787.3h0M200.9 773.7h0M124 782.7h0M258 769.2h0M108.9 782.6h0M243.6 779.4h0M253.9 774.8h0M189.4 769.4h0M262.8 768.2h0M228.1 784.3h0M283.2 761.4h0M215.4 781.6h0M200.9 771.6h0M175.9 777.2h0M169.7 777.4h0M276.2 758.7h0M107.3 771.5h0M159.5 774.8h0M246.8 772.4h0M274.5 764.8h0M206 780.8h0M177.3 776.9h0M229.6 784.2h0M112.7 772.7h0M117 788.2h0M97.7 773.1h0M101.9 773.7h0M255.3 766.6h0M112.1 777.7h0M186 771.8h0M219.2 778h0M146.3 779.5h0M111.2 760h0M137 782.5h0M206.1 779.4h0M124.6 777.9h0M203.5 766.2h0M237.2 781.8h0M268.9 771.6h0M163.9 770h0M99.3 776.7h0M103.7 786.9h0M145.6 774.7h0M167 766.5h0M174.4 758.9h0M283.1 762.8h0M251.3 763.5h0M141 778.6h0M124.1 782.8h0M301.1 757.2h0M288.4 759.8h0M255.5 764.1h0M198.9 777.3h0M200.6 778.7h0M224 772h0M140.5 773h0M194.6 777.8h0M120.2 787.3h0M112 779.6h0M195.8 763.9h0M145.5 782.5h0M207.5 777.7h0M241.1 778.7h0M267.6 764h0M136.7 777.3h0M144.7 778.8h0M297 756.5h0M121 777.6h0M193.7 776.2h0M241.3 758.3h0M296.5 761.2h0M218.3 770.6h0M203.3 777.8h0M117.6 777.2h0M139.3 773.1h0M103.5 761.4h0M186.5 766.3h0M97.2 780.5h0M99.9 780.1h0M109.5 778.6h0M290.5 759.7h0M283.2 764.6h0M249.9 780.7h0M201.5 766.3h0M105 784.6h0M323.8 775.3h0M279.8 757.8h0M258.5 762.7h0M312.1 754.4h0M198.5 776.3h0M96.8 770.8h0M137.9 784.1h0M180.7 770.6h0M210.2 769.6h0M245.5 777.7h0M208.5 761.9h0M216.2 784.2h0M220.5 774.2h0M141 783.9h0M242.8 769h0M257.1 752.3h0M149.8 780.4h0M198.8 766h0M139 774.9h0M287.2 762.2h0M215.2 781.8h0M271.1 763.6h0M262.2 773.2h0M323.4 775h0M249.2 780.7h0M145.7 761.5h0M260.5 767.2h0M110.6 786.2h0M205.6 774.5h0M258.6 776.1h0M238.2 781.4h0M285.9 760h0M102.7 773.6h0M269.5 760.2h0M133.2 773.2h0M151.5 771.2h0M257.8 774.8h0M144.6 771h0M223.6 780.8h0M246.3 776.1h0M263.8 767.9h0M133.9 778.9h0M300.4 760.2h0M199.7 775.3h0M312.8 760.7h0M302.6 754.7h0M94.1 772.1h0M107.8 771.6h0M138.6 770.9h0M99.6 780.8h0M118.8 783.1h0M125.1 783.8h0M281.8 763.6h0M96 781.5h0M322.7 764.9h0M128.3 771.4h0M240.1 778.6h0M108.7 783.6h0M251.2 778.1h0M199.6 775.7h0M98.3 779.1h0M119.9 780.9h0M177 764.6h0M209.6 776.5h0M205.8 773.3h0M264.1 773.7h0M95.8 776.6h0M316.2 755.7h0M110.5 779h0M169.1 770.4h0M105.5 774.3h0M106.1 765.5h0M252.3 780.8h0M268.3 763.7h0M241.3 766.5h0M201.5 776.3h0M126.4 783.3h0M162.9 768.9h0M208.9 779h0M116.4 772.8h0M205.4 770.6h0M156.6 770.5h0M175.2 773.8h0M246.4 768.8h0M321.1 768.7h0M211 771.5h0M133.8 782h0M212.8 772.1h0M132.7 779.2h0M326.2 777.5h0M219.2 776.8h0M118.7 771.9h0M217.5 774.4h0M144.8 774.5h0M142.5 783.6h0M140.8 780.9h0M157.1 772.8h0M217.6 781.5h0M134.7 771.1h0M256.8 761.5h0M192.9 775.3h0M126.9 783.9h0M100.8 778.8h0M193.4 779h0M105.3 770.5h0M247.3 784.3h0M282.2 763.1h0M95.2 779.6h0M228.6 779.1h0M140.2 784.3h0M185.1 776.9h0M147.9 778.9h0M104 785h0M166.6 761.6h0M270.4 763.8h0M114.1 773.2h0M274.1 767.1h0M258.7 773.5h0M103.9 785.6h0M97.1 772.4h0M170.5 777.2h0M139.7 772.3h0M126.8 777.1h0M231 782.1h0M263.4 759h0M237.2 784.1h0M165.1 776.3h0M207.4 774.5h0M103.7 769h0M210.2 782.3h0M271.2 763.5h0M286.3 756.8h0M110.1 788.3h0M142.4 783.2h0M95.5 771.5h0M148.5 773.9h0M195.1 776.1h0M226.6 781.4h0M150.2 774.9h0M239.1 777.7h0M98 768.9h0M263.8 766.2h0M232.6 766.8h0M112.7 783.3h0M269.8 766.7h0M137.5 765.9h0M118.6 785.6h0M303.1 753.3h0M110.2 788.6h0M111.8 769.2h0M179.2 770.7h0M174.9 772.8h0M231.1 775.1h0M257.6 772.4h0M147.2 776.4h0M199 769.3h0M317.1 755.4h0M245.1 774.3h0M247 767.8h0M311.4 761.1h0M122 780.4h0M145.8 780h0M292.6 762.4h0M259.9 771.6h0M174 763.2h0M248.1 772.8h0M218.1 767.5h0M118.8 774.1h0M308.4 758.8h0M244 756.2h0M95.3 770.6h0M139.4 783.6h0M213.2 779.4h0M137.7 774.8h0M121.3 782.6h0M100.3 779h0M216.1 785.1h0M261.9 768h0M300.3 759.6h0M93.4 770.7h0M237.6 785h0M330.6 783h0M195.5 778.6h0M219.5 778.7h0M214 783.1h0M182.4 777.3h0M172.5 774.3h0M206.8 772.5h0M302.2 756.4h0M157.3 771.5h0M117.8 781.6h0M124 775.4h0M171.8 773.3h0M216.6 774.2h0M183.2 772.5h0M214 776.7h0M321.3 763.1h0M241.2 776.8h0M92.5 758.6h0M171.1 758.8h0M226.6 785.9h0M262 774.2h0M303.1 760h0M158.6 764.7h0M282.5 765.1h0M198 774.5h0M133.7 773.5h0M115.4 785h0M137.2 781.8h0M176 774.3h0M138.4 780.2h0M241.4 781.7h0M314.8 758.9h0M94.1 778.8h0M313.6 760.5h0M94.4 775.5h0M128.8 770.5h0M173.8 763h0M121.2 786.9h0M280.7 753.3h0M134.4 773.9h0M285.4 757.2h0M206.6 773h0M113 789.2h0M234.8 778.3h0M108.4 772.5h0M168.7 770.5h0M166 756.3h0M192.5 773.3h0M224 772.7h0M317.4 755.7h0M234.2 762.3h0M95.6 777.4h0M276.6 761.5h0M209.6 778.3h0M174.2 764.7h0M245.9 780.1h0M255.8 777.3h0M155 779.5h0M195.7 776.1h0M189.4 778.2h0M213.5 771.6h0M210.7 783.2h0M163.9 769.4h0M220 784.1h0M286.1 763.8h0M136.3 785.2h0M328.8 781.4h0M206.5 773.8h0M202.8 774.6h0M112 771.8h0M121.6 781.6h0M205.8 768.3h0M104.1 775h0M206.4 769.7h0M154 772.6h0M250.2 774.3h0M205.1 781.6h0M130.3 779.1h0M186.4 745.9h0M92.5 745.5h0M223.3 762.4h0M229.5 754.3h0M212.2 753.6h0M208.2 757.5h0M196 754.4h0M202.9 754h0M281.7 750.3h0M123.6 758.9h0M125.3 754h0M130.4 760.2h0M95.7 748.8h0M229.8 751.8h0M151 753.7h0M296.7 748.4h0M149.3 753.3h0M165.8 747.3h0M171.7 750.4h0M233.1 752.7h0M215.4 742.1h0M215.3 755.2h0M128.9 756.5h0M96.5 751.3h0M101.1 755.5h0M255.6 751.2h0M101 752.8h0M260.8 751.7h0M103.9 739.1h0M95.1 743.8h0M100.3 753.5h0M239.3 751.5h0M199.7 748h0M212 753.9h0M255.3 746.1h0M249.2 745.2h0M146.7 754.6h0M187 758.3h0M97.2 730.9h0M197.5 754.4h0M203.2 752.9h0M213.6 751.3h0M228.2 760.2h0M239.9 754.3h0M212.7 749.2h0M103.5 738.7h0M217.6 758.4h0M196.9 757.7h0M274.6 744.4h0M273.6 746.9h0M160.3 754.5h0M328 767h0M131.4 758.8h0M131.7 759.7h0M247.8 751.7h0M283.4 747.3h0M183.2 758.7h0M172.3 750h0M245.6 744.8h0M99 753.6h0M254.4 746.9h0M214.8 747.2h0M147.2 752.8h0M98.5 753.6h0M95.6 747.9h0M96.8 752h0M184.6 760.2h0M223.9 754.7h0M234.6 745.7h0M273.1 751.5h0M96.9 781.9h0M95.4 756.3h0M100.1 780.8h0M97.3 772.2h0M92.5 747.1h0M95.6 793.8h0M98.7 782.9h0M95.4 783.9h0M93 788.1h0M102 797.2h0M96.7 783.3h0M101.1 770.9h0M100.7 796.4h0M98.1 776.8h0M96.2 772.6h0M95.3 768.4h0M100 789.8h0M98.2 793.7h0M98.3 772.7h0M93.8 784.6h0M96 776.5h0M93.2 752.9h0M100.4 765.1h0M100.9 770.1h0M95.2 799.4h0M101.9 762.4h0M98.9 783.8h0M96.1 793.6h0M98.4 784.7h0M101.4 791.4h0M99.9 797.5h0M96.6 785.7h0M95.5 780.3h0M95.2 761.4h0M102 774.4h0M95.6 797h0M101.6 780.7h0M97.3 796.6h0M99.4 778.1h0M96.6 790.5h0M100.6 774.8h0M96.7 798.5h0M93.8 790.3h0M101 762.1h0M99.9 766.6h0M100.3 760.8h0M95 799.2h0M94.4 798h0M95.4 761h0M96.6 775.2h0M99.2 792.6h0M94.8 758.8h0M94.5 780.7h0M96 782.6h0M97 793.3h0M96.4 777.7h0M97.9 785.4h0M99 780.7h0M93.7 791.4h0M99.9 790.7h0M95 761.5h0M95.1 791.3h0M110.7 790.7h0M103.7 772.9h0M105.6 799.6h0M107.9 798.5h0M102.6 797.5h0M94 789.8h0M104.7 788.3h0M110 778.8h0M104.8 789.4h0M94.6 792.5h0M97.8 788.3h0M104 762h0M106.5 796.3h0M111.4 794.6h0M108.4 778.6h0M101.5 759.8h0M101.4 781.5h0M96.1 793.5h0M108.6 789.4h0M93.8 768.1h0M104.1 785.8h0M99.6 797.4h0M106.5 789.2h0M104.8 797.6h0M105.5 779.5h0M100.2 790.6h0M94 790h0M93.2 777.5h0M108.5 777.4h0M92.9 784.5h0M98.2 779h0M95.6 763.7h0M95.2 790.2h0M94 789.7h0M95.4 797.3h0M104.1 798.9h0M111.3 795.4h0M100.2 791.6h0M101.4 789.3h0M111.3 776.2h0M103 790.9h0M107.6 762.9h0M102.1 789.5h0M109.6 789h0M94.2 788.7h0M95.5 780.2h0M101 793.4h0M106.6 795.5h0M110.7 787.3h0M97.7 791.8h0M95.1 785.8h0M107.6 794.8h0M100.7 773.7h0M107 798.2h0M94.2 762.5h0M99.1 787.8h0M108.5 790.8h0M98 787.4h0M105.9 772.9h0M100.1 770.2h0M106.5 775.5h0M102.6 799h0M98.6 797.3h0M97.3 787.9h0M109.8 788.9h0M101.5 776.8h0M109.2 792.7h0M95.5 789h0M98 777h0M96.1 780.3h0M98.8 773h0M102.9 794h0M102.2 792.8h0M95.2 780.1h0M93 762.5h0M106.8 788.9h0M108.3 791.5h0M105.9 792.5h0M96.9 787.8h0M106.3 789.4h0M109.4 751.7h0M107.5 739.1h0M105.5 742.4h0M111.6 762.5h0M95.2 712.5h0M99.5 759.1h0M105.3 744.8h0M93.8 758.9h0M110.4 755.8h0M107.5 741h0M97.5 752.4h0M111.4 762h0M104 753.9h0M107.9 754.2h0M103.4 740.3h0M108.6 759.8h0M101.5 756.5h0M101.2 750.4h0M101.8 748.9h0M98.9 737.5h0M114.9 758.4h0M110.9 759.6h0M100.8 748.3h0M101.6 755.6h0M99.6 760.1h0M94.7 752.3h0M101.2 749.4h0M98.2 743.7h0M102 739h0M95.1 761.5h0M104.1 740.3h0M107.2 759.4h0M95.8 759.8h0M95.6 723h0M103.5 758h0M107.6 752.2h0M95.6 753h0M103.7 752.5h0M96.3 724.5h0M97.4 755.2h0M102.9 744.4h0M104.9 730.9h0M101.3 730h0M93.3 740.1h0M95.2 741.5h0M98.4 757.3h0M110.2 757.5h0M101.6 740.7h0M107.4 734.6h0M110.4 758.4h0M106.5 757.8h0M100.6 731.6h0M94.6 747.5h0M97.1 729.3h0M103 752h0M99.3 723.6h0M104.2 754.1h0M100.6 747.2h0M95 738h0M101.6 753.5h0M103.7 738.8h0M111.8 755.2h0M99.2 734.3h0M104 755.4h0M99.3 742.2h0M107.3 758.5h0M103 734.6h0M95.2 741.4h0M106.9 755.7h0M93.6 739.7h0M93 756.5h0M93.1 754.4h0M98 746.9h0M99.9 723.8h0M103.4 754.9h0M330.7 758.1h0M335.5 747.2h0M325.4 746.1h0M323.5 755.8h0M332.5 747.7h0M323.5 751.9h0M332.9 747.9h0M330.9 747.7h0M322.6 753.1h0M331.9 749h0M327 751.7h0M322.8 752.6h0M344.2 742.9h0M344.4 744.9h0M344.7 737.6h0M344 744h0M339.9 745.8h0M346.5 745.8h0M341.2 740.3h0M344.6 739.8h0M344.4 738.1h0M344.2 735.9h0M345.6 742.4h0M349.8 740.8h0M350.2 739.3h0M383.4 731.1h0M383.3 730.7h0M388.4 738.1h0M384.4 733.4h0M388 731.9h0M416.5 717.1h0M421.6 718.2h0M420.6 718h0M419.4 715.1h0M423.2 716.3h0M419.4 716.2h0M100 699.3h0M95 711.7h0M96.7 722h0M114 724h0M98.3 733h0M106 739h0M212.3 743h0M245 740h0M351.7 751.7h0M94.2 905.8h0M94 901.5h0"/>
<path class="k" d="M824.5 799L827.3 799.5L831.7 803.3L835.5 804.5L840 806.7L841.5 808.5L845.4 809.9L849 812L852.1 814.2L853.1 816.9L856.7 817.5L860.4 817.9L861.9 821.8L864.1 823L865.2 824.8L868.6 828.4L870.9 830.1L873.3 832L874.8 833.8L878.3 834.7L880 838.3L883.7 839.2L886.9 840.9L887.7 843.8L890 845L893.6 848.6L896.3 848.7L896.8 851.3L901.5 853.1L903.7 854.5L906.7 857L908.5 859.8L911.3 860.7L913.2 861.4L918.7 863.5L921.3 865.6L923.3 867L926.7 869.5L929.2 870.9L931.4 872.1L935 875.7L935.9 878.5L940 879L942.8 881.8L946.3 882.7L947 884.8L950.6 886.2L953.6 885.7L956.7 889.5L959.1 889.6L962.1 893.5L965.7 893.7L967.6 894.7L969.5 895.9L973.3 899.5L976 901.3L979.6 902.6L981.6 905.3L985 906.5L983.3 909L980.5 911L977.3 913.8L974.8 916.3L973.3 919L969.9 921.8L967.1 923.9L965 925.7L961.4 927.5L961.3 929.3L956.7 932.3L955.6 934.7L955.3 937.4L953.6 941.9L954.3 944.9L953 948L952.8 949.8L949.5 953.5L946.9 948.5L944.8 944.7L943.5 942.5L943 938.9L940.9 935.8L939.5 932.7L936.2 929.8L934.8 927L932.6 924.1L930.2 920.4L928.4 918.3L926.4 916L924.2 912.4L922.5 908.9L919.2 909.1L917.6 904.7L915.5 903L911.9 898.9L911.1 899.1L907.6 895.8L905.9 893.1L904 889.8L903 887.8L900.5 886.6L897.1 883.9L895.7 881.5L894 878.4L892.2 877.4L890.9 874.1L888.8 872L884.9 868.9L882.5 868.6L880 866.4L877.4 864.7L874.2 862.4L871.9 858.6L868.1 858L868.4 856.3L865.1 853.6L862.2 851.8L859.1 850.1L857.6 847.4L855.2 844.7L854.9 843.5L850.8 840.4L851.2 837.9L848.8 834.9L848.1 831.5L847.1 828.4L844 826.1L843.3 825.8L840.9 822.4L840.6 820L839.9 816.4L835.3 815.2L833.3 810.8L833.1 808.8L829.9 808L830.3 804.9L826.9 801.7L825.1 799L824.2 797.4Z"/>
<path class="d" d="M967.7 839.7h0M989.7 902.7h0M929.8 859.7h0M972.2 848.5h0M886.6 809.2h0M977.9 896.7h0M949.7 852.4h0M956 888.4h0M951.1 845.7h0M896.1 841.2h0M867.2 815.8h0M871.3 818.6h0M1020.6 872h0M1060.3 878.2h0M878.2 817.4h0M883.3 808.6h0M940.4 867.7h0M1012.1 875.6h0M1022.8 883.1h0M967.8 894.1h0M1033.1 876.8h0M945.6 847.4h0M1030.2 860.4h0M896.2 845.8h0M905.1 815.4h0M1036.3 869.9h0M959.2 877.2h0M902.7 819.9h0M1032.3 885.6h0M1069 869.5h0M867.2 792.4h0M934.8 852.6h0M920.4 826.8h0M901.2 814.5h0M944.1 839h0M1050 867.3h0M911.7 846.7h0M974.2 899.9h0M1072.3 868.9h0M967.8 870.7h0M881.7 802.9h0M957.5 870.4h0M928.3 854.1h0M961 890.4h0M941.6 861.9h0M990 886.4h0M887.7 824.3h0M927.9 866.4h0M969.1 876.6h0M871.6 802.5h0M1004.7 852.8h0M917.3 843.3h0M1000.8 889.9h0M951.7 859.3h0M998.2 847.8h0M938.7 863.8h0M919.4 851.9h0M1040.5 872.6h0M997.5 900.5h0M978.6 864h0M978 889h0M1029.8 882.8h0M968.5 890.4h0M1011.4 864.7h0M1010.1 881.5h0M937.5 858.1h0M963.1 844.9h0M898 809.9h0M975.4 871.4h0M1002.7 867.4h0M1031.4 863.7h0M989.5 877.7h0M1024.1 884.7h0M905.4 830.5h0M985.5 851.1h0M875.6 833h0M1049.2 873.8h0M901.4 808.5h0M1045.5 868.3h0M904.2 843h0M871 806.7h0M911.2 829.8h0M948.3 867.1h0M1052.5 868.1h0M935.4 831.1h0M1031.2 873.2h0M870.4 801h0M893.8 823.1h0M1021.1 867.9h0M940.8 852.3h0M973 888.5h0M1073.2 870.5h0M907 840.1h0M1039.5 875.4h0M846.7 787.2h0M938.3 832h0M912.8 860.3h0M896.8 815.6h0M1008.1 884.6h0M982.4 856.3h0M983.1 851.5h0M999.3 882.7h0M926.4 856h0M938.7 873.7h0M1057 877.7h0M965.4 879.1h0M939.1 867.1h0M947.6 867.3h0M893.7 844.5h0M961.8 871.6h0M889.4 808.2h0M975.5 891.2h0M881.9 823.4h0M978.8 854.1h0M978.3 867.5h0M919.6 862.9h0M877.2 796.5h0M1022.4 875.5h0M999.1 876h0M959.9 860.1h0M967 862.8h0M974.9 847.1h0M1003.4 895.2h0M893.6 831.4h0M1048.2 866.1h0M904.3 819.5h0M908 854.8h0M960.8 851.5h0M918.4 837.3h0M1017.5 888.3h0M989.6 899.1h0M970.9 855.3h0M1002.9 894.6h0M1030.4 872.5h0M1054.2 878.1h0M977.6 884.6h0M1046.9 881.3h0M971.4 873.6h0M917.7 833.2h0M881.8 809.4h0M939.8 847.4h0M916.6 833.6h0M1061.7 868h0M965.4 865.7h0M998.2 876.8h0M975 890.4h0M952.7 882h0M995.8 861.4h0M991.2 881.8h0M948.3 873.9h0M1015.3 883.3h0M940.1 859.6h0M899 808.3h0M923.9 862.8h0M1027.4 884.9h0M963 877h0M899.3 836.6h0M976.6 871.5h0M997.5 855.5h0M909.5 846.6h0M890.9 812.5h0M933.3 873.8h0M945.7 839.5h0M882.5 837.4h0M984.8 893.5h0M890.7 815.8h0M920 825.8h0M955.5 875.9h0M1054.9 880.2h0M870.8 810.3h0M929.5 823.4h0M950.8 838.2h0M1000 869h0M884.3 829.6h0M945.5 879.7h0M959.4 843h0M880.3 835.1h0M975.4 857.4h0M942.5 836.2h0M1061.7 867.1h0M884.9 836h0M1028.1 890.3h0M916.6 863h0M901.5 809.5h0M1018.2 867.9h0M880.2 813.8h0M984.8 904.5h0M1003.1 887.8h0M863.3 820.8h0M1026.6 860.3h0M932.9 862.2h0M1010.5 892.7h0M921.7 854.2h0M910 817h0M984.6 879h0M1005.4 889.6h0M880.7 803.2h0M979.6 846.9h0M998.8 858h0M1038.7 885.6h0M1000 867.3h0M896.5 804.5h0M874.2 801h0M908.4 820.5h0M926.3 866.3h0M892.2 835.5h0M980.8 881.8h0M907.6 842.3h0M873.3 824.4h0M958.8 889.1h0M996.5 888.1h0M954.6 872.7h0M981.2 877.4h0M944.3 877.5h0M947 834h0M890.9 820.9h0M956.2 841.1h0M1006.3 894.4h0M913.4 815.9h0M975.5 877h0M962.7 886.9h0M970.5 894.3h0M891.7 820.9h0M968.8 891.2h0M947.7 832.8h0M924.6 848.6h0M859.5 797h0M1001.1 891.6h0M898.5 811.4h0M979 857.2h0M1005.1 852h0M960.3 864h0M1033.9 887.6h0M1009.4 894.4h0M1042.5 878.2h0M913.1 838.6h0M948.7 871.2h0M963.1 842.3h0M900.7 843.5h0M1011.3 855.7h0M1002.3 868.1h0M1026.7 889.5h0M982.5 864.4h0M894.4 803.1h0M1016.4 886.6h0M928.7 870.9h0M918.5 819.6h0M1054.7 867.5h0M886.9 820.8h0M945.7 862.7h0M958 861.6h0M946.1 859.9h0M1033.9 866.7h0M926.2 855h0M917 816.1h0M1005.1 886.5h0M1034.4 875h0M982.3 853.6h0M897.4 846.5h0M1045.4 865.4h0M878.9 811.2h0M962.9 885.5h0M980 903.3h0M1029 867.7h0M1020 881.1h0M983.2 861h0M919.5 828.1h0M960.5 865.5h0M1018.4 865.8h0M966.8 876.3h0M880.1 799.1h0M1005.2 876.3h0M1053.1 870.9h0M874.6 811.2h0M991 867.5h0M1053.7 875.4h0M900.4 821.3h0M981.3 901.5h0M974.6 891.3h0M919.3 846.1h0M886.7 814.3h0M991 888.8h0M911.5 859.9h0M1043 877h0M971.2 854.6h0M1063.3 872.6h0M983 843.6h0M971.6 849h0M853.5 785h0M977.4 889.5h0M930.9 846.2h0M988.2 890.5h0M891 827.2h0M915.6 831.5h0M984.9 843.6h0M979.4 859.8h0M941.4 869.5h0M889.3 804.8h0M934.2 826.6h0M1004.9 855.9h0M932.8 861.5h0M1006.4 890.8h0M930.2 849.1h0M942.7 848.9h0M900 849.8h0M954.4 856.9h0M963.7 844.2h0M906.8 825.1h0M994.2 900.2h0M1004.8 862.8h0M893.4 801.1h0M1041.9 880.5h0M914.2 836.3h0M975 863.3h0M853 783.3h0M977.5 863.2h0M967.8 895.5h0M959 877.8h0M1004.7 896.4h0M1034.5 876.9h0M1004.9 896.7h0M932.2 850.8h0M978 850h0M959.5 883.4h0M853 786.1h0M912.9 819h0M990.3 897h0M1053.5 879.5h0M944 878h0M895.6 830.5h0M890.8 834.8h0M1009.1 872.4h0M961.6 877.7h0M966.3 850.1h0M950.9 885.3h0M992.2 865.7h0M970.9 880.8h0M977.6 873.9h0M987.9 849.3h0M1024.9 886.3h0M1011.2 869.7h0M895.7 846.8h0M993.1 878.7h0M964.8 884.2h0M901.5 842.5h0M917.4 851.9h0M993.1 893h0M1054.2 877h0M897.2 831.6h0M888.7 803.2h0M1010.2 890.4h0M986.8 872.6h0M987.5 864h0M961.9 848.2h0M932 845.5h0M970.6 873.6h0M971.6 884.4h0M972.6 869.4h0M982.1 893.8h0M955.1 886.2h0M982.8 853.1h0M980.9 846h0M1002.2 862.2h0M994.3 878h0M873.4 830.5h0M866.6 805.2h0M948 877h0M987.5 874.2h0M920.4 838.3h0M993.4 886.8h0M966.3 885.8h0M879.8 832.9h0M936.7 842.4h0M926.1 821.6h0M962.7 890.1h0M964.9 844.1h0M941.4 846.2h0M1015.3 893.2h0M1023.8 879.8h0M904.4 844.4h0M999.7 895.4h0M974.3 871.7h0M886.7 821.3h0M951.9 847.3h0M1006.3 887.2h0M1016.2 855.6h0M855.7 796.4h0M982.3 869.7h0M1010.1 871h0M1020.3 893.5h0M909.9 857.6h0M891.5 829.1h0M946 853.4h0M907.4 835.6h0M1028 872h0M861.8 814.5h0M937.9 862h0M969.9 858.6h0M888.3 838.3h0M977.1 848.9h0M868.7 827.9h0M1023.9 860h0M996.8 877.2h0M968.5 847.9h0M985.6 906.6h0M905.4 810.3h0M1023.2 867.4h0M899.9 812.3h0M971.2 894.2h0M909.2 837h0M1011 868.9h0M963.6 851.7h0M938.8 836.4h0M1025.3 888.2h0M957.3 834.9h0M1011.3 891.5h0M967.2 864.8h0M960.8 854.4h0M1040.7 884.3h0M1000.7 894.6h0M996.2 853.6h0M1036.9 884.6h0M878.9 835h0M978.4 892.8h0M1005.6 899.9h0M975.9 846.6h0M994.9 856.5h0M886.6 816h0M858.9 791.1h0M1073 873.2h0M904.9 855.1h0M1035.8 881.3h0M944 870.5h0M957 879.5h0M884.1 823.6h0M927.6 868.5h0M887 832.6h0M1018.8 863.6h0M980.3 857.3h0M928.4 833.7h0M927.5 861.6h0M962.9 862h0M903.2 850.2h0M1019.9 861.8h0M813.6 780.5h0M929.4 869.3h0M964.3 856.1h0M1018.7 879.4h0M940.8 876.2h0M1001.8 868.3h0M979.1 869.9h0M1023.9 873.1h0M950.1 845h0M1057.6 866.6h0M913.9 823.6h0M1011.4 896.7h0M978.8 846.8h0M913.4 827.2h0M1000.6 885.5h0M1013.4 897.7h0M974.3 849h0M897.1 802.2h0M1010.9 889h0M941.3 833h0M918.5 838.8h0M935.5 850.4h0M1014.3 877.4h0M1014 860.9h0M988.7 892.9h0M991.3 880.9h0M970.2 839.2h0M944 835.8h0M907.7 820.7h0M930.1 829.6h0M884.3 798h0M895.4 824.7h0M860.6 789.4h0M936.4 876.2h0M987.5 844.3h0M880 833.3h0M880.7 801.7h0M915 856.9h0M1011.1 869.4h0M881.2 827.2h0M899.1 807.7h0M976 900.4h0M990.3 853.5h0M987.4 850.1h0M845.4 765.7h0M964.4 870.8h0M960 877.7h0M936.2 835.4h0M976.4 842.6h0M871.9 808.5h0M984.2 892.8h0M948.8 860.1h0M1008.2 895.1h0M1012.1 869.6h0M906.4 812.8h0M940.3 833h0M927.3 849.9h0M990.5 902.2h0M1019.9 893.4h0M917.5 844.4h0M887.6 798.4h0M975.6 887h0M996.9 882.6h0M1034 872.6h0M972.6 859.9h0M874.9 808.5h0M979.7 871.9h0M933.7 838.8h0M978.3 863.8h0M874.2 808.4h0M986.3 855h0M985.1 899.5h0M909.2 855.9h0M976.3 876.3h0M877.1 798.4h0M901.6 851.6h0M914.4 837.7h0M972 862.6h0M950.8 858.1h0M891.5 813.8h0M940 832.7h0M962.1 850.8h0M972.5 852.5h0M936.5 831.6h0M935.4 845.5h0M1045.3 879.9h0M955.3 843.9h0M1040.6 884.1h0M1062.3 878h0M881.8 813.2h0M993.6 899.7h0M962.1 839.8h0M946 844.2h0M994.9 876.5h0M938.2 845.9h0M1034.3 867h0M925.7 865.4h0M959.4 849.9h0M880.7 826.8h0M897.6 815.5h0M984.4 882.5h0M870.7 826.2h0M950.8 885.6h0M944.7 836.5h0M959.8 843.3h0M965 872.6h0M925.3 844.2h0M983.6 853.4h0M920.6 826h0M979.6 844h0M900.9 817h0M867.5 795.3h0M914.9 844.6h0M951.4 882.5h0M994 849.6h0M921.3 825h0M892.2 828.7h0M952.7 838h0M929.8 842.2h0M954.1 885.7h0M981.7 886.9h0M981 898.2h0M1030 889.7h0M988.7 875.4h0M869.9 823.3h0M959.6 857.7h0M995.3 866.4h0M905.3 844.8h0M973.5 894.9h0M900.8 819.2h0M1034.6 870.4h0M963.4 851.5h0M1037.8 881.7h0M899.9 821.6h0M1000.1 892h0M1034.6 865.7h0M975.7 850.5h0M896.9 848h0M987.2 847.3h0M917 820.3h0M985.2 870h0M1004.5 880.1h0M914.2 841.5h0M885.8 808.5h0M1049.7 874.6h0M1030 881.1h0M965 889.7h0M823.9 790.7h0M962 889.3h0M1019.1 894.9h0M1007.7 879.2h0M1036.7 872.1h0M1050.5 872.8h0M995.2 897h0M1001.1 871.5h0M1062.5 873.7h0M921.1 851.2h0M1011.2 886.4h0M892 816.2h0M1045.5 880.5h0M879 836.3h0M1042.4 879.8h0M903.6 835.9h0M871.5 808.8h0M839.8 794.7h0M1007.5 890.7h0M960.1 885.9h0M914.9 857.5h0M991.4 851.4h0M964.3 884.9h0M889.3 802.7h0M907.5 827h0M1009.8 889.9h0M912.2 840.8h0M957.9 845.8h0M958.7 864.3h0M899.4 835.6h0M987.3 887h0M892.5 845.7h0M975.9 844.3h0M956.5 873.7h0M893.7 832.5h0M965.2 852.1h0M986.8 861.3h0M1009.7 886h0M961 843.8h0M973.8 878.6h0M894.2 830.3h0M1054.6 874.2h0M947.3 835.4h0M973.3 886.8h0M1013.8 874.8h0M977.8 902.1h0M961.1 837.3h0M1029 890h0M976.6 884.8h0M873.6 832h0M951.8 864.9h0M1013.4 897.9h0M888.4 842.3h0M949.2 853.5h0M947.7 856.1h0M1020.3 893.2h0M952.9 857.3h0M967.3 851.7h0M1016.1 858.1h0M973.7 886.6h0M1015.5 865h0M1004.9 853.8h0M1050.7 870.5h0M891.9 805.3h0M911.6 826.7h0M951.1 852h0M1031.2 868.6h0M953.6 837h0M885.4 828h0M868.6 807.5h0M900.6 817.6h0M882.7 809.5h0M1030.2 859h0M983.9 875.6h0M965.2 838.5h0M926.6 849.3h0M862.5 816.4h0M873.2 827.7h0M921.4 862.9h0M948.1 855h0M1012 874.6h0M996.1 881.7h0M997.3 891.7h0M1006.8 883.3h0M931.9 864.5h0M943.4 843.9h0M870.1 812h0M906.3 854.9h0M958.9 868h0M953.6 861.4h0M889.7 827.8h0M867.1 815.9h0M947.7 880.1h0M898.4 826.3h0M921.2 833.1h0M1045.8 879.8h0M1026.3 868.4h0M1019.5 891.6h0M991.5 867.4h0M971 886h0M979.7 873.6h0M1019.9 891.5h0M1064.5 867.1h0M904.7 852.2h0M963 865.8h0M971.1 880.2h0M1026.5 871.3h0M880 798.6h0M1065.2 870.5h0M942.4 870.4h0M883.8 802.4h0M1038.1 879.1h0M870.5 816.7h0M882.6 801.6h0M1017.4 869.6h0M1047.3 881.1h0M867.6 798.1h0M933.6 857.6h0M933.5 826.2h0M884.4 800.1h0M956.2 857.4h0M913.8 814.2h0M985.1 890.1h0M900.7 814.2h0M974.1 850.1h0M972.5 848.1h0M927.6 849.5h0M993.8 869.1h0M927.6 862.9h0M1034.2 862.6h0M922.5 841.7h0M1006.6 882.1h0M865.7 820.6h0M1041.2 874.3h0M931.3 847.1h0M926.6 824.9h0M1046.2 875.8h0M993.3 865.1h0M947.4 878.7h0M816.3 761.3h0M974.6 846.8h0M926.5 829.6h0M919.5 855.6h0M920.5 822.9h0M991.7 903.4h0M984.7 891.1h0M992.9 862.3h0M844.8 795.2h0M1007.3 899.3h0M978.4 851.6h0M968 895.2h0M1002.6 875.8h0M901.2 810.4h0M957.1 869.6h0M871.1 810.1h0M866 805.5h0M921.8 839.5h0M956.7 840.6h0M974.9 886.3h0M931.6 850.2h0M997.1 875.4h0M842.2 765h0M970.8 846.4h0M868.9 796.2h0M902.6 849.5h0M924.1 849.4h0M985.6 851h0M1062.2 873.4h0M984.5 882.2h0M959 889.6h0M896 837.3h0M985.5 859.4h0M996 894h0M1039.7 876.7h0M885.3 808.9h0M912.9 854.9h0M887.3 815.3h0M1019.7 875.5h0M897.4 810.2h0M961.9 858.6h0M869.4 817.1h0M1025.4 888.8h0M958.6 882.7h0M903.3 828.8h0M899 831.2h0M1018.9 892.5h0M930.9 868.2h0M845.3 794h0M864 818.3h0M897.9 838.3h0M1049.5 871h0M964 837.7h0M991.9 894.9h0M965.6 865.6h0M886.2 840.9h0M968 891h0M913 829h0M1020.6 889.8h0M960.9 856.7h0M920.5 849.6h0M889.6 828.6h0M987.8 895.3h0M940.5 869.6h0M995.3 855.9h0M1027.9 864h0M1061.3 870.8h0M931.5 841.1h0M880.3 807h0M1013 853.3h0M1022.7 891.6h0M989.4 892h0M860.7 819.2h0M991.2 844.9h0M914.4 854.5h0M986.8 892.5h0M882.4 797.7h0M979.7 846.7h0M1014.5 890.7h0M1034.7 875.6h0M984.2 904.6h0M947.9 874.5h0M900 811.9h0M886.7 820.8h0M979.1 885.6h0M872.5 819.1h0M894.2 847.8h0M897.6 837.7h0M882 802h0M977.7 899.9h0M943.1 870h0M952.5 849.5h0M962.3 883.9h0M1021.3 872.3h0M845.7 779.9h0M998.2 892.9h0M996.3 889.2h0M960.7 863.9h0M980.3 901.2h0M921.1 849.6h0M1019.8 871.1h0M870.3 799.3h0M996.3 868.5h0M877.3 806.9h0M885.6 797.1h0M902.1 806h0M913.1 830.2h0M946.1 882.3h0M956.3 841.5h0M948.7 845.4h0M1023.8 865.7h0M886.2 799.9h0M1000 858.6h0M953.8 866.5h0M902.2 818.2h0M901.9 846.7h0M898.7 847.5h0M967.5 891.6h0M886.9 803.1h0M918.4 841.5h0M1045.5 881.2h0M1032.8 864.6h0M926 836h0M883.7 803.6h0M941.5 876.4h0M983.7 849.3h0M938 833.3h0M1017.2 868.9h0M1019.8 870.7h0M877.5 829.9h0M964.4 889h0M974 884.9h0M964.6 856.8h0M902.1 807.8h0M969.7 856.3h0M1028.8 886h0M995.5 861h0M1029.5 860.5h0M1007 871h0M1021.3 881h0M993.5 853.6h0M1012.3 893.8h0M982.4 864.1h0M958.6 867.8h0M1008.1 878.1h0M898.6 849.9h0M906.4 855h0M912.7 837.1h0M953.7 871.3h0M858.8 802.8h0M923 819.2h0M968.8 873.4h0M1035.4 868.6h0M955.3 871.5h0M931.5 872.8h0M902 830h0M1002 875.1h0M948.6 838.5h0M988.5 902.5h0M973.9 888.4h0M929.2 826.8h0M1072.1 873.6h0M925.7 829.9h0M950.9 832.5h0M943.3 848.9h0M942.3 857.6h0M1006.2 885.8h0M887.2 815.9h0M995.7 899h0M909.3 819.3h0M976.8 885.1h0M968.8 855.6h0M934.6 836.5h0M967.4 888.4h0M1009.2 895.6h0M952.5 878.8h0M860.8 788.2h0M1001.6 871.7h0M996 899.5h0M919.5 862.8h0M924.9 833.5h0M908.6 844.3h0M962 871h0M1057.4 873.4h0M932.7 829.8h0M1044.6 880.1h0M965.4 857.5h0M950.6 848.7h0M1072.7 869.7h0M949.3 875.7h0M912.2 824.3h0M997.7 897.1h0M1036.5 881.1h0M919.9 855.1h0M965.8 863.2h0M978.1 901h0M893.2 804.6h0M988.8 865h0M955.7 876.3h0M963 891.8h0M914.3 846.7h0M877.8 795.2h0M904.6 816h0M949.6 875.5h0M973.5 851.7h0M960.7 872.6h0M946.6 836.4h0M989.7 859.6h0M1007.6 883.5h0M1002.9 884.9h0M959 860h0M1022.2 870.9h0M1052.5 876.7h0M914.4 854.8h0M913.8 826.9h0M999.2 881.7h0M874.6 809.4h0M875.1 803.2h0M896.6 830.4h0M892.8 814.7h0M937.7 862.8h0M968.3 841h0M1025.5 880.7h0M990.6 867.1h0M959.9 844.9h0M1044.9 877.8h0M888.4 799.9h0M889.1 836.2h0M969.3 859.4h0M888.8 803h0M1030.3 864.2h0M892 835.4h0M927 827.3h0M873.9 806.8h0M963.8 871.3h0M988.5 889.5h0M996.4 866.2h0M966.3 894.5h0M1003.1 872.3h0M925.7 836.4h0M1036.8 865h0M947.9 874.9h0M990.5 847.4h0M942.7 868.3h0M944 845.1h0M977.5 897.6h0M1028.8 861.5h0M941.4 848.4h0M893.3 809.1h0M982.1 898.5h0M969.8 886.9h0M1004.7 877.3h0M885.1 814.8h0M918.9 863.4h0M874.1 805.6h0M931.1 831.8h0M874.2 800.3h0M1019.3 887.3h0M992.9 900.8h0M909.1 826.9h0M883.3 800.9h0M991 857.5h0M954.6 848.1h0M1013.4 890.3h0M896.5 829h0M841.7 804.5h0M909.7 821.9h0M886.4 802h0M941.4 873.1h0M953.6 854.7h0M937.3 841.4h0M908.4 845.7h0M902.7 850.3h0M976.3 840.7h0M921.2 830.5h0M908.9 840h0M1004.3 875.4h0M992.5 887.5h0M900.9 847.2h0M942.8 840.2h0M1039.8 871.5h0M1007 884.4h0M896.4 825.1h0M963.3 867h0M965.5 847.7h0M955.1 885.9h0M970.7 883.9h0M884 828.7h0M1019.4 895.6h0M978.5 842.4h0M953.3 885.9h0M923.6 844.3h0M991.4 865.9h0M1049.6 873.7h0M994.5 896.8h0M1033.2 876.3h0M903.5 844.1h0M1027.2 884.3h0M873.8 799.1h0M1046.8 864.8h0M943.5 839.8h0M1061.1 877.6h0M994 891.6h0M991 886.9h0M953.2 862.1h0M867.9 819h0M918.9 854.5h0M938.3 862.6h0M987 891.9h0M993.6 884h0M997.1 854.8h0M999.9 861.1h0M978.8 878.2h0M855.7 816.1h0M966.7 860.4h0M969.9 896.9h0M895.1 822.8h0M877.9 809.8h0M1033.8 859.6h0M930.7 848.6h0M984.1 886.5h0M899.5 818.1h0M895.3 820.3h0M899.4 838.7h0M918 861.5h0M895.7 843.5h0M921.7 830h0M923.9 859.5h0M915.4 825h0M912.8 858.1h0M1013 896.3h0M972.5 877.2h0M942.1 846.9h0M916.3 851.2h0M877.1 821.9h0M1000.7 893.2h0M976.5 848.5h0M966 880.4h0M976.1 842.9h0M1017.5 871.1h0M918.2 818.1h0M1004.8 885.4h0M995.5 898.1h0M914.3 818.7h0M1005.1 882.6h0M1031 874.6h0M1022.9 883.3h0M971.7 892.2h0M992.6 893.4h0M869.2 824.6h0M985.3 844.3h0M962 867.3h0M914.5 818.8h0M1000.6 868.5h0M877.8 825.3h0M991.1 897.5h0M1010.8 892.7h0M903 828.2h0M924.3 841.6h0M901 841.9h0M962.5 892.3h0M1022.5 880.3h0M997.7 886.6h0M1026.2 860.7h0M897.8 825.1h0M996.2 892.4h0M997.4 848.2h0M979.8 844.2h0M957.7 860.8h0M978.8 895.5h0M962 878.7h0M894.8 811.6h0M968.5 855.4h0M969.8 896.2h0M1030.7 868.7h0M978.2 842.1h0M874 808.9h0M990.1 877.9h0M958.2 851.8h0M883.1 808.9h0M1032 877.1h0M989.3 891h0M884.5 818.5h0M964.4 838.7h0M963.5 869h0M1002.2 887.1h0M873 823.1h0M857.6 815.3h0M1036.4 863.8h0M1021.5 872.7h0M942 880.1h0M892.1 846h0M989.5 888.7h0M978 889.2h0M1003.6 882.6h0M1050.2 867.8h0M961.7 888.4h0M1016.8 861.6h0M1000 879h0M980.3 890h0M867.2 793.2h0M985.2 905.6h0M920.9 830.6h0M960.3 860h0M1001.9 849.2h0M927.1 840.1h0M878.4 833.8h0M1036.9 876h0M974.7 895.2h0M1000.1 867.5h0M994.5 851.3h0M1008.1 898.7h0M907.7 825.3h0M973.4 865.4h0M1028.8 870.8h0M1020.8 867.4h0M973.3 883.3h0M1001.7 864.3h0M1007.7 854h0M1062.1 873.4h0M947.8 877.7h0M995.2 875.8h0M962.1 854h0M876.6 818.7h0M922.6 830.6h0M980.2 884.8h0M983 870.2h0M913.6 849.3h0M974.7 855.1h0M985.1 856.7h0M940.3 830.1h0M1061 876.1h0M874.1 822.4h0M979.3 883h0M1002.5 885.2h0M1000.9 859.7h0M981.2 853.3h0M934.3 858.2h0M907 851.4h0M922.3 843.8h0M1009.2 893.1h0M1019.5 873.2h0M1020.9 860.8h0M963.4 870.9h0M989.7 901h0M902.9 832.1h0M1017.2 894.5h0M906.5 823.9h0M945.8 854.6h0M881.2 803.7h0M950.4 851.9h0M931.9 824.3h0M925.1 863.2h0M940.1 838.2h0M997.3 862.8h0M924.3 854h0M980.2 893.4h0M998.5 867.9h0M993.5 860.6h0M912.3 815.4h0M885.6 839.7h0M1007.1 876.2h0M1060.8 870.7h0M1043.2 861.8h0M964 864h0M907.2 853.7h0M887.5 827.7h0M896.9 828.2h0M1014.9 878.4h0M934.8 873.7h0M1043.2 883.9h0M918.8 819.9h0M907.6 840h0M896.2 836.4h0M931.3 836.4h0M1014.3 861.9h0M809 768.6h0M883.2 827.3h0M980.9 889.9h0M904 837.5h0M1003.1 866.1h0M983.9 853.4h0M1035.9 875.9h0M1011.1 863.4h0M972 859.5h0M991.1 894.7h0M863.9 797.3h0M1059.7 869h0M980 891.2h0M917.4 863.2h0M947.2 856h0M968.2 873.8h0M1006.1 861.5h0M1059.9 878.8h0M1004.2 892.1h0M892.2 846.3h0M997.4 876.8h0M905.7 832.9h0M894.7 845.2h0M978.7 871.4h0M874.4 807h0M935 864h0M982.6 845.2h0M984.8 869.3h0M865.1 814.5h0M992.7 899.1h0M806.1 752.8h0M1002.1 892.1h0M999 849.7h0M876.2 825h0M1054.4 873.5h0M867 813.4h0M937.9 868.8h0M926.7 864.6h0M901.2 821.6h0M959.7 843.2h0M989 896.4h0M893.3 807h0M935 866.5h0M892.7 844.9h0M878.8 828.3h0M952.1 842.2h0M997.6 847.6h0M902.5 837.5h0M1030.5 867.7h0M965.2 886.8h0M911.7 847.3h0M984.3 901h0M990.9 891.7h0M992.4 881.9h0M851.4 804.8h0M1057 870.8h0M927.5 865.9h0M1020.8 882.3h0M935.2 861.4h0M958.1 842.8h0M992.8 879.5h0M909.8 831.7h0M887.1 831.2h0M980.4 874.5h0M904.1 852.9h0M959.9 854.8h0M994.7 900.6h0M924 859.6h0M992.6 861.7h0M985.3 876.3h0M917 857.3h0M935.3 869.8h0M1058.2 873.2h0M979.2 848.2h0M906.4 827.3h0M1057 875.5h0M1054.4 865.9h0M912 859.1h0M1023 885.4h0M856.7 802.6h0M912.9 827.7h0M910.4 855.8h0M1048.7 877.4h0M988.6 878.1h0M927.5 825.1h0M952.5 871.8h0M936.6 860.7h0M902 853.6h0M976 880.5h0M1001.8 859.7h0M913.3 846.1h0M957 881.6h0M974.4 897.1h0M1001.6 888.1h0M1020.8 859.7h0M953.5 863.4h0M971.3 861.2h0M954.7 877.8h0M979 890.2h0M911.3 841.3h0M889.1 812.9h0M1006.2 878.7h0M1011.4 886.6h0M931.2 870h0M995.9 892.5h0M937.1 849.3h0M982.9 883.2h0M955.7 869h0M996.8 883.5h0M986.8 874.4h0M931 868.2h0M944.4 837.4h0M947.7 867.8h0M880.5 819.6h0M910.6 836.2h0M941.6 834h0M971.3 861.3h0M997.2 874h0M875.3 816.7h0M1070.2 869.8h0M865.3 799.2h0M994.2 848.9h0M1003.5 899.1h0M979.8 897.4h0M947.4 869h0M884.5 813.7h0M960.1 890.5h0M991.7 869.7h0M1032.9 860.9h0M857.6 798.7h0M1021.6 881.2h0M1044 882.7h0M980.8 866h0M1027.2 874h0M1028.2 878.3h0M1017.5 893.6h0M1018.5 883h0M979.3 878.7h0M1033.4 883.6h0M995.7 900.5h0M984.9 902.5h0M1026.3 889.2h0M875.7 802.5h0M963.1 878.4h0M1017.9 879.2h0M881.6 825h0M1002.5 877.2h0M1007.8 858.3h0M1000.7 876.2h0M879.8 808.4h0M889.4 830.7h0M914.9 854.4h0M1001.7 892.6h0M966.4 872.2h0M903.4 852.5h0M994.7 847.5h0M972.3 880.7h0M968.3 840.4h0M956.4 855.8h0M886.5 798.9h0M1045.7 864.3h0M1026.4 885.1h0M964.9 854.2h0M895.5 819.6h0M926.3 863.1h0M996.3 856h0M950.6 838.4h0M920.1 841h0M1005.1 883.3h0M888.8 833.3h0M975.7 872.8h0M937.7 875.8h0M934.9 846.4h0M932.3 853.7h0M874.3 806.4h0M1016.1 876.3h0M874.1 802.3h0M888.5 801.9h0M1006.1 882.1h0M966.9 882.7h0M994.8 864.8h0M986.9 882.9h0M1050.6 876h0M881.6 829h0M1017.3 859.4h0M993.3 900.1h0M990 896.6h0M866.3 818.3h0M888.4 815.2h0M966.4 878.9h0M939.3 871.4h0M1006.9 868.1h0M940.5 875.1h0M920.7 827.4h0M948.3 879.8h0M956.9 839.4h0M937.9 857.4h0M1032.3 888.4h0M946.7 852.5h0M1040.1 875.8h0M972 845.3h0M963.4 864.6h0M871.9 801.5h0M867 792.5h0M920.5 818.5h0M966.6 886.6h0M808 755.7h0M926.2 853.6h0M1029.2 889.3h0M999.7 857.7h0M1042.9 872.3h0M1009.8 878.8h0M911.7 844.6h0M1001.3 878.5h0M951.9 840.2h0M918.6 840.3h0M1009.9 857.6h0M987.6 863.2h0M881.8 800h0M976.7 882.2h0M883.9 817h0M935.8 844.5h0M999.1 884.2h0M914.8 854.3h0M926.3 869.2h0M992.4 878.5h0M878.3 828.2h0M890.6 807.6h0M950.1 863h0M1019.5 877.6h0M985.6 869.7h0M938.2 875.4h0M1007.3 895.7h0M1008.9 885.4h0M978.8 843.5h0M944.6 829.7h0M984.7 852h0M958.3 869.9h0M854.9 812.2h0M892 808.8h0M972.7 890.8h0M968.9 845.1h0M989.9 903.3h0M945.2 867.9h0M1022.7 859.5h0M957.8 860.8h0M826.5 796.3h0M994.5 850.7h0M990 850.3h0M940.8 865.6h0M1000.2 902.2h0M954 870.8h0M956.4 888.7h0M889.4 806.5h0M990.4 882.9h0M974 876.4h0M1041.6 877.9h0M942.3 839.9h0M967.6 875.5h0M936 871.1h0M953 856.8h0M956.9 859.4h0M1022 894h0M981.1 878.5h0M970.5 841.4h0M1002 901.2h0M1028 887.3h0M927.1 858.3h0M978.3 844.2h0M1007.6 893.3h0M921.9 856.7h0M950.2 851.8h0M1009.6 873.1h0M928.2 865.4h0M900 846.2h0M1034.8 867.9h0M982.2 843.3h0M915.9 845.5h0M943 829.9h0M886.6 832.6h0M897.6 849.7h0M996.3 865.1h0M968.9 846.7h0M902.9 829.3h0M1019.6 889.7h0M984.3 898.7h0M959.3 885.6h0M960.8 853.4h0M857.3 797.4h0M910.1 848.6h0M933.8 846.7h0M875.9 829.6h0M934.5 859.1h0M1004.4 885.6h0M936.8 863.9h0M1076.4 871.7h0M984 870.2h0M993.1 858.8h0M960.5 874.9h0M1050.6 876.4h0M893.6 826h0M984.9 908h0M1049.2 880.3h0M967.7 892.4h0M996 889h0M892 838.2h0M969.9 862.5h0M1015.5 863.5h0M998.8 850.8h0M997.4 889.2h0M834.1 756.8h0M957.7 864.2h0M897 826.8h0M1019.8 880.9h0M837.2 789.9h0M866 809.7h0M948.1 881.8h0M956.7 865.1h0M985.5 863.9h0M974.5 878.4h0M884.6 838.1h0M1062.6 866.4h0M1027.2 864.6h0M906.6 842.6h0M987.2 868.2h0M992.6 849.5h0M1012.3 889.6h0M903.2 824h0M1056.5 874.4h0M920.4 834.6h0M994.5 877.3h0M974.6 861.5h0M921.7 822.4h0M972.3 860.7h0M973.2 890.5h0M1043 880.1h0M935.4 838.1h0M1025.4 873.3h0M1058.4 867.8h0M1037.9 861.9h0M857 786.6h0M912.5 845h0M1023.1 868.1h0M996.8 867.2h0M1025.2 879.4h0M834.4 798.8h0M901.1 823.2h0M1007.1 898.5h0M988.7 855.3h0M989 881h0M1009.7 869.1h0M892.8 810.6h0M933.9 830.9h0M958.1 851.2h0M889.4 815h0M1016.9 856.4h0M890 842.5h0M866.3 814.9h0M994 901h0M869.8 828.6h0M938.1 841.5h0M977.4 870.2h0M874.1 819.2h0M952.7 876.1h0M989 893h0M1023.2 866.8h0M894.3 809.7h0M894.7 813.2h0M894.6 811.4h0M1013.4 889.1h0M911.2 821.6h0M967.1 891.1h0M974.7 895h0M917 830h0M975.4 894.5h0M918.3 858h0M988.1 883.4h0M872.5 822.3h0M892.5 827.5h0M998.1 864.6h0M1000.5 866.1h0M880.1 835.4h0M909.4 831.5h0M1031 872.2h0M964.2 891.6h0M908.4 831.1h0M1010.6 884.1h0M970.2 861.9h0M956.3 884.1h0M865.5 824.9h0M877.4 811.9h0M1011.6 871.2h0M909.8 848.2h0M980.4 900.8h0M959.5 866.4h0M956.6 850.4h0M1031.9 859.9h0M928.3 862h0M962.9 860.8h0M965.3 842.2h0M983 887.8h0M904.7 852.5h0M904.6 852.2h0M1001.1 874.2h0M1020 883h0M1002.1 874.8h0M936.6 874.9h0M945.5 849.3h0M961.4 877.7h0M1016.8 893.4h0M985.4 902.5h0M1009.3 879h0M997.7 864h0M953.1 872.4h0M1030.3 866.4h0M988.6 869.3h0M864.9 798.4h0M955.7 838.6h0M928.8 866.1h0M967.2 871.8h0M862.1 806.7h0M1002.5 884.4h0M889.7 819h0M912.9 823h0M917.1 846h0M870.6 810.2h0M1024.6 879.8h0M973.7 884h0M987.6 905h0M863.2 811.1h0M1001.3 873.9h0M981 855.4h0M920 818.9h0M1007.6 857.1h0M1004.9 869.9h0M930.8 824.6h0M1023.8 879.6h0M900.9 815.5h0M1035.5 878.5h0M972.6 888.6h0M933.4 870.9h0M880.8 834.6h0M999.5 876.7h0M955 882.7h0M1040.3 884.6h0M991.8 861.1h0M1037.1 876.8h0M1048.1 876.9h0M958.2 860.7h0M904.9 841.4h0M1013.3 875.3h0M943.4 878.3h0M1017.7 870.6h0M928.8 846.5h0M929.2 838h0M902.8 832.6h0M1004.2 877.1h0M940.1 844.8h0M998.7 880.7h0M1008.9 894.6h0M1010.9 896.2h0M1037.3 876.8h0M1021.3 876.8h0M930.6 833.4h0M1056.5 871h0M931.5 867.8h0M983 898.6h0M1008.9 885.7h0M982.5 896.7h0M992 876.2h0M927.9 846.6h0M995.7 862.5h0M942.3 875.8h0M864 823.4h0M983.3 901.4h0M946 853.8h0M976.1 861.1h0M1010.7 871.8h0M978.3 898.2h0M894.5 808.8h0M1025.6 869.5h0M878.1 807.4h0M996.7 882.6h0M956.5 868.4h0M936.7 854.6h0M1004.7 870.3h0M945.6 856.5h0M963.6 842.5h0M896.4 839h0M898.9 849.4h0M894.4 820.5h0M864.8 798.7h0M989.4 883.3h0M919.1 822.6h0M896.4 820.8h0M960.7 851.5h0M952.4 865h0M934.4 849h0M1022.8 868h0M1016.6 877.9h0M1029.8 859.3h0M1068.9 870.3h0M985.5 880.1h0M905.9 829.1h0M918.1 817.3h0M985.7 850.9h0M940 867.4h0M1036.5 861.8h0M950.7 881.7h0M978.1 846h0M969.1 889.3h0M938.2 851.5h0M991.6 893.8h0M1042.5 874h0M950.2 848.4h0M972.6 885.7h0M880.4 812.1h0M1015.9 860.3h0M925.8 822.7h0M950.1 873.8h0M961.4 891.8h0M1015.7 863h0M990.8 850.7h0M930.2 852.5h0M994.3 877.2h0M977.6 865.6h0M938.2 831.8h0M957.4 844.7h0M993.3 859.5h0M980.6 897.5h0M840.7 757.8h0M989.4 866.4h0M939.6 847h0M1032.2 870.4h0M896.1 830.5h0M959.9 863.7h0M927.3 822.1h0M933.9 846.3h0M992.8 882h0M957.6 868.9h0M986.6 849.2h0M1021.9 858h0M952.3 839.4h0M893.2 810.8h0M917.3 816.4h0M884.4 823.2h0M1036.1 875.8h0M933.5 865.4h0M816.9 781.7h0M878.6 807.3h0M1042.3 869.9h0M887.3 812.8h0M1017.5 864.4h0M985.7 850.3h0M1027.2 857.3h0M948.9 881.1h0M939.5 874h0M963 882.5h0M974.1 849.2h0M976.9 841.8h0M897.3 823.5h0M938.9 842.8h0M975.5 844h0M1019.4 885.9h0M945.4 831.5h0M1026.7 882.6h0M981.9 884.1h0M951 856.5h0M889.9 803.9h0M968.2 847.9h0M921.1 840.7h0M1063.5 870.8h0M915.2 845h0M1029.3 885.3h0M1011.5 883.8h0M983 884.4h0M935.9 834.1h0M949.3 841.4h0M899.3 847.4h0M963.8 885.6h0M967.6 879.5h0M955.6 851.4h0M986.4 888.5h0M896.5 848.1h0M982.6 875.4h0M1009.7 864.7h0M1065.3 875.2h0M892.9 831.7h0M994.8 863.1h0M978.6 855.7h0M898.3 831.2h0M1002.1 884.1h0M877.2 812.4h0M942.6 877.2h0M807.6 768.6h0M929.6 920.5h0M909.7 896h0M863.7 851.7h0M817.2 788h0M828.5 803.4h0M821 792.7h0M841.7 824.2h0M864.4 853.5h0M1020 896.2h0M843.2 823.8h0M1064.8 876.5h0M952.5 949.3h0M945.7 944.1h0M893.4 875.9h0M1018.4 895.8h0M985.3 906.8h0M1009.7 897.2h0M833.1 808.6h0M1079.5 871h0M857 844.3h0M805.6 760.9h0M987.8 904.8h0M818 789.9h0M890.3 872.7h0M892.5 874.5h0M880.4 867.2h0M960.6 927.5h0M1071.9 873h0M819.4 790.9h0M987.2 904.9h0M907 896h0M886 868.8h0M873 861.8h0M1009 899h0M808.4 769.7h0M845.6 829.2h0M964.8 925.3h0M981.4 911.5h0M918.2 905.2h0M813.4 782.7h0M821.2 793.9h0M1067.9 874.6h0M807.5 769.7h0M847.2 832.5h0M1032.5 887.5h0M1043 884.7h0M1015 897.8h0M958.9 931.3h0M924.4 911.8h0M970.2 921.9h0M808 771.1h0M837.6 815.9h0M1071.6 875.1h0M979.9 911.9h0M852.6 839.2h0M1012 896.4h0M1015.5 896.6h0M1066.8 874.7h0M896.4 879.9h0M874.5 862h0M1016.4 897.3h0M896.9 880.6h0M812.2 779.5h0M877.5 863.4h0M893.4 877.9h0M988.6 904.5h0M923.7 910.9h0M985.4 908h0M885.1 869.5h0M921.9 909.4h0M1058.9 877.5h0M896.5 880.8h0M912.9 899.2h0M1019.4 895.1h0M1038.4 885.6h0M813.5 783.4h0M902.5 888.1h0M803.8 750.8h0M827.3 800.9h0M916.8 903.9h0M858.3 848.6h0M1004.3 900.5h0M978.6 914.5h0M909 896.2h0M1059.6 878.4h0M803.6 749.8h0M1013 896.9h0M971.4 919.7h0M825.6 797.8h0M987.7 906.6h0M1051.1 881.5h0M874.2 863h0M1029.3 890.6h0M908.4 895.4h0M1005.8 898.9h0M837 817.5h0M869 857h0M978.3 913.5h0M971.2 921.3h0M906.6 892.5h0M807.6 767.4h0M996.2 902.2h0M810.8 778.3h0M985.7 908.4h0M903.6 888.6h0M873 859.5h0M865.6 855.1h0M1012.9 898.3h0M813.2 780.6h0M952.1 949.3h0M969.7 922.7h0M952.7 949.1h0M961.3 927.5h0M983 908.5h0M960.9 928.5h0M890.3 874.2h0M867.4 857.2h0M967.9 923.9h0M884.9 868.3h0M1070.6 872.6h0M916.2 902.5h0M1000.2 900.7h0M1010 899.1h0M995.3 903.6h0M944.9 943.1h0M1054.7 880.6h0M915.5 901.9h0M828.2 803.6h0M1013 898.6h0M839.4 818.3h0M1011.8 898.6h0M1017 896.1h0M986.4 907.3h0M896.1 881h0M995.5 904.9h0M893.1 876.7h0M980.1 913.2h0M953.9 945.8h0M974.1 918.1h0M843.4 825.3h0M944.9 941.8h0M823.3 794.3h0M1057.8 878h0M927.7 916.8h0M816.7 787h0M1025.9 892.6h0M1026.3 892.2h0M838.6 819.7h0M1072.4 872.9h0M986.1 905.9h0M805.6 760.7h0M910.9 898.2h0M940.4 933.6h0M961.4 928.1h0M981.8 909.1h0M971.2 918.7h0M997.7 901.1h0M1077.6 870.6h0M872.7 861.1h0M848.9 833.5h0M1078.7 872.1h0M966.7 923.7h0M1015.8 897.4h0M975.6 914.7h0M973.2 919.3h0M828.1 802.2h0M946.7 947.7h0M1049.3 882.7h0M1077.4 870.7h0M999.4 901.2h0M809.6 775.2h0M1019.2 896.8h0M1052.3 880.6h0M953 949.4h0M1030.5 888.2h0M1018.5 895.1h0M827.1 802.1h0M946 946.6h0M820.7 791.3h0M1076.6 871.9h0M1027.5 889.3h0M1007 899.1h0M940.9 935.4h0M842.1 824.4h0M862 849.9h0M951.5 950.1h0M807.1 768h0M974.3 917.8h0M855.9 843h0M907.6 894.2h0M821.7 793.5h0M909.4 895.5h0M955.5 937.4h0M1053.4 880.6h0M867.4 856.9h0M1074.5 873.2h0M1050 880.9h0M890.4 872h0M1014.8 895.8h0M848 831.4h0M943 940.1h0M826.6 801.5h0M1043 884.8h0M899 883h0M1026.2 890.3h0M886.9 870.3h0M950 954.8h0M885.5 868.5h0M891.6 875.7h0M813.9 783.7h0M892.8 876.7h0M1074.2 872.2h0M842.8 824.1h0M1054.6 880.1h0M1076.8 872.2h0M991.1 903.3h0M839.1 819.9h0M1056.3 880.8h0M1053.5 880.7h0M964.7 924.3h0M966.6 923h0M1036.7 887.5h0M967.2 924.4h0M960.4 928.2h0M1011.6 898.1h0M984.9 906.5h0M878.9 863.8h0M809.9 775.9h0M846 827.9h0M972.4 919.6h0M975.2 917.1h0M990.3 905.8h0M945.9 946.4h0M955.9 936.8h0M971.5 920.5h0M1021 894.4h0M873.5 862.7h0M979.2 911.7h0M873.2 861.9h0M887.6 870.5h0M1048.3 883.7h0M988.9 904h0M810.5 778.7h0M1046.2 882h0M1063.9 875.3h0M1046.8 881.3h0M868.3 856.1h0M933 922.8h0M1074 872.7h0M910.8 899.7h0M915.4 902.4h0M909.6 898.3h0M891.7 875.4h0M962.9 925.8h0M931.7 922.6h0M1040.5 885.7h0M829 803.8h0M915 901.4h0M805.9 763.4h0M1033 888.5h0M1079.3 869.3h0M1015.4 896.3h0M1053.3 881.6h0M1076.8 870.3h0M809 773.5h0M883.2 869.7h0M892.2 876.6h0M1049.3 882.2h0M841.5 821.4h0M839.9 821.7h0M1058.6 880h0M999.3 902.5h0M874.2 863.3h0M933.8 926.3h0M982.9 909.1h0M874.7 863.3h0M866.1 852.9h0M1001.4 903h0M863 852h0M931.3 921.8h0M958.7 929.9h0M915.5 902h0M912.2 899.2h0M815.4 784.2h0M904.3 890.6h0M993 903.9h0M1009.1 899.6h0M991.1 905.3h0M1018.1 894.1h0M997.5 902.5h0M936.6 928.9h0M967.8 922.2h0M956.9 930.6h0M1048 883.3h0M1054.7 878.8h0M909.6 898.7h0M945.1 944.4h0M884.4 869h0M1076.4 872.5h0M1031.1 888.5h0M889.9 873.2h0M909.2 897.3h0M1033.1 887.4h0M941 934h0M867 856.5h0M957.5 932h0M923.7 911.6h0M962 926.2h0M1072.8 873.5h0M963.2 927.4h0M943.7 940.2h0M1073.2 873.1h0M1058.5 880.1h0M1026.5 891.1h0M1046.3 882.6h0M847.3 831.3h0M834.1 812.7h0M1008 897.9h0M907.2 895.3h0M997.7 903.5h0M1055.8 880.4h0M930.9 921.5h0M939 932.8h0M936.4 928h0M1077.5 871.2h0M978.1 912.5h0M891.5 875.4h0M909.9 899h0M874 863.2h0M923.2 910.7h0M969 922h0M875.1 863.2h0M850.3 835.9h0M1011.8 897.9h0M883.4 868.7h0M1015.3 895.7h0M979.2 912.3h0M1047 881.7h0M1040.9 885.4h0M985.3 907.7h0M900.2 885.1h0M1059.8 879.5h0M836.9 816.9h0M958.5 929.8h0M973.5 918.1h0M937.2 929.5h0M826.5 799.1h0M973.5 919.6h0M958.2 931.8h0M895.1 880.2h0M881.1 865.9h0M994.1 903h0M834.2 810.9h0M927.4 917.2h0M1038.3 885.6h0M853.6 840.5h0M1038.9 885.3h0M836.6 816.3h0M883 867.5h0M923.9 912.7h0M1035.5 888h0M867.2 855.8h0M985.3 906h0M939.8 932.9h0M845.7 830.5h0M863.4 851h0M1038.5 884h0M871.2 860.1h0M864.9 852.2h0M810.6 776.9h0M910.3 898.7h0M1061.4 876.7h0M988.4 906.9h0M946.4 946.9h0M989.5 906.4h0M848.5 833.5h0M1047.5 882.6h0M810.4 775.3h0M999.2 902h0M829.8 805.7h0M1060.8 878.1h0M1043.6 884.6h0M1032.3 889.4h0M981.8 909.3h0M872.9 859.8h0M824.7 797.5h0M859.3 848.5h0M990.5 905.1h0M1039.6 884.2h0M1068 875.1h0M1060.3 877.8h0M899.8 883.7h0M1013.3 898.7h0M843.7 824.7h0M831.1 807.9h0M886.4 871.2h0M1074.1 871.8h0M823.2 795.4h0M1003.9 900.6h0M824.5 799h0M828.3 803.1h0M830.8 803.4h0M831.7 803.3h0M833.3 805.7h0M834.1 806.8h0M839.6 802.9h0M840 806.7h0M840.6 808h0M842.6 812h0M847.8 807.2h0M847.3 811.6h0M846.2 810.6h0M849.3 813.5h0M854.3 814.5h0M852.6 816.2h0M856.7 817.5h0M859.9 817.8h0M862.5 822.8h0M863.3 821.5h0M862.1 823.2h0M867.4 824.8h0M869.2 823.8h0M867 827.3h0M870.8 829.4h0M869 830.7h0M873.3 832h0M875.9 833.2h0M875 835.8h0M878.6 834.7h0M880.2 838.2h0M884.4 839.5h0M882.6 841.1h0M887.2 841.8h0M887 841.8h0M890 845h0M893.2 845.3h0M893.5 848.3h0M894.9 850.8h0M894.6 849.4h0M895.8 851.3h0M902.3 849.9h0M905 858h0M905.8 854.2h0M906.7 857h0M911.3 857.2h0M910 863.9h0M913.7 860.7h0M916.8 860.4h0M916.3 862.4h0M920 863.7h0M921.3 866.6h0M923.3 867h0M926.7 867.8h0M924.1 871.6h0M927.7 870.3h0M931.7 871.9h0M932.6 873.4h0M938 879.5h0M935.8 878.9h0M937.4 877.4h0M940 879h0M940.8 883.7h0M946.1 880.2h0M946.9 885.4h0M950 885.1h0M950.8 888.6h0M952.8 888.4h0M955.5 885.8h0M956.7 889.5h0M960.7 890.7h0M960.8 892.5h0M961.4 898.4h0M965.1 895.8h0M967.5 896.4h0M968.5 895.4h0M969.7 897.2h0M973.3 899.5h0M975.8 898.8h0M979.3 905.2h0M977.7 901.5h0M981.5 905.6h0M984.8 901.3h0M985 906.5h0M983.3 909h0M977.2 911.5h0M984.6 910.3h0M977.5 912.6h0M975.5 913.8h0M975.6 917.4h0M973.3 919h0M973.2 920.9h0M967.4 924.2h0M968 921.5h0M965 925.7h0M960.7 930.9h0M961.3 928.7h0M957.7 929.7h0M956.7 932.3h0M956.2 935.7h0M957 934.1h0M955.5 943.5h0M958.7 942.4h0M952.1 943.6h0M950.6 942.6h0M953 948h0M951.6 950.9h0M949.5 953.5h0M946.8 948h0M946.9 948.5h0M945.1 945.3h0M946.2 943h0M943.3 943.6h0M943.6 939.3h0M944.1 937.8h0M940.9 935.8h0M940.3 935.1h0M936.7 935.3h0M936.2 930.4h0M938.2 927.1h0M937 925.4h0M932.6 924.1h0M930.2 920.7h0M928 919.8h0M928.7 915.4h0M930.1 914h0M927.2 917.4h0M924.2 912.4h0M922.6 910.4h0M921 910.8h0M921.3 907.4h0M917.1 904.7h0M913.3 903h0M916.9 905.3h0M915.2 901.6h0M912.5 898.7h0M909.9 898.2h0M907.6 895.8h0M907.3 893.5h0M904.7 891.7h0M904.3 889.5h0M900.2 891.1h0M898 890.5h0M902.1 884.6h0M896.8 884.5h0M897.9 882.6h0M893.3 879.7h0M895.1 874.8h0M892.2 874.5h0M890.9 874.1h0M890.9 873.7h0M886.7 874.5h0M885.6 869.2h0M883.6 869.4h0M880.8 865.8h0M878 864.6h0M880.6 865.8h0M871.7 864.6h0M874.2 862.4h0M871.5 861.3h0M870 860.1h0M868.9 855.8h0M868.4 860.3h0M865.3 853h0M866.9 854.3h0M860.8 852.3h0M860.8 852.9h0M858.7 851.6h0M857.6 847.4h0M855.3 845.9h0M855.8 842.6h0M850.5 841.5h0M854.2 839.9h0M854.2 837.1h0M852.1 838.4h0M848.7 833h0M846 831.6h0M847.9 830.3h0M845.3 827.1h0M843.3 825h0M842.6 825h0M840.9 822.4h0M842.9 821.8h0M839.9 816.1h0M835.1 817.3h0M836.9 814.1h0M835.4 812.9h0M833.1 807.8h0M830.7 809.1h0M829.7 803h0M829.7 803.2h0M828.4 801.4h0M827.6 801.6h0M826.2 801.6h0M824.2 797.4h0M809.7 773.5h0M818.9 787.3h0M810.9 758.7h0M809.3 755.5h0M822.7 789.3h0M813.3 771.1h0M821 786.6h0M815.9 786h0M807.4 757.4h0M811.9 778.9h0M809 763.8h0M806 756.4h0M819.1 782.3h0M807 756.5h0M810.3 755.9h0M812.2 776.1h0M808.2 763.3h0M820.8 788.4h0M818.4 786.5h0M810.1 764.5h0M813 773.7h0M808 764.2h0M826.9 795.7h0M810.7 761h0M819.6 790.5h0M810.8 770.8h0M813.6 779.9h0M809.6 758.3h0M813.3 777.2h0M814.4 776.9h0M811.6 769.3h0M811.4 769.6h0M806.2 760.5h0M820.8 790.2h0M818.5 783.6h0M807.1 753.9h0M810.2 766.3h0M811.7 777.9h0M809.4 754.7h0M816.9 779h0M824.7 788.9h0M814.3 776.7h0M824.3 792.4h0M826.5 794.3h0M818.8 789.6h0M809.8 765.5h0M806.6 757.5h0M813.8 781.2h0M808.7 754.7h0M809.6 758h0M822.8 787.8h0M824.3 795.4h0M818 788.1h0M807.8 761.7h0M810 773.3h0M822.5 791h0M809.7 772.4h0M812.9 778.4h0M811.5 778h0M808.9 762.9h0M810.7 777.1h0M807.7 757.7h0M817.3 782h0M805.3 755.3h0M812 775.2h0M809.6 769h0M809.2 767.1h0M816 778.7h0M808.5 765.4h0M828.8 799.3h0M820.1 755.3h0M822.5 758.5h0M823.8 757.6h0M814.3 758h0M820.9 758.2h0M826.3 763.1h0M832.5 763.1h0M831.1 762.5h0M826.8 762.6h0M823.7 764.1h0M831.9 762.9h0M827.2 762h0M834.9 756.9h0M845.5 754.2h0M847.1 753.3h0M845 755.8h0M843.9 755.3h0M841.3 756.3h0M834.4 754.3h0M848.3 768.1h0M848.3 769.8h0M850 766h0M844.7 769.2h0M849.7 767.4h0M845.2 767.5h0M827.2 773.5h0M832.6 770.4h0M829.8 771.1h0M833.4 779.5h0M829 780h0M835.3 779.7h0M836.4 780.8h0M831.7 780.7h0M838.1 779.8h0M858.4 783.4h0M854.3 782.8h0M851 779.5h0M861.1 782.1h0M856.1 781.2h0M855.2 781.8h0M837.9 789.7h0M836.1 787.7h0M841.3 790h0M844.2 791.1h0M843 789.2h0M838.5 787.8h0M821.3 749.2h0M824.2 751.2h0M829.1 750.4h0M824 749.1h0M813.1 759.5h0M806.1 759.4h0M805.3 760.6h0M815.9 762h0M833.2 752h0M838.2 750.5h0M834 751.7h0M837.7 754.8h0M835.1 753.3h0M834.9 754.9h0M841 753h0M853.8 774.6h0M850.4 773.4h0M849.5 773.1h0M849.8 773.2h0M850.6 775.2h0M844.1 786h0M843.6 782.9h0M845.5 785h0M846.8 785.5h0M821.4 781.7h0M825.6 782.6h0M814.5 781.1h0M812.8 781h0M811.6 781h0M828 790h0M830.6 790.4h0M836.6 789.4h0M827.6 787.2h0M855.3 788.6h0M860.8 787h0M860.9 789.2h0M854.9 786.9h0M830.1 696.8h0M887.5 772.5h0M925.9 774.1h0M927.2 781.3h0M904.5 789.3h0M917.3 795.2h0M886.1 794.1h0M949.2 957.3h0"/>
<path d="M835.5 715.2h0" stroke="#888" stroke-width="2.2" stroke-linecap="round"/>
<g class="b">
<rect x="-20" y="0.6" width="1240" height="2" fill="#222"/>
<rect x="-20" y="-20" width="21.4" height="1178" fill="#111"/>
<rect x="1198.4" y="-20" width="20" height="1178" fill="#444"/>
<rect x="-20" y="1135.3" width="1240" height="20" fill="#444"/>
<rect x="-20" y="546.4" width="1240" height="2.1" fill="#222"/>
<rect x="601" y="-20" width="2" height="1178" fill="#666"/>
</g>
<g class="h">
<text x="15.75" y="33" textLength="94.85" lengthAdjust="spacingAndGlyphs">Bitcoin</text>
<text x="120.75" y="33" textLength="51.10" lengthAdjust="spacingAndGlyphs">Call</text>
<text x="178.25" y="33" textLength="42.85" lengthAdjust="spacingAndGlyphs">IVS</text>
<text x="232.00" y="33" textLength="117.35" lengthAdjust="spacingAndGlyphs">(training</text>
<text x="358.25" y="33" textLength="109.35" lengthAdjust="spacingAndGlyphs">dataset)</text>
<text x="617.50" y="33" textLength="94.35" lengthAdjust="spacingAndGlyphs">Bitcoin</text>
<text x="721.50" y="33" textLength="45.35" lengthAdjust="spacingAndGlyphs">Put</text>
<text x="774.50" y="33" textLength="43.60" lengthAdjust="spacingAndGlyphs">IVS</text>
<text x="829.50" y="33" textLength="117.35" lengthAdjust="spacingAndGlyphs">(training</text>
<text x="955.75" y="33" textLength="109.35" lengthAdjust="spacingAndGlyphs">dataset)</text>
<text x="15.75" y="579.3" textLength="94.85" lengthAdjust="spacingAndGlyphs">Bitcoin</text>
<text x="120.75" y="579.3" textLength="51.10" lengthAdjust="spacingAndGlyphs">Call</text>
<text x="178.25" y="579.3" textLength="42.85" lengthAdjust="spacingAndGlyphs">IVS</text>
<text x="232.00" y="579.3" textLength="144.60" lengthAdjust="spacingAndGlyphs">(validation</text>
<text x="386.25" y="579.3" textLength="109.35" lengthAdjust="spacingAndGlyphs">dataset)</text>
<text x="617.50" y="579.3" textLength="94.35" lengthAdjust="spacingAndGlyphs">Bitcoin</text>
<text x="721.50" y="579.3" textLength="45.35" lengthAdjust="spacingAndGlyphs">Put</text>
<text x="774.50" y="579.3" textLength="43.60" lengthAdjust="spacingAndGlyphs">IVS</text>
<text x="829.00" y="579.3" textLength="144.60" lengthAdjust="spacingAndGlyphs">(validation</text>
<text x="983.25" y="579.3" textLength="109.35" lengthAdjust="spacingAndGlyphs">dataset)</text>
</g>
</g>
</svg>
</body></html>
